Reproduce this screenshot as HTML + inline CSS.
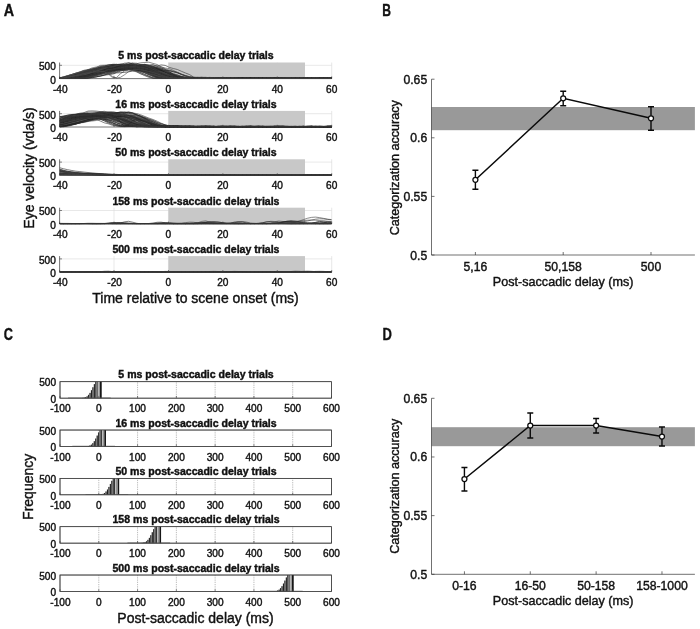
<!DOCTYPE html>
<html><head><meta charset="utf-8"><title>Figure</title>
<style>
html,body{margin:0;padding:0;background:#fff;}
svg{display:block;font-family:'Liberation Sans', Arial, Helvetica, sans-serif;fill:#111;text-anchor:middle;filter:grayscale(1);}
text{stroke:#111;stroke-width:0.4px;}
</style></head><body>
<svg width="700" height="629" viewBox="0 0 700 629">
<rect width="700" height="629" fill="#fff"/>
<text transform="translate(3.7,16) scale(0.91,1)" font-size="15.7" font-weight="bold" style="text-anchor:start;stroke-width:0.35px">A</text>
<text transform="translate(382.2,16) scale(0.77,1)" font-size="15.7" font-weight="bold" style="text-anchor:start;stroke-width:0.35px">B</text>
<text transform="translate(3.7,340.2) scale(0.81,1)" font-size="15.7" font-weight="bold" style="text-anchor:start;stroke-width:0.35px">C</text>
<text transform="translate(382.5,340.1) scale(0.83,1)" font-size="15.7" font-weight="bold" style="text-anchor:start;stroke-width:0.35px">D</text>
<line x1="114.02" y1="62.50" x2="114.02" y2="78.60" stroke="#d9d9d9" stroke-width="0.6"/>
<line x1="168.44" y1="62.50" x2="168.44" y2="78.60" stroke="#d9d9d9" stroke-width="0.6"/>
<line x1="222.86" y1="62.50" x2="222.86" y2="78.60" stroke="#d9d9d9" stroke-width="0.6"/>
<line x1="277.28" y1="62.50" x2="277.28" y2="78.60" stroke="#d9d9d9" stroke-width="0.6"/>
<line x1="331.70" y1="62.50" x2="331.70" y2="78.60" stroke="#d9d9d9" stroke-width="0.6"/>
<line x1="59.60" y1="65.30" x2="331.70" y2="65.30" stroke="#d9d9d9" stroke-width="0.6"/>
<rect x="168.44" y="62.50" width="136.55" height="16.10" fill="#c8c8c8"/>
<clipPath id="ca0"><rect x="59.6" y="60.50" width="272.10" height="18.50"/></clipPath>
<g clip-path="url(#ca0)" fill="none" stroke-width="0.62" stroke-linejoin="round">
<polyline points="59.6,78.6 63.7,77.9 67.7,77.1 71.8,75.9 75.8,74.8 79.9,74.5 84.0,74.1 88.0,72.8 92.1,71.9 96.2,71.7 100.2,71.3 104.3,70.9 108.3,70.9 112.4,70.6 116.5,70.1 120.5,70.2 124.6,70.1 128.6,69.6 132.7,69.3 136.8,69.7 140.8,70.1 144.9,70.1 148.9,70.8 153.0,72.4 157.1,73.2 161.1,74.0 165.2,75.2 169.3,76.4 173.3,77.7 177.4,78.0 181.4,77.7 185.5,77.1 189.6,77.5 193.6,78.2 197.7,78.1 201.7,78.2 205.8,78.4 209.9,78.4 213.9,78.3 218.0,78.1 222.0,78.1 226.1,78.2 230.2,78.2 234.2,78.3 238.3,78.6 242.4,78.6 246.4,78.4 250.5,78.3 254.5,78.3 258.6,78.1 262.7,78.0 266.7,78.0 270.8,78.0 274.8,78.2 278.9,78.4 283.0,78.5 287.0,78.5 291.1,78.5 295.1,78.6 299.2,78.4 303.3,78.3 307.3,78.3 311.4,78.6 315.5,78.6 319.5,78.3 323.6,78.1 327.6,78.1 331.7,78.3" stroke="rgb(72,72,72)"/>
<polyline points="59.6,78.6 63.7,78.4 67.7,78.2 71.8,77.3 75.8,76.1 79.9,75.3 84.0,74.4 88.0,73.2 92.1,72.3 96.2,71.3 100.2,70.5 104.3,69.6 108.3,68.1 112.4,67.6 116.5,66.9 120.5,66.6 124.6,66.1 128.6,65.9 132.7,65.7 136.8,65.5 140.8,65.6 144.9,66.2 148.9,67.0 153.0,68.0 157.1,69.6 161.1,71.3 165.2,73.5 169.3,75.5 173.3,77.1 177.4,78.2 181.4,78.1 185.5,77.8 189.6,77.7 193.6,77.8 197.7,78.0 201.7,78.1 205.8,78.2 209.9,78.1 213.9,78.1 218.0,78.2 222.0,78.2 226.1,78.4 230.2,78.6 234.2,78.2 238.3,78.0 242.4,78.3 246.4,78.3 250.5,78.3 254.5,78.3 258.6,78.4 262.7,78.4 266.7,78.5 270.8,78.3 274.8,78.2 278.9,78.6 283.0,78.6 287.0,78.4 291.1,78.3 295.1,78.5 299.2,78.4 303.3,77.7 307.3,78.0 311.4,78.4 315.5,78.3 319.5,78.3 323.6,78.5 327.6,78.6 331.7,78.4" stroke="rgb(31,31,31)"/>
<polyline points="59.6,78.1 63.7,78.2 67.7,78.2 71.8,78.1 75.8,78.3 79.9,78.3 84.0,77.6 88.0,76.5 92.1,75.4 96.2,74.6 100.2,73.5 104.3,72.2 108.3,71.3 112.4,70.5 116.5,69.6 120.5,68.9 124.6,68.5 128.6,67.9 132.7,67.3 136.8,67.7 140.8,68.2 144.9,67.6 148.9,66.8 153.0,66.5 157.1,66.1 161.1,64.9 165.2,65.4 169.3,67.4 173.3,68.5 177.4,69.5 181.4,71.3 185.5,73.0 189.6,74.6 193.6,77.1 197.7,77.8 201.7,77.8 205.8,77.6 209.9,77.4 213.9,77.8 218.0,78.1 222.0,78.3 226.1,78.4 230.2,78.1 234.2,78.3 238.3,78.5 242.4,78.2 246.4,78.0 250.5,77.8 254.5,78.0 258.6,78.4 262.7,78.2 266.7,78.2 270.8,78.3 274.8,78.1 278.9,77.8 283.0,77.9 287.0,78.2 291.1,78.1 295.1,78.4 299.2,78.5 303.3,78.3 307.3,78.0 311.4,77.7 315.5,78.1 319.5,78.2 323.6,78.6 327.6,78.4 331.7,77.8" stroke="rgb(53,53,53)"/>
<polyline points="59.6,78.3 63.7,78.3 67.7,77.9 71.8,77.2 75.8,76.8 79.9,76.1 84.0,75.1 88.0,74.2 92.1,73.8 96.2,73.0 100.2,72.3 104.3,71.3 108.3,70.9 112.4,70.5 116.5,69.4 120.5,69.2 124.6,69.2 128.6,68.8 132.7,69.0 136.8,69.7 140.8,70.3 144.9,70.4 148.9,71.1 153.0,71.7 157.1,72.1 161.1,73.4 165.2,74.6 169.3,75.2 173.3,76.7 177.4,77.9 181.4,78.3 185.5,78.4 189.6,78.4 193.6,78.4 197.7,78.5 201.7,78.6 205.8,78.6 209.9,78.0 213.9,78.2 218.0,78.4 222.0,78.3 226.1,78.5 230.2,78.4 234.2,78.1 238.3,78.4 242.4,78.5 246.4,78.3 250.5,78.6 254.5,78.4 258.6,77.9 262.7,78.3 266.7,78.3 270.8,78.2 274.8,78.5 278.9,78.2 283.0,78.2 287.0,78.4 291.1,78.2 295.1,78.0 299.2,78.1 303.3,78.5 307.3,78.6 311.4,78.5 315.5,78.4 319.5,78.5 323.6,78.6 327.6,78.6 331.7,78.6" stroke="rgb(64,64,64)"/>
<polyline points="59.6,77.8 63.7,77.2 67.7,75.7 71.8,74.5 75.8,73.5 79.9,71.9 84.0,70.7 88.0,70.5 92.1,70.3 96.2,69.3 100.2,68.6 104.3,67.8 108.3,66.4 112.4,64.8 116.5,64.4 120.5,64.9 124.6,66.2 128.6,66.5 132.7,67.5 136.8,68.6 140.8,69.0 144.9,71.3 148.9,73.6 153.0,75.4 157.1,77.3 161.1,78.0 165.2,78.1 169.3,77.9 173.3,77.9 177.4,78.2 181.4,78.3 185.5,78.5 189.6,78.4 193.6,78.3 197.7,78.5 201.7,78.6 205.8,78.6 209.9,78.4 213.9,78.3 218.0,78.4 222.0,78.5 226.1,78.5 230.2,78.5 234.2,78.6 238.3,78.5 242.4,78.3 246.4,78.6 250.5,78.3 254.5,78.2 258.6,78.4 262.7,78.5 266.7,78.6 270.8,78.6 274.8,78.3 278.9,78.4 283.0,78.4 287.0,78.4 291.1,78.6 295.1,78.5 299.2,78.4 303.3,78.4 307.3,78.5 311.4,78.6 315.5,78.6 319.5,78.6 323.6,78.6 327.6,78.6 331.7,78.6" stroke="rgb(30,30,30)"/>
<polyline points="59.6,78.3 63.7,77.8 67.7,77.2 71.8,76.4 75.8,75.1 79.9,73.6 84.0,72.3 88.0,70.7 92.1,70.2 96.2,69.8 100.2,69.7 104.3,69.2 108.3,69.1 112.4,68.2 116.5,68.0 120.5,67.2 124.6,66.6 128.6,67.1 132.7,67.8 136.8,69.0 140.8,70.4 144.9,72.5 148.9,74.1 153.0,75.3 157.1,76.2 161.1,76.9 165.2,77.7 169.3,77.6 173.3,77.1 177.4,77.4 181.4,77.7 185.5,77.6 189.6,77.8 193.6,78.3 197.7,78.3 201.7,78.5 205.8,78.4 209.9,78.3 213.9,78.3 218.0,78.2 222.0,78.4 226.1,78.3 230.2,78.3 234.2,78.3 238.3,78.4 242.4,78.5 246.4,78.4 250.5,78.4 254.5,78.4 258.6,78.6 262.7,78.6 266.7,78.5 270.8,78.2 274.8,78.4 278.9,78.6 283.0,78.6 287.0,78.5 291.1,78.4 295.1,78.5 299.2,78.3 303.3,78.0 307.3,78.1 311.4,78.3 315.5,78.4 319.5,78.3 323.6,78.5 327.6,78.4 331.7,78.2" stroke="rgb(69,69,69)"/>
<polyline points="59.6,78.2 63.7,78.3 67.7,78.6 71.8,78.3 75.8,77.9 79.9,77.4 84.0,77.0 88.0,76.5 92.1,75.7 96.2,74.6 100.2,73.5 104.3,72.3 108.3,72.0 112.4,71.2 116.5,70.7 120.5,69.1 124.6,68.4 128.6,67.5 132.7,66.3 136.8,65.4 140.8,65.7 144.9,66.1 148.9,66.3 153.0,67.3 157.1,68.5 161.1,69.8 165.2,71.0 169.3,72.9 173.3,74.4 177.4,76.0 181.4,77.2 185.5,78.0 189.6,78.2 193.6,78.4 197.7,78.1 201.7,78.1 205.8,78.5 209.9,78.2 213.9,78.1 218.0,78.2 222.0,78.1 226.1,78.0 230.2,78.1 234.2,77.9 238.3,78.1 242.4,78.5 246.4,78.4 250.5,78.5 254.5,78.4 258.6,78.1 262.7,78.2 266.7,78.6 270.8,78.3 274.8,78.2 278.9,78.0 283.0,77.9 287.0,78.2 291.1,78.4 295.1,78.4 299.2,78.3 303.3,78.6 307.3,78.5 311.4,78.4 315.5,78.4 319.5,78.4 323.6,78.2 327.6,78.0 331.7,78.1" stroke="rgb(47,47,47)"/>
<polyline points="59.6,78.6 63.7,78.6 67.7,77.2 71.8,76.0 75.8,74.9 79.9,73.6 84.0,72.4 88.0,71.2 92.1,69.6 96.2,68.8 100.2,67.8 104.3,66.7 108.3,66.0 112.4,65.8 116.5,65.4 120.5,64.9 124.6,65.0 128.6,65.7 132.7,66.1 136.8,66.5 140.8,67.6 144.9,69.3 148.9,70.0 153.0,72.0 157.1,74.5 161.1,76.6 165.2,77.7 169.3,77.8 173.3,77.9 177.4,77.9 181.4,78.0 185.5,77.8 189.6,77.9 193.6,77.9 197.7,78.2 201.7,78.1 205.8,78.1 209.9,78.2 213.9,78.0 218.0,78.1 222.0,78.4 226.1,78.3 230.2,78.2 234.2,78.5 238.3,78.5 242.4,78.2 246.4,78.1 250.5,78.5 254.5,78.4 258.6,77.7 262.7,77.6 266.7,78.0 270.8,78.2 274.8,78.1 278.9,78.0 283.0,78.0 287.0,78.3 291.1,78.2 295.1,78.0 299.2,78.3 303.3,78.4 307.3,78.2 311.4,78.1 315.5,78.1 319.5,78.0 323.6,78.0 327.6,78.1 331.7,78.4" stroke="rgb(49,49,49)"/>
<polyline points="59.6,78.6 63.7,78.6 67.7,77.9 71.8,76.7 75.8,75.8 79.9,74.7 84.0,73.9 88.0,73.2 92.1,71.7 96.2,70.0 100.2,69.1 104.3,68.5 108.3,68.2 112.4,68.0 116.5,68.5 120.5,68.2 124.6,68.1 128.6,67.1 132.7,67.1 136.8,67.3 140.8,68.1 144.9,69.0 148.9,70.6 153.0,71.9 157.1,73.7 161.1,74.7 165.2,76.4 169.3,78.0 173.3,78.3 177.4,78.1 181.4,78.4 185.5,78.6 189.6,78.6 193.6,78.3 197.7,78.4 201.7,78.5 205.8,78.2 209.9,78.2 213.9,78.2 218.0,78.2 222.0,78.6 226.1,78.6 230.2,78.4 234.2,78.6 238.3,78.6 242.4,78.6 246.4,78.6 250.5,78.6 254.5,78.6 258.6,78.6 262.7,78.6 266.7,78.6 270.8,78.5 274.8,78.6 278.9,78.4 283.0,78.4 287.0,78.5 291.1,78.6 295.1,78.6 299.2,78.5 303.3,78.5 307.3,78.6 311.4,78.6 315.5,78.6 319.5,78.6 323.6,78.5 327.6,78.3 331.7,78.6" stroke="rgb(66,66,66)"/>
<polyline points="59.6,78.4 63.7,78.3 67.7,78.3 71.8,78.0 75.8,77.2 79.9,76.4 84.0,75.2 88.0,73.9 92.1,72.4 96.2,70.7 100.2,69.8 104.3,69.3 108.3,68.7 112.4,67.9 116.5,67.7 120.5,68.0 124.6,67.4 128.6,67.6 132.7,68.4 136.8,69.1 140.8,69.3 144.9,70.8 148.9,72.0 153.0,73.8 157.1,75.2 161.1,76.6 165.2,77.2 169.3,77.6 173.3,77.8 177.4,77.9 181.4,77.9 185.5,78.1 189.6,78.4 193.6,78.2 197.7,78.0 201.7,78.2 205.8,78.3 209.9,78.3 213.9,78.3 218.0,78.5 222.0,78.6 226.1,78.5 230.2,78.5 234.2,78.6 238.3,78.5 242.4,78.5 246.4,78.4 250.5,78.3 254.5,78.3 258.6,78.4 262.7,78.5 266.7,78.3 270.8,78.1 274.8,78.3 278.9,78.3 283.0,78.2 287.0,78.2 291.1,78.0 295.1,78.1 299.2,78.3 303.3,78.1 307.3,78.2 311.4,78.5 315.5,78.3 319.5,78.1 323.6,78.2 327.6,78.2 331.7,78.3" stroke="rgb(32,32,32)"/>
<polyline points="59.6,78.2 63.7,76.9 67.7,75.9 71.8,74.6 75.8,73.1 79.9,72.1 84.0,70.2 88.0,69.6 92.1,67.9 96.2,67.0 100.2,66.7 104.3,66.5 108.3,64.8 112.4,64.7 116.5,65.5 120.5,65.7 124.6,66.8 128.6,68.1 132.7,69.8 136.8,70.8 140.8,72.6 144.9,74.4 148.9,76.2 153.0,77.9 157.1,78.0 161.1,78.0 165.2,78.1 169.3,78.1 173.3,78.1 177.4,78.2 181.4,78.1 185.5,78.1 189.6,78.3 193.6,78.5 197.7,78.4 201.7,78.4 205.8,78.6 209.9,78.6 213.9,78.5 218.0,78.5 222.0,78.4 226.1,78.2 230.2,78.6 234.2,78.6 238.3,78.2 242.4,78.3 246.4,78.6 250.5,78.5 254.5,78.1 258.6,78.1 262.7,78.3 266.7,78.4 270.8,78.3 274.8,78.2 278.9,77.9 283.0,78.1 287.0,78.2 291.1,78.3 295.1,78.4 299.2,78.5 303.3,78.6 307.3,78.5 311.4,78.5 315.5,78.4 319.5,78.4 323.6,78.5 327.6,78.4 331.7,78.5" stroke="rgb(67,67,67)"/>
<polyline points="59.6,78.6 63.7,78.6 67.7,78.6 71.8,78.5 75.8,78.2 79.9,78.0 84.0,78.0 88.0,77.7 92.1,76.6 96.2,75.4 100.2,74.8 104.3,74.0 108.3,73.0 112.4,71.9 116.5,70.3 120.5,69.7 124.6,68.1 128.6,67.9 132.7,67.0 136.8,67.2 140.8,66.7 144.9,67.0 148.9,67.2 153.0,68.1 157.1,68.2 161.1,69.2 165.2,70.6 169.3,72.0 173.3,73.6 177.4,75.0 181.4,76.8 185.5,78.0 189.6,77.7 193.6,77.7 197.7,77.8 201.7,77.7 205.8,78.0 209.9,78.1 213.9,78.0 218.0,78.3 222.0,78.4 226.1,78.1 230.2,78.1 234.2,78.2 238.3,78.1 242.4,78.2 246.4,78.2 250.5,78.1 254.5,78.4 258.6,78.3 262.7,78.1 266.7,78.0 270.8,78.2 274.8,78.3 278.9,78.0 283.0,78.0 287.0,78.1 291.1,77.9 295.1,78.1 299.2,78.2 303.3,78.2 307.3,78.1 311.4,78.1 315.5,78.4 319.5,78.3 323.6,78.3 327.6,78.2 331.7,78.1" stroke="rgb(56,56,56)"/>
<polyline points="59.6,78.5 63.7,78.4 67.7,78.4 71.8,78.6 75.8,78.3 79.9,77.6 84.0,77.4 88.0,76.3 92.1,75.0 96.2,73.9 100.2,72.6 104.3,71.8 108.3,71.3 112.4,70.3 116.5,68.5 120.5,67.7 124.6,67.6 128.6,67.0 132.7,65.9 136.8,65.8 140.8,65.1 144.9,64.3 148.9,65.3 153.0,66.5 157.1,68.7 161.1,70.6 165.2,71.9 169.3,73.5 173.3,75.0 177.4,75.7 181.4,76.6 185.5,77.4 189.6,78.0 193.6,77.9 197.7,78.0 201.7,78.2 205.8,78.0 209.9,78.0 213.9,78.3 218.0,78.6 222.0,78.3 226.1,78.2 230.2,78.6 234.2,78.6 238.3,78.6 242.4,78.2 246.4,78.2 250.5,78.2 254.5,78.2 258.6,78.3 262.7,78.2 266.7,78.3 270.8,78.4 274.8,78.4 278.9,78.6 283.0,78.4 287.0,78.4 291.1,78.5 295.1,78.5 299.2,78.5 303.3,78.5 307.3,78.3 311.4,78.2 315.5,78.4 319.5,78.2 323.6,78.6 327.6,78.6 331.7,78.6" stroke="rgb(56,56,56)"/>
<polyline points="59.6,78.2 63.7,78.0 67.7,77.9 71.8,77.0 75.8,76.1 79.9,75.2 84.0,74.1 88.0,72.9 92.1,72.0 96.2,71.1 100.2,70.0 104.3,69.5 108.3,68.7 112.4,67.8 116.5,66.9 120.5,66.2 124.6,66.0 128.6,65.8 132.7,66.2 136.8,66.2 140.8,68.0 144.9,68.6 148.9,68.9 153.0,70.7 157.1,72.6 161.1,73.7 165.2,74.7 169.3,76.3 173.3,77.4 177.4,77.3 181.4,77.3 185.5,77.7 189.6,77.5 193.6,77.5 197.7,77.9 201.7,77.7 205.8,77.7 209.9,78.1 213.9,78.1 218.0,78.2 222.0,78.2 226.1,78.1 230.2,78.2 234.2,78.3 238.3,78.2 242.4,78.1 246.4,78.0 250.5,78.0 254.5,78.0 258.6,78.1 262.7,78.1 266.7,78.3 270.8,78.0 274.8,78.3 278.9,78.4 283.0,77.6 287.0,78.0 291.1,78.2 295.1,78.2 299.2,78.4 303.3,77.9 307.3,77.7 311.4,78.1 315.5,78.5 319.5,78.6 323.6,78.3 327.6,78.1 331.7,78.2" stroke="rgb(61,61,61)"/>
<polyline points="59.6,78.5 63.7,78.6 67.7,77.3 71.8,75.8 75.8,74.3 79.9,73.0 84.0,71.7 88.0,69.7 92.1,69.0 96.2,67.6 100.2,65.4 104.3,65.2 108.3,65.4 112.4,64.3 116.5,64.3 120.5,65.8 124.6,66.0 128.6,65.7 132.7,66.8 136.8,67.5 140.8,67.8 144.9,69.0 148.9,71.2 153.0,73.3 157.1,75.1 161.1,77.0 165.2,78.5 169.3,78.1 173.3,78.1 177.4,78.3 181.4,78.5 185.5,78.6 189.6,78.4 193.6,78.5 197.7,78.6 201.7,78.6 205.8,78.4 209.9,78.3 213.9,78.6 218.0,78.6 222.0,78.5 226.1,78.5 230.2,78.6 234.2,78.6 238.3,78.5 242.4,78.5 246.4,78.6 250.5,78.6 254.5,78.5 258.6,78.6 262.7,78.6 266.7,78.4 270.8,78.6 274.8,78.5 278.9,78.4 283.0,78.2 287.0,78.2 291.1,78.3 295.1,78.6 299.2,78.6 303.3,78.6 307.3,78.6 311.4,78.6 315.5,78.5 319.5,78.6 323.6,78.6 327.6,78.6 331.7,78.6" stroke="rgb(53,53,53)"/>
<polyline points="59.6,78.6 63.7,78.3 67.7,78.2 71.8,77.4 75.8,76.4 79.9,75.4 84.0,74.1 88.0,72.7 92.1,71.6 96.2,70.3 100.2,69.4 104.3,68.2 108.3,67.1 112.4,65.5 116.5,65.3 120.5,64.9 124.6,65.1 128.6,64.8 132.7,65.2 136.8,65.6 140.8,66.1 144.9,67.6 148.9,68.7 153.0,70.1 157.1,71.6 161.1,73.4 165.2,75.0 169.3,76.9 173.3,78.1 177.4,78.1 181.4,78.0 185.5,78.0 189.6,78.0 193.6,77.9 197.7,77.7 201.7,77.9 205.8,78.0 209.9,78.2 213.9,78.5 218.0,78.4 222.0,78.2 226.1,78.1 230.2,78.4 234.2,78.2 238.3,78.1 242.4,78.5 246.4,78.1 250.5,78.3 254.5,78.6 258.6,78.6 262.7,78.6 266.7,78.6 270.8,78.6 274.8,78.2 278.9,78.3 283.0,78.1 287.0,77.9 291.1,78.1 295.1,78.3 299.2,78.4 303.3,78.4 307.3,78.2 311.4,78.1 315.5,78.3 319.5,78.4 323.6,78.2 327.6,78.3 331.7,78.3" stroke="rgb(50,50,50)"/>
<polyline points="59.6,78.4 63.7,78.3 67.7,77.9 71.8,77.6 75.8,76.8 79.9,75.2 84.0,74.3 88.0,73.3 92.1,72.2 96.2,71.0 100.2,69.6 104.3,68.1 108.3,67.5 112.4,66.5 116.5,66.2 120.5,65.7 124.6,64.8 128.6,64.8 132.7,65.0 136.8,65.5 140.8,67.5 144.9,69.3 148.9,70.6 153.0,72.9 157.1,74.5 161.1,75.8 165.2,77.0 169.3,78.1 173.3,78.3 177.4,78.0 181.4,77.7 185.5,77.5 189.6,77.9 193.6,77.9 197.7,77.8 201.7,78.1 205.8,78.2 209.9,78.4 213.9,78.1 218.0,78.0 222.0,78.3 226.1,78.1 230.2,77.8 234.2,78.2 238.3,78.5 242.4,78.2 246.4,78.0 250.5,77.6 254.5,77.9 258.6,78.2 262.7,78.0 266.7,77.9 270.8,78.1 274.8,78.1 278.9,78.2 283.0,78.6 287.0,78.6 291.1,78.4 295.1,78.1 299.2,78.4 303.3,78.6 307.3,78.5 311.4,78.6 315.5,78.6 319.5,78.0 323.6,78.5 327.6,78.5 331.7,78.1" stroke="rgb(51,51,51)"/>
<polyline points="59.6,78.1 63.7,78.0 67.7,77.7 71.8,76.9 75.8,76.1 79.9,74.9 84.0,73.9 88.0,73.4 92.1,72.1 96.2,70.9 100.2,69.5 104.3,69.1 108.3,67.9 112.4,67.7 116.5,67.2 120.5,66.8 124.6,65.2 128.6,64.8 132.7,65.1 136.8,65.3 140.8,65.5 144.9,66.4 148.9,67.8 153.0,69.0 157.1,70.5 161.1,71.9 165.2,73.7 169.3,74.8 173.3,76.3 177.4,77.5 181.4,77.4 185.5,77.5 189.6,77.4 193.6,77.7 197.7,77.7 201.7,78.0 205.8,78.1 209.9,77.6 213.9,77.8 218.0,78.2 222.0,78.4 226.1,78.4 230.2,78.4 234.2,78.3 238.3,78.1 242.4,78.5 246.4,78.6 250.5,78.6 254.5,78.4 258.6,78.1 262.7,78.1 266.7,78.4 270.8,78.4 274.8,78.2 278.9,78.5 283.0,78.4 287.0,78.0 291.1,78.5 295.1,78.3 299.2,78.2 303.3,78.4 307.3,78.0 311.4,78.2 315.5,78.6 319.5,78.6 323.6,78.5 327.6,78.3 331.7,78.3" stroke="rgb(67,67,67)"/>
<polyline points="59.6,78.0 63.7,78.1 67.7,78.1 71.8,78.1 75.8,78.4 79.9,78.4 84.0,77.8 88.0,77.2 92.1,76.5 96.2,74.9 100.2,73.7 104.3,72.9 108.3,72.1 112.4,71.3 116.5,70.5 120.5,69.9 124.6,69.1 128.6,69.1 132.7,69.1 136.8,68.4 140.8,67.4 144.9,67.2 148.9,66.9 153.0,66.6 157.1,67.6 161.1,69.1 165.2,70.3 169.3,72.6 173.3,74.0 177.4,74.9 181.4,76.3 185.5,77.4 189.6,77.6 193.6,77.4 197.7,77.2 201.7,77.5 205.8,77.7 209.9,77.8 213.9,77.8 218.0,78.0 222.0,78.3 226.1,78.0 230.2,78.2 234.2,78.3 238.3,78.1 242.4,78.2 246.4,78.3 250.5,78.0 254.5,77.9 258.6,78.2 262.7,78.2 266.7,78.1 270.8,77.9 274.8,77.8 278.9,77.9 283.0,77.8 287.0,78.1 291.1,78.6 295.1,78.6 299.2,78.3 303.3,78.4 307.3,78.5 311.4,78.0 315.5,78.2 319.5,78.4 323.6,78.3 327.6,78.1 331.7,78.3" stroke="rgb(58,58,58)"/>
<polyline points="59.6,78.5 63.7,78.4 67.7,77.7 71.8,76.9 75.8,75.9 79.9,74.6 84.0,73.2 88.0,72.1 92.1,71.5 96.2,70.6 100.2,70.3 104.3,70.0 108.3,69.2 112.4,67.8 116.5,67.0 120.5,66.8 124.6,66.3 128.6,66.2 132.7,67.2 136.8,67.4 140.8,67.4 144.9,68.0 148.9,68.3 153.0,69.1 157.1,70.9 161.1,72.4 165.2,74.2 169.3,76.2 173.3,77.9 177.4,78.1 181.4,77.8 185.5,77.7 189.6,77.5 193.6,77.8 197.7,78.2 201.7,78.3 205.8,78.4 209.9,78.4 213.9,78.6 218.0,78.4 222.0,78.2 226.1,78.2 230.2,78.3 234.2,78.4 238.3,78.3 242.4,78.6 246.4,78.6 250.5,78.5 254.5,78.3 258.6,78.6 262.7,78.6 266.7,78.6 270.8,78.6 274.8,78.3 278.9,78.3 283.0,78.2 287.0,78.2 291.1,78.6 295.1,78.3 299.2,78.0 303.3,78.1 307.3,77.9 311.4,78.0 315.5,78.1 319.5,78.5 323.6,78.6 327.6,78.5 331.7,78.3" stroke="rgb(79,79,79)"/>
<polyline points="59.6,78.4 63.7,78.6 67.7,78.2 71.8,77.6 75.8,77.0 79.9,75.6 84.0,74.4 88.0,73.5 92.1,72.6 96.2,71.8 100.2,70.9 104.3,70.1 108.3,68.6 112.4,67.9 116.5,67.2 120.5,66.5 124.6,65.9 128.6,67.5 132.7,67.3 136.8,67.4 140.8,68.5 144.9,70.1 148.9,71.0 153.0,71.8 157.1,72.7 161.1,74.5 165.2,76.2 169.3,77.2 173.3,77.9 177.4,78.1 181.4,78.1 185.5,78.1 189.6,78.0 193.6,77.9 197.7,77.8 201.7,77.9 205.8,78.1 209.9,78.2 213.9,78.2 218.0,78.3 222.0,78.2 226.1,78.0 230.2,78.1 234.2,78.2 238.3,78.3 242.4,78.1 246.4,78.3 250.5,78.5 254.5,78.6 258.6,78.2 262.7,77.9 266.7,78.1 270.8,78.3 274.8,78.4 278.9,78.6 283.0,78.6 287.0,78.6 291.1,78.4 295.1,78.5 299.2,78.4 303.3,78.1 307.3,78.2 311.4,78.6 315.5,78.6 319.5,78.4 323.6,78.5 327.6,78.6 331.7,78.4" stroke="rgb(41,41,41)"/>
<polyline points="59.6,78.6 63.7,78.5 67.7,78.0 71.8,77.3 75.8,76.2 79.9,74.8 84.0,73.9 88.0,72.7 92.1,71.9 96.2,70.8 100.2,69.5 104.3,68.6 108.3,68.1 112.4,66.4 116.5,66.0 120.5,66.1 124.6,66.4 128.6,65.8 132.7,66.1 136.8,66.3 140.8,66.0 144.9,66.3 148.9,67.8 153.0,69.9 157.1,72.1 161.1,73.9 165.2,76.0 169.3,77.5 173.3,77.9 177.4,77.8 181.4,78.0 185.5,78.2 189.6,78.2 193.6,78.4 197.7,78.2 201.7,78.2 205.8,78.6 209.9,78.6 213.9,78.6 218.0,78.5 222.0,78.4 226.1,78.6 230.2,78.5 234.2,78.3 238.3,78.4 242.4,78.6 246.4,78.4 250.5,78.3 254.5,78.6 258.6,78.6 262.7,78.6 266.7,78.6 270.8,78.4 274.8,78.5 278.9,78.6 283.0,78.2 287.0,78.1 291.1,78.5 295.1,78.6 299.2,78.6 303.3,78.6 307.3,78.3 311.4,78.4 315.5,78.4 319.5,78.4 323.6,78.5 327.6,78.6 331.7,78.6" stroke="rgb(53,53,53)"/>
<polyline points="59.6,78.5 63.7,78.6 67.7,78.2 71.8,78.1 75.8,78.2 79.9,77.6 84.0,76.8 88.0,76.1 92.1,75.3 96.2,74.5 100.2,73.1 104.3,71.7 108.3,71.0 112.4,70.5 116.5,70.1 120.5,70.0 124.6,69.6 128.6,69.2 132.7,69.6 136.8,69.2 140.8,69.7 144.9,70.6 148.9,72.2 153.0,73.6 157.1,75.3 161.1,77.0 165.2,77.8 169.3,77.9 173.3,77.8 177.4,77.8 181.4,77.9 185.5,78.0 189.6,78.3 193.6,78.6 197.7,78.5 201.7,78.3 205.8,78.1 209.9,77.7 213.9,77.9 218.0,78.4 222.0,78.4 226.1,78.2 230.2,78.2 234.2,78.4 238.3,78.5 242.4,78.3 246.4,78.5 250.5,78.6 254.5,78.3 258.6,78.4 262.7,78.6 266.7,78.3 270.8,78.1 274.8,78.0 278.9,78.3 283.0,78.2 287.0,78.2 291.1,78.1 295.1,77.8 299.2,78.1 303.3,78.2 307.3,78.2 311.4,78.4 315.5,78.3 319.5,78.1 323.6,78.1 327.6,78.0 331.7,77.9" stroke="rgb(40,40,40)"/>
<polyline points="59.6,78.2 63.7,78.3 67.7,78.6 71.8,78.2 75.8,77.1 79.9,75.9 84.0,75.0 88.0,74.1 92.1,72.2 96.2,70.9 100.2,70.1 104.3,68.8 108.3,68.2 112.4,67.5 116.5,66.2 120.5,65.4 124.6,65.7 128.6,64.9 132.7,65.2 136.8,66.5 140.8,67.1 144.9,67.7 148.9,68.5 153.0,69.8 157.1,71.5 161.1,73.4 165.2,75.1 169.3,76.9 173.3,77.9 177.4,77.6 181.4,77.6 185.5,77.7 189.6,77.5 193.6,77.7 197.7,78.4 201.7,78.3 205.8,77.8 209.9,77.8 213.9,77.9 218.0,78.3 222.0,78.2 226.1,77.9 230.2,78.0 234.2,78.1 238.3,78.3 242.4,78.3 246.4,78.0 250.5,77.9 254.5,78.2 258.6,78.4 262.7,78.3 266.7,78.1 270.8,78.2 274.8,78.0 278.9,77.9 283.0,78.1 287.0,78.2 291.1,78.1 295.1,78.1 299.2,78.0 303.3,78.1 307.3,78.3 311.4,78.2 315.5,77.9 319.5,78.2 323.6,78.3 327.6,78.2 331.7,78.6" stroke="rgb(68,68,68)"/>
<polyline points="59.6,78.2 63.7,78.1 67.7,78.2 71.8,78.6 75.8,78.4 79.9,77.6 84.0,76.8 88.0,76.1 92.1,75.1 96.2,74.0 100.2,73.1 104.3,72.1 108.3,71.0 112.4,69.3 116.5,68.2 120.5,67.3 124.6,65.9 128.6,65.1 132.7,65.3 136.8,64.3 140.8,64.4 144.9,64.7 148.9,65.2 153.0,66.3 157.1,68.0 161.1,70.1 165.2,72.5 169.3,74.6 173.3,76.8 177.4,78.1 181.4,78.1 185.5,77.8 189.6,77.6 193.6,77.9 197.7,78.1 201.7,78.0 205.8,78.1 209.9,78.1 213.9,78.3 218.0,78.3 222.0,78.4 226.1,78.6 230.2,78.5 234.2,78.2 238.3,77.8 242.4,77.9 246.4,78.1 250.5,78.3 254.5,78.1 258.6,77.8 262.7,78.0 266.7,78.2 270.8,78.4 274.8,78.4 278.9,78.1 283.0,78.2 287.0,78.4 291.1,78.0 295.1,77.9 299.2,77.9 303.3,78.0 307.3,78.2 311.4,78.0 315.5,78.0 319.5,78.1 323.6,78.3 327.6,78.6 331.7,78.3" stroke="rgb(64,64,64)"/>
<polyline points="59.6,78.1 63.7,76.9 67.7,75.7 71.8,74.4 75.8,73.1 79.9,71.9 84.0,70.6 88.0,70.0 92.1,68.9 96.2,68.5 100.2,67.5 104.3,67.1 108.3,66.7 112.4,67.0 116.5,66.7 120.5,66.7 124.6,67.0 128.6,68.0 132.7,69.4 136.8,71.6 140.8,73.8 144.9,75.8 148.9,77.4 153.0,78.3 157.1,78.2 161.1,78.1 165.2,78.3 169.3,78.2 173.3,78.0 177.4,78.3 181.4,78.6 185.5,78.4 189.6,78.6 193.6,78.6 197.7,78.1 201.7,78.4 205.8,78.5 209.9,78.3 213.9,78.4 218.0,78.6 222.0,78.6 226.1,78.6 230.2,78.6 234.2,78.6 238.3,78.6 242.4,78.6 246.4,78.6 250.5,78.6 254.5,78.6 258.6,78.6 262.7,78.5 266.7,78.4 270.8,78.2 274.8,78.3 278.9,78.4 283.0,78.3 287.0,78.6 291.1,78.6 295.1,78.6 299.2,78.6 303.3,78.6 307.3,78.3 311.4,78.5 315.5,78.6 319.5,78.5 323.6,78.4 327.6,78.3 331.7,78.4" stroke="rgb(78,78,78)"/>
<polyline points="59.6,78.2 63.7,78.2 67.7,77.7 71.8,76.6 75.8,75.7 79.9,75.0 84.0,73.7 88.0,72.3 92.1,71.3 96.2,70.5 100.2,69.6 104.3,68.3 108.3,67.5 112.4,66.9 116.5,65.7 120.5,64.9 124.6,65.6 128.6,64.3 132.7,64.2 136.8,66.3 140.8,67.6 144.9,69.5 148.9,71.5 153.0,74.0 157.1,76.2 161.1,77.2 165.2,77.5 169.3,77.7 173.3,77.9 177.4,77.8 181.4,77.6 185.5,77.7 189.6,77.9 193.6,78.0 197.7,78.0 201.7,78.0 205.8,78.0 209.9,78.0 213.9,78.2 218.0,78.3 222.0,78.5 226.1,78.5 230.2,78.0 234.2,78.0 238.3,77.8 242.4,77.9 246.4,78.3 250.5,78.3 254.5,78.3 258.6,78.2 262.7,78.4 266.7,78.4 270.8,77.9 274.8,77.8 278.9,78.0 283.0,78.1 287.0,78.3 291.1,78.0 295.1,78.0 299.2,78.2 303.3,78.2 307.3,78.1 311.4,78.0 315.5,77.8 319.5,78.1 323.6,78.6 327.6,78.4 331.7,78.1" stroke="rgb(25,25,25)"/>
<polyline points="59.6,78.5 63.7,78.5 67.7,78.4 71.8,78.4 75.8,78.4 79.9,78.0 84.0,77.5 88.0,76.5 92.1,75.7 96.2,74.8 100.2,73.9 104.3,73.0 108.3,71.6 112.4,70.4 116.5,70.6 120.5,69.8 124.6,68.6 128.6,68.3 132.7,67.7 136.8,67.7 140.8,67.6 144.9,67.8 148.9,68.6 153.0,69.7 157.1,70.9 161.1,72.9 165.2,74.9 169.3,76.4 173.3,78.0 177.4,78.1 181.4,78.1 185.5,78.0 189.6,77.9 193.6,77.9 197.7,78.1 201.7,78.2 205.8,78.2 209.9,78.5 213.9,78.4 218.0,78.4 222.0,78.6 226.1,78.1 230.2,78.0 234.2,78.5 238.3,78.6 242.4,78.6 246.4,78.6 250.5,78.6 254.5,78.6 258.6,78.6 262.7,78.6 266.7,78.4 270.8,78.3 274.8,78.1 278.9,78.4 283.0,78.6 287.0,78.6 291.1,78.6 295.1,78.5 299.2,78.4 303.3,78.6 307.3,78.6 311.4,78.6 315.5,78.6 319.5,78.6 323.6,78.6 327.6,78.6 331.7,78.4" stroke="rgb(77,77,77)"/>
<polyline points="59.6,78.6 63.7,78.6 67.7,78.4 71.8,78.4 75.8,78.6 79.9,78.6 84.0,77.9 88.0,77.1 92.1,76.1 96.2,74.7 100.2,73.5 104.3,73.3 108.3,72.3 112.4,70.9 116.5,70.2 120.5,70.2 124.6,69.7 128.6,69.2 132.7,68.6 136.8,67.0 140.8,66.6 144.9,66.5 148.9,67.3 153.0,67.6 157.1,69.5 161.1,70.8 165.2,72.6 169.3,74.5 173.3,76.4 177.4,77.9 181.4,78.1 185.5,78.1 189.6,78.1 193.6,78.1 197.7,78.5 201.7,78.6 205.8,78.6 209.9,78.6 213.9,78.6 218.0,78.6 222.0,78.4 226.1,78.6 230.2,78.3 234.2,78.2 238.3,78.4 242.4,78.6 246.4,78.6 250.5,78.4 254.5,78.6 258.6,78.4 262.7,78.4 266.7,78.6 270.8,78.3 274.8,78.2 278.9,78.5 283.0,78.3 287.0,78.1 291.1,78.0 295.1,78.2 299.2,78.4 303.3,78.3 307.3,78.2 311.4,78.4 315.5,78.5 319.5,78.5 323.6,78.6 327.6,78.6 331.7,78.5" stroke="rgb(69,69,69)"/>
<polyline points="59.6,78.5 63.7,78.4 67.7,78.6 71.8,78.6 75.8,78.6 79.9,78.3 84.0,78.0 88.0,77.2 92.1,76.3 96.2,75.4 100.2,74.2 104.3,72.8 108.3,71.5 112.4,70.7 116.5,69.6 120.5,68.6 124.6,67.7 128.6,67.3 132.7,67.0 136.8,66.3 140.8,65.6 144.9,65.4 148.9,65.2 153.0,64.7 157.1,66.3 161.1,67.9 165.2,69.4 169.3,71.7 173.3,74.5 177.4,77.0 181.4,78.1 185.5,78.1 189.6,78.2 193.6,78.1 197.7,78.0 201.7,78.2 205.8,78.4 209.9,78.3 213.9,78.2 218.0,78.1 222.0,78.2 226.1,78.4 230.2,78.3 234.2,78.5 238.3,78.6 242.4,78.5 246.4,78.6 250.5,78.6 254.5,78.6 258.6,78.5 262.7,78.2 266.7,78.3 270.8,78.2 274.8,78.3 278.9,78.5 283.0,78.6 287.0,78.5 291.1,78.2 295.1,78.1 299.2,78.3 303.3,78.6 307.3,78.6 311.4,78.4 315.5,78.1 319.5,78.2 323.6,78.3 327.6,78.4 331.7,78.5" stroke="rgb(30,30,30)"/>
<polyline points="59.6,78.2 63.7,78.2 67.7,78.3 71.8,77.8 75.8,77.0 79.9,76.3 84.0,75.4 88.0,74.4 92.1,73.0 96.2,71.8 100.2,70.4 104.3,69.3 108.3,68.5 112.4,68.4 116.5,67.3 120.5,67.2 124.6,66.8 128.6,66.6 132.7,68.1 136.8,69.7 140.8,71.3 144.9,72.6 148.9,74.4 153.0,76.2 157.1,77.3 161.1,77.4 165.2,77.5 169.3,77.6 173.3,77.4 177.4,77.7 181.4,78.1 185.5,77.8 189.6,77.9 193.6,78.2 197.7,78.0 201.7,77.9 205.8,77.9 209.9,78.4 213.9,78.6 218.0,78.0 222.0,78.1 226.1,78.0 230.2,77.8 234.2,78.3 238.3,78.2 242.4,77.8 246.4,78.0 250.5,78.2 254.5,78.2 258.6,78.4 262.7,78.2 266.7,78.1 270.8,78.0 274.8,78.1 278.9,77.8 283.0,78.0 287.0,78.6 291.1,78.3 295.1,78.0 299.2,78.3 303.3,78.1 307.3,78.0 311.4,78.5 315.5,78.3 319.5,78.0 323.6,77.7 327.6,78.0 331.7,78.6" stroke="rgb(36,36,36)"/>
<polyline points="59.6,78.3 63.7,78.1 67.7,77.4 71.8,76.5 75.8,75.3 79.9,74.3 84.0,73.5 88.0,72.1 92.1,70.4 96.2,69.8 100.2,68.1 104.3,67.3 108.3,66.7 112.4,66.2 116.5,66.4 120.5,66.4 124.6,66.3 128.6,67.6 132.7,68.5 136.8,69.8 140.8,71.2 144.9,73.0 148.9,75.1 153.0,76.6 157.1,77.9 161.1,78.0 165.2,78.2 169.3,78.4 173.3,78.1 177.4,78.2 181.4,78.6 185.5,78.6 189.6,78.6 193.6,78.6 197.7,78.6 201.7,78.4 205.8,78.1 209.9,78.3 213.9,78.3 218.0,78.1 222.0,78.4 226.1,78.4 230.2,78.1 234.2,78.0 238.3,78.1 242.4,78.3 246.4,78.3 250.5,78.3 254.5,78.4 258.6,78.4 262.7,78.1 266.7,78.3 270.8,78.6 274.8,78.6 278.9,78.5 283.0,78.1 287.0,78.1 291.1,78.3 295.1,78.5 299.2,78.3 303.3,78.3 307.3,78.4 311.4,78.4 315.5,78.4 319.5,78.4 323.6,78.4 327.6,78.6 331.7,78.6" stroke="rgb(62,62,62)"/>
<polyline points="59.6,78.1 63.7,77.7 67.7,76.7 71.8,75.7 75.8,74.8 79.9,73.8 84.0,72.4 88.0,71.3 92.1,70.2 96.2,68.9 100.2,67.2 104.3,66.6 108.3,65.5 112.4,65.0 116.5,64.5 120.5,64.0 124.6,64.5 128.6,65.0 132.7,65.7 136.8,66.2 140.8,68.3 144.9,70.5 148.9,73.1 153.0,74.5 157.1,76.3 161.1,77.9 165.2,77.8 169.3,77.6 173.3,77.8 177.4,78.4 181.4,78.5 185.5,78.3 189.6,78.0 193.6,78.1 197.7,78.6 201.7,78.6 205.8,78.6 209.9,78.6 213.9,78.6 218.0,78.5 222.0,78.6 226.1,78.5 230.2,78.4 234.2,78.5 238.3,78.6 242.4,78.5 246.4,78.4 250.5,78.4 254.5,78.5 258.6,78.6 262.7,78.5 266.7,78.6 270.8,78.4 274.8,78.2 278.9,78.4 283.0,78.6 287.0,78.6 291.1,78.3 295.1,78.4 299.2,78.2 303.3,78.4 307.3,78.6 311.4,78.1 315.5,78.2 319.5,78.5 323.6,78.4 327.6,78.2 331.7,78.2" stroke="rgb(71,71,71)"/>
<polyline points="59.6,78.4 63.7,78.5 67.7,78.5 71.8,78.4 75.8,77.7 79.9,76.7 84.0,75.9 88.0,74.4 92.1,73.2 96.2,72.1 100.2,71.1 104.3,70.3 108.3,69.7 112.4,69.7 116.5,68.7 120.5,67.4 124.6,67.5 128.6,67.3 132.7,66.6 136.8,67.1 140.8,68.2 144.9,68.4 148.9,69.5 153.0,71.4 157.1,73.8 161.1,75.9 165.2,76.9 169.3,77.6 173.3,77.9 177.4,77.7 181.4,77.6 185.5,77.8 189.6,78.1 193.6,78.2 197.7,78.4 201.7,78.5 205.8,78.5 209.9,78.4 213.9,78.5 218.0,78.3 222.0,78.2 226.1,78.0 230.2,78.0 234.2,78.3 238.3,78.4 242.4,78.0 246.4,77.8 250.5,78.2 254.5,78.4 258.6,78.4 262.7,78.4 266.7,78.4 270.8,78.5 274.8,78.4 278.9,78.1 283.0,78.1 287.0,78.1 291.1,78.3 295.1,78.6 299.2,78.6 303.3,78.4 307.3,78.3 311.4,78.0 315.5,78.0 319.5,78.5 323.6,78.6 327.6,78.4 331.7,78.3" stroke="rgb(56,56,56)"/>
<polyline points="59.6,78.2 63.7,78.4 67.7,78.4 71.8,78.5 75.8,78.2 79.9,78.0 84.0,77.7 88.0,76.8 92.1,76.0 96.2,75.0 100.2,73.5 104.3,71.8 108.3,71.0 112.4,70.2 116.5,69.3 120.5,68.7 124.6,68.6 128.6,68.4 132.7,67.2 136.8,67.1 140.8,67.4 144.9,68.0 148.9,69.6 153.0,70.9 157.1,71.8 161.1,72.9 165.2,75.1 169.3,77.0 173.3,77.8 177.4,77.9 181.4,77.8 185.5,77.7 189.6,77.7 193.6,77.9 197.7,78.3 201.7,78.2 205.8,78.2 209.9,78.5 213.9,78.6 218.0,78.1 222.0,77.8 226.1,78.4 230.2,78.6 234.2,78.6 238.3,78.4 242.4,78.2 246.4,78.1 250.5,78.3 254.5,78.3 258.6,78.0 262.7,78.2 266.7,78.4 270.8,78.5 274.8,78.6 278.9,78.6 283.0,78.4 287.0,78.2 291.1,78.1 295.1,78.0 299.2,78.1 303.3,78.1 307.3,78.2 311.4,78.4 315.5,78.2 319.5,78.0 323.6,78.6 327.6,78.6 331.7,78.5" stroke="rgb(50,50,50)"/>
<polyline points="59.6,78.3 63.7,78.5 67.7,78.4 71.8,77.8 75.8,77.1 79.9,76.4 84.0,75.2 88.0,73.6 92.1,71.8 96.2,70.3 100.2,69.3 104.3,67.8 108.3,67.0 112.4,66.0 116.5,65.3 120.5,64.3 124.6,63.2 128.6,63.0 132.7,63.3 136.8,64.7 140.8,66.5 144.9,69.1 148.9,71.9 153.0,74.8 157.1,77.0 161.1,78.1 165.2,77.9 169.3,77.8 173.3,77.9 177.4,77.7 181.4,77.9 185.5,78.2 189.6,77.9 193.6,77.9 197.7,77.8 201.7,78.2 205.8,78.4 209.9,78.1 213.9,78.0 218.0,78.0 222.0,78.2 226.1,78.1 230.2,78.1 234.2,78.3 238.3,78.3 242.4,78.3 246.4,78.4 250.5,78.3 254.5,77.8 258.6,77.8 262.7,78.2 266.7,78.3 270.8,78.2 274.8,78.4 278.9,78.3 283.0,78.1 287.0,78.2 291.1,78.1 295.1,78.2 299.2,78.2 303.3,78.1 307.3,78.1 311.4,78.1 315.5,78.1 319.5,78.1 323.6,78.1 327.6,78.1 331.7,78.1" stroke="rgb(37,37,37)"/>
<polyline points="59.6,78.4 63.7,78.2 67.7,78.4 71.8,78.3 75.8,78.3 79.9,78.2 84.0,78.3 88.0,78.3 92.1,77.8 96.2,76.8 100.2,75.8 104.3,74.8 108.3,73.7 112.4,72.7 116.5,71.8 120.5,70.6 124.6,70.2 128.6,69.5 132.7,69.4 136.8,69.0 140.8,68.5 144.9,68.4 148.9,68.6 153.0,68.6 157.1,68.7 161.1,70.3 165.2,71.9 169.3,73.0 173.3,74.4 177.4,76.0 181.4,76.7 185.5,77.4 189.6,77.7 193.6,77.6 197.7,77.6 201.7,77.7 205.8,78.0 209.9,78.1 213.9,78.1 218.0,78.5 222.0,78.6 226.1,78.6 230.2,78.6 234.2,78.6 238.3,78.6 242.4,78.6 246.4,78.4 250.5,78.2 254.5,78.5 258.6,78.6 262.7,78.5 266.7,78.5 270.8,78.6 274.8,78.6 278.9,78.6 283.0,78.4 287.0,78.6 291.1,78.6 295.1,78.6 299.2,78.6 303.3,78.5 307.3,78.6 311.4,78.6 315.5,78.4 319.5,78.2 323.6,78.1 327.6,78.3 331.7,78.5" stroke="rgb(50,50,50)"/>
<polyline points="59.6,78.2 63.7,78.2 67.7,77.8 71.8,77.1 75.8,76.2 79.9,75.1 84.0,73.9 88.0,72.8 92.1,72.0 96.2,71.3 100.2,70.5 104.3,68.8 108.3,67.5 112.4,67.3 116.5,67.3 120.5,67.1 124.6,67.0 128.6,67.6 132.7,68.0 136.8,68.7 140.8,69.4 144.9,71.0 148.9,72.4 153.0,74.4 157.1,76.0 161.1,77.5 165.2,78.0 169.3,78.0 173.3,78.2 177.4,78.4 181.4,78.1 185.5,78.1 189.6,78.4 193.6,78.6 197.7,78.5 201.7,78.4 205.8,78.4 209.9,78.4 213.9,78.5 218.0,78.3 222.0,78.5 226.1,78.6 230.2,78.6 234.2,78.5 238.3,78.5 242.4,78.5 246.4,78.6 250.5,78.4 254.5,78.3 258.6,78.6 262.7,78.6 266.7,78.6 270.8,78.6 274.8,78.5 278.9,78.6 283.0,78.6 287.0,78.5 291.1,78.4 295.1,78.4 299.2,78.6 303.3,78.6 307.3,78.6 311.4,78.5 315.5,78.6 319.5,78.6 323.6,78.4 327.6,78.4 331.7,78.6" stroke="rgb(64,64,64)"/>
<polyline points="59.6,78.1 63.7,78.3 67.7,78.5 71.8,78.4 75.8,77.9 79.9,77.0 84.0,75.7 88.0,74.5 92.1,74.1 96.2,73.6 100.2,72.5 104.3,71.2 108.3,70.9 112.4,69.9 116.5,69.3 120.5,69.5 124.6,69.2 128.6,68.9 132.7,68.5 136.8,67.6 140.8,67.6 144.9,68.2 148.9,69.2 153.0,71.3 157.1,73.3 161.1,74.9 165.2,76.9 169.3,78.1 173.3,78.0 177.4,77.7 181.4,78.0 185.5,78.2 189.6,78.2 193.6,78.0 197.7,78.1 201.7,78.4 205.8,78.6 209.9,78.6 213.9,78.6 218.0,78.6 222.0,78.6 226.1,78.3 230.2,78.3 234.2,78.5 238.3,78.5 242.4,78.4 246.4,78.2 250.5,78.1 254.5,78.3 258.6,78.6 262.7,78.6 266.7,78.6 270.8,78.6 274.8,78.5 278.9,78.6 283.0,78.6 287.0,78.3 291.1,78.2 295.1,78.4 299.2,78.5 303.3,78.4 307.3,78.3 311.4,78.4 315.5,78.6 319.5,78.6 323.6,78.5 327.6,78.6 331.7,78.5" stroke="rgb(52,52,52)"/>
<polyline points="59.6,78.5 63.7,78.4 67.7,77.8 71.8,76.8 75.8,75.2 79.9,73.8 84.0,72.4 88.0,71.2 92.1,70.4 96.2,68.7 100.2,66.6 104.3,65.6 108.3,64.9 112.4,64.6 116.5,64.9 120.5,65.9 124.6,66.3 128.6,66.2 132.7,66.7 136.8,68.3 140.8,68.1 144.9,68.6 148.9,70.3 153.0,72.3 157.1,73.8 161.1,75.7 165.2,77.3 169.3,78.0 173.3,78.1 177.4,77.8 181.4,77.8 185.5,78.0 189.6,78.1 193.6,78.5 197.7,78.6 201.7,78.6 205.8,78.6 209.9,78.5 213.9,78.3 218.0,78.3 222.0,78.6 226.1,78.6 230.2,78.5 234.2,78.3 238.3,78.5 242.4,78.6 246.4,78.6 250.5,78.6 254.5,78.4 258.6,78.5 262.7,78.6 266.7,78.6 270.8,78.5 274.8,78.4 278.9,78.3 283.0,78.3 287.0,78.4 291.1,78.4 295.1,78.4 299.2,78.3 303.3,78.4 307.3,78.6 311.4,78.6 315.5,78.6 319.5,78.6 323.6,78.6 327.6,78.1 331.7,78.2" stroke="rgb(40,40,40)"/>
<polyline points="59.6,78.2 63.7,77.9 67.7,78.1 71.8,78.4 75.8,78.5 79.9,78.4 84.0,77.6 88.0,76.1 92.1,75.0 96.2,73.7 100.2,72.2 104.3,71.2 108.3,69.8 112.4,68.5 116.5,68.2 120.5,66.4 124.6,64.3 128.6,64.7 132.7,65.1 136.8,65.5 140.8,66.9 144.9,69.5 148.9,70.5 153.0,72.3 157.1,73.9 161.1,75.4 165.2,76.9 169.3,78.0 173.3,78.0 177.4,77.9 181.4,78.1 185.5,78.5 189.6,78.6 193.6,78.4 197.7,78.2 201.7,78.2 205.8,78.2 209.9,78.1 213.9,78.3 218.0,78.1 222.0,77.6 226.1,77.9 230.2,78.3 234.2,78.3 238.3,78.5 242.4,78.6 246.4,78.5 250.5,78.5 254.5,78.4 258.6,78.1 262.7,78.2 266.7,78.4 270.8,78.4 274.8,78.2 278.9,78.0 283.0,78.4 287.0,78.6 291.1,78.5 295.1,78.4 299.2,78.4 303.3,78.3 307.3,78.5 311.4,78.6 315.5,78.3 319.5,78.3 323.6,78.3 327.6,78.3 331.7,78.3" stroke="rgb(60,60,60)"/>
<polyline points="59.6,77.8 63.7,77.9 67.7,77.7 71.8,76.7 75.8,75.4 79.9,74.8 84.0,73.8 88.0,72.5 92.1,70.8 96.2,69.4 100.2,68.2 104.3,67.5 108.3,66.6 112.4,66.2 116.5,66.3 120.5,66.1 124.6,65.7 128.6,64.2 132.7,63.1 136.8,63.3 140.8,64.9 144.9,66.0 148.9,67.9 153.0,70.7 157.1,73.0 161.1,74.3 165.2,75.7 169.3,77.1 173.3,77.6 177.4,77.8 181.4,78.1 185.5,77.9 189.6,77.6 193.6,77.7 197.7,78.1 201.7,78.3 205.8,78.2 209.9,78.0 213.9,78.2 218.0,78.4 222.0,78.4 226.1,78.2 230.2,78.1 234.2,78.0 238.3,77.7 242.4,77.9 246.4,77.9 250.5,77.8 254.5,77.7 258.6,78.0 262.7,78.1 266.7,77.8 270.8,77.8 274.8,78.1 278.9,78.1 283.0,77.7 287.0,77.8 291.1,78.3 295.1,78.1 299.2,78.0 303.3,78.4 307.3,78.6 311.4,78.3 315.5,78.2 319.5,78.0 323.6,78.0 327.6,78.4 331.7,78.4" stroke="rgb(27,27,27)"/>
<polyline points="59.6,78.6 63.7,77.6 67.7,76.4 71.8,75.6 75.8,74.4 79.9,73.4 84.0,72.7 88.0,72.0 92.1,71.1 96.2,71.1 100.2,70.6 104.3,69.9 108.3,69.3 112.4,68.7 116.5,68.3 120.5,67.9 124.6,67.5 128.6,67.8 132.7,68.3 136.8,69.5 140.8,69.6 144.9,70.8 148.9,71.8 153.0,72.7 157.1,73.6 161.1,74.6 165.2,75.8 169.3,77.2 173.3,77.9 177.4,77.8 181.4,77.9 185.5,77.8 189.6,77.9 193.6,78.2 197.7,78.1 201.7,78.1 205.8,78.5 209.9,78.4 213.9,78.4 218.0,78.4 222.0,78.5 226.1,78.6 230.2,78.6 234.2,78.5 238.3,78.1 242.4,78.1 246.4,78.3 250.5,78.4 254.5,78.5 258.6,78.4 262.7,78.4 266.7,78.6 270.8,78.5 274.8,78.2 278.9,78.3 283.0,78.4 287.0,78.5 291.1,78.5 295.1,78.4 299.2,78.6 303.3,78.6 307.3,78.6 311.4,78.5 315.5,78.5 319.5,78.6 323.6,78.6 327.6,78.6 331.7,78.6" stroke="rgb(57,57,57)"/>
<polyline points="59.6,78.5 63.7,78.6 67.7,78.6 71.8,78.4 75.8,77.9 79.9,77.1 84.0,76.1 88.0,74.9 92.1,73.9 96.2,73.2 100.2,72.8 104.3,71.6 108.3,70.2 112.4,69.3 116.5,68.2 120.5,67.2 124.6,66.3 128.6,66.1 132.7,66.5 136.8,66.9 140.8,66.1 144.9,66.6 148.9,68.6 153.0,70.6 157.1,72.6 161.1,75.0 165.2,77.0 169.3,78.3 173.3,78.6 177.4,78.6 181.4,78.2 185.5,78.2 189.6,78.5 193.6,78.3 197.7,78.0 201.7,78.3 205.8,78.6 209.9,78.6 213.9,78.1 218.0,78.4 222.0,78.4 226.1,78.4 230.2,78.6 234.2,78.6 238.3,78.5 242.4,78.5 246.4,78.3 250.5,78.3 254.5,78.5 258.6,78.4 262.7,78.5 266.7,78.6 270.8,78.6 274.8,78.3 278.9,78.2 283.0,78.5 287.0,78.6 291.1,78.6 295.1,78.6 299.2,78.6 303.3,78.6 307.3,78.6 311.4,78.3 315.5,78.3 319.5,78.5 323.6,78.5 327.6,78.6 331.7,78.5" stroke="rgb(67,67,67)"/>
<polyline points="59.6,78.6 63.7,78.5 67.7,77.4 71.8,76.3 75.8,75.0 79.9,73.8 84.0,72.6 88.0,71.6 92.1,70.3 96.2,68.9 100.2,67.6 104.3,67.1 108.3,66.6 112.4,65.4 116.5,65.0 120.5,64.7 124.6,64.3 128.6,62.8 132.7,64.1 136.8,65.0 140.8,67.2 144.9,69.5 148.9,72.3 153.0,74.6 157.1,76.5 161.1,77.8 165.2,78.0 169.3,77.6 173.3,77.7 177.4,77.6 181.4,77.6 185.5,78.0 189.6,78.3 193.6,78.4 197.7,78.2 201.7,78.4 205.8,78.6 209.9,78.6 213.9,78.6 218.0,78.5 222.0,78.4 226.1,78.2 230.2,78.3 234.2,78.6 238.3,78.4 242.4,78.5 246.4,78.6 250.5,78.6 254.5,78.5 258.6,78.5 262.7,78.5 266.7,78.6 270.8,78.6 274.8,78.0 278.9,77.9 283.0,78.1 287.0,78.3 291.1,78.5 295.1,78.3 299.2,78.2 303.3,78.3 307.3,78.4 311.4,78.4 315.5,78.3 319.5,78.6 323.6,78.6 327.6,78.3 331.7,78.2" stroke="rgb(45,45,45)"/>
<polyline points="59.6,78.6 63.7,78.3 67.7,78.0 71.8,77.6 75.8,76.5 79.9,75.5 84.0,74.7 88.0,73.8 92.1,72.2 96.2,70.9 100.2,70.0 104.3,69.4 108.3,68.0 112.4,66.8 116.5,65.8 120.5,65.6 124.6,64.9 128.6,65.7 132.7,67.3 136.8,67.7 140.8,67.3 144.9,67.9 148.9,67.9 153.0,68.6 157.1,70.5 161.1,71.9 165.2,73.9 169.3,75.4 173.3,76.6 177.4,77.9 181.4,78.3 185.5,77.8 189.6,77.9 193.6,78.1 197.7,78.2 201.7,78.3 205.8,78.1 209.9,78.1 213.9,78.2 218.0,78.2 222.0,78.6 226.1,78.6 230.2,78.2 234.2,78.2 238.3,78.5 242.4,78.6 246.4,78.3 250.5,78.2 254.5,78.2 258.6,78.4 262.7,78.4 266.7,78.1 270.8,78.1 274.8,78.1 278.9,78.0 283.0,78.1 287.0,78.3 291.1,78.5 295.1,78.5 299.2,78.2 303.3,78.0 307.3,78.3 311.4,78.6 315.5,78.5 319.5,78.1 323.6,78.1 327.6,78.2 331.7,78.1" stroke="rgb(62,62,62)"/>
<polyline points="59.6,78.4 63.7,77.8 67.7,76.8 71.8,75.5 75.8,74.3 79.9,73.1 84.0,71.5 88.0,70.1 92.1,69.0 96.2,68.9 100.2,68.5 104.3,67.8 108.3,67.3 112.4,67.4 116.5,67.0 120.5,66.6 124.6,66.5 128.6,66.9 132.7,66.8 136.8,67.3 140.8,69.2 144.9,71.1 148.9,72.2 153.0,74.4 157.1,75.9 161.1,77.2 165.2,78.3 169.3,77.9 173.3,77.6 177.4,77.7 181.4,77.7 185.5,78.1 189.6,78.2 193.6,78.1 197.7,78.3 201.7,78.2 205.8,78.2 209.9,78.4 213.9,78.5 218.0,78.4 222.0,78.3 226.1,78.6 230.2,78.6 234.2,78.4 238.3,78.3 242.4,78.1 246.4,78.1 250.5,78.2 254.5,78.2 258.6,78.1 262.7,78.3 266.7,78.3 270.8,78.6 274.8,78.6 278.9,78.6 283.0,78.6 287.0,78.5 291.1,78.4 295.1,78.3 299.2,78.2 303.3,78.4 307.3,78.5 311.4,78.5 315.5,78.6 319.5,78.6 323.6,78.6 327.6,78.6 331.7,78.6" stroke="rgb(75,75,75)"/>
<polyline points="59.6,78.4 63.7,78.5 67.7,78.3 71.8,77.3 75.8,76.1 79.9,75.1 84.0,73.8 88.0,72.2 92.1,70.8 96.2,69.6 100.2,68.4 104.3,67.8 108.3,67.4 112.4,67.0 116.5,66.7 120.5,65.9 124.6,65.4 128.6,65.8 132.7,66.9 136.8,68.2 140.8,69.6 144.9,71.6 148.9,73.6 153.0,75.3 157.1,76.9 161.1,78.3 165.2,78.3 169.3,78.1 173.3,78.0 177.4,78.2 181.4,78.4 185.5,78.4 189.6,78.3 193.6,78.3 197.7,78.2 201.7,78.3 205.8,78.3 209.9,78.3 213.9,78.3 218.0,78.4 222.0,78.6 226.1,78.5 230.2,78.3 234.2,78.4 238.3,78.3 242.4,78.3 246.4,78.4 250.5,78.0 254.5,78.2 258.6,78.5 262.7,78.4 266.7,78.4 270.8,78.6 274.8,78.4 278.9,78.6 283.0,78.6 287.0,78.4 291.1,78.4 295.1,78.4 299.2,78.2 303.3,78.2 307.3,78.6 311.4,78.3 315.5,78.0 319.5,78.5 323.6,78.5 327.6,78.5 331.7,78.5" stroke="rgb(29,29,29)"/>
<polyline points="59.6,78.5 63.7,78.5 67.7,78.6 71.8,78.6 75.8,78.4 79.9,78.1 84.0,77.8 88.0,77.3 92.1,76.6 96.2,75.6 100.2,74.4 104.3,73.3 108.3,72.4 112.4,72.0 116.5,71.1 120.5,69.9 124.6,68.5 128.6,67.6 132.7,66.6 136.8,66.1 140.8,65.6 144.9,65.5 148.9,65.4 153.0,65.2 157.1,65.9 161.1,66.8 165.2,68.0 169.3,68.7 173.3,70.3 177.4,72.5 181.4,74.3 185.5,76.1 189.6,77.6 193.6,78.2 197.7,78.4 201.7,78.6 205.8,78.6 209.9,78.2 213.9,78.1 218.0,78.0 222.0,78.0 226.1,78.4 230.2,78.6 234.2,78.5 238.3,78.2 242.4,78.4 246.4,78.6 250.5,78.6 254.5,78.5 258.6,78.4 262.7,78.4 266.7,78.5 270.8,78.4 274.8,78.4 278.9,78.2 283.0,78.4 287.0,78.6 291.1,78.6 295.1,78.6 299.2,78.5 303.3,78.4 307.3,78.3 311.4,78.4 315.5,78.6 319.5,78.6 323.6,78.5 327.6,78.6 331.7,78.6" stroke="rgb(76,76,76)"/>
<polyline points="59.6,78.1 63.7,77.4 67.7,76.6 71.8,75.7 75.8,74.1 79.9,72.7 84.0,71.5 88.0,70.8 92.1,69.4 96.2,68.2 100.2,67.9 104.3,67.4 108.3,66.8 112.4,66.5 116.5,66.3 120.5,66.1 124.6,66.1 128.6,66.2 132.7,67.8 136.8,69.2 140.8,70.6 144.9,72.6 148.9,74.5 153.0,75.9 157.1,77.4 161.1,77.8 165.2,77.8 169.3,78.5 173.3,78.5 177.4,78.3 181.4,78.5 185.5,78.6 189.6,78.6 193.6,78.6 197.7,78.3 201.7,78.1 205.8,78.1 209.9,78.1 213.9,78.3 218.0,78.6 222.0,78.2 226.1,78.0 230.2,78.4 234.2,78.3 238.3,78.4 242.4,78.3 246.4,78.3 250.5,78.6 254.5,78.5 258.6,78.4 262.7,78.6 266.7,78.4 270.8,78.2 274.8,78.3 278.9,78.3 283.0,78.4 287.0,78.3 291.1,78.3 295.1,78.6 299.2,78.6 303.3,78.4 307.3,78.4 311.4,78.2 315.5,78.0 319.5,78.3 323.6,78.6 327.6,78.6 331.7,78.1" stroke="rgb(40,40,40)"/>
<polyline points="59.6,78.1 63.7,77.7 67.7,76.8 71.8,75.8 75.8,75.0 79.9,74.2 84.0,73.6 88.0,72.0 92.1,70.8 96.2,69.4 100.2,68.6 104.3,67.6 108.3,67.0 112.4,66.1 116.5,66.1 120.5,65.7 124.6,66.2 128.6,66.2 132.7,66.5 136.8,67.5 140.8,69.1 144.9,70.5 148.9,72.0 153.0,73.9 157.1,75.3 161.1,76.3 165.2,77.7 169.3,78.4 173.3,78.2 177.4,78.2 181.4,78.1 185.5,78.0 189.6,78.3 193.6,78.3 197.7,78.3 201.7,78.6 205.8,78.5 209.9,78.1 213.9,78.4 218.0,78.3 222.0,78.1 226.1,78.4 230.2,78.5 234.2,78.3 238.3,78.4 242.4,78.6 246.4,78.6 250.5,78.5 254.5,78.6 258.6,78.6 262.7,78.1 266.7,78.3 270.8,78.5 274.8,78.6 278.9,78.6 283.0,78.6 287.0,78.3 291.1,78.2 295.1,78.3 299.2,78.2 303.3,78.2 307.3,78.4 311.4,78.6 315.5,78.6 319.5,78.4 323.6,78.4 327.6,78.5 331.7,78.5" stroke="rgb(48,48,48)"/>
<polyline points="59.6,78.6 63.7,78.6 67.7,78.6 71.8,78.4 75.8,78.6 79.9,78.6 84.0,78.6 88.0,78.0 92.1,77.4 96.2,76.9 100.2,76.3 104.3,75.2 108.3,73.8 112.4,73.4 116.5,72.4 120.5,71.2 124.6,69.9 128.6,69.5 132.7,68.9 136.8,68.8 140.8,68.7 144.9,68.3 148.9,67.6 153.0,67.7 157.1,67.5 161.1,68.1 165.2,69.5 169.3,70.8 173.3,71.8 177.4,72.9 181.4,74.5 185.5,75.5 189.6,76.7 193.6,77.5 197.7,78.2 201.7,78.1 205.8,77.6 209.9,77.9 213.9,78.0 218.0,77.9 222.0,78.4 226.1,78.6 230.2,78.4 234.2,78.3 238.3,78.3 242.4,78.3 246.4,78.2 250.5,78.3 254.5,78.6 258.6,78.6 262.7,78.6 266.7,78.6 270.8,78.6 274.8,78.5 278.9,78.6 283.0,78.6 287.0,78.6 291.1,78.4 295.1,78.3 299.2,78.4 303.3,78.6 307.3,78.6 311.4,78.6 315.5,78.6 319.5,78.5 323.6,78.4 327.6,78.6 331.7,78.3" stroke="rgb(41,41,41)"/>
<polyline points="59.6,78.3 63.7,77.8 67.7,76.8 71.8,76.1 75.8,75.3 79.9,74.5 84.0,73.5 88.0,72.2 92.1,71.1 96.2,69.9 100.2,69.0 104.3,67.8 108.3,67.6 112.4,67.3 116.5,66.8 120.5,66.5 124.6,66.9 128.6,67.4 132.7,68.1 136.8,69.7 140.8,70.9 144.9,72.4 148.9,73.7 153.0,75.1 157.1,76.6 161.1,77.6 165.2,78.2 169.3,78.2 173.3,78.4 177.4,78.4 181.4,78.1 185.5,78.3 189.6,78.4 193.6,78.2 197.7,78.2 201.7,78.4 205.8,78.1 209.9,78.0 213.9,78.2 218.0,78.1 222.0,78.2 226.1,78.1 230.2,78.2 234.2,78.3 238.3,78.3 242.4,78.5 246.4,78.3 250.5,78.3 254.5,78.6 258.6,78.6 262.7,78.2 266.7,78.3 270.8,78.4 274.8,78.3 278.9,78.6 283.0,78.6 287.0,78.6 291.1,78.5 295.1,78.2 299.2,78.4 303.3,78.3 307.3,78.6 311.4,78.6 315.5,78.2 319.5,78.1 323.6,78.3 327.6,78.5 331.7,78.5" stroke="rgb(63,63,63)"/>
<polyline points="59.6,78.4 63.7,78.3 67.7,78.3 71.8,78.2 75.8,77.9 79.9,77.3 84.0,76.9 88.0,76.2 92.1,75.2 96.2,74.1 100.2,73.1 104.3,72.2 108.3,71.5 112.4,71.0 116.5,70.3 120.5,69.0 124.6,68.4 128.6,67.6 132.7,67.2 136.8,66.0 140.8,66.8 144.9,66.0 148.9,67.7 153.0,68.4 157.1,69.7 161.1,70.5 165.2,71.5 169.3,72.7 173.3,74.7 177.4,76.1 181.4,77.5 185.5,78.0 189.6,77.9 193.6,77.8 197.7,77.8 201.7,78.1 205.8,78.1 209.9,78.4 213.9,78.5 218.0,78.5 222.0,78.6 226.1,78.5 230.2,78.3 234.2,78.3 238.3,78.2 242.4,78.1 246.4,78.2 250.5,78.3 254.5,78.4 258.6,78.1 262.7,78.3 266.7,78.3 270.8,78.2 274.8,78.3 278.9,78.4 283.0,78.4 287.0,78.2 291.1,78.5 295.1,78.6 299.2,78.3 303.3,78.0 307.3,78.1 311.4,78.3 315.5,78.4 319.5,78.5 323.6,78.6 327.6,78.4 331.7,78.2" stroke="rgb(46,46,46)"/>
<polyline points="59.6,78.3 63.7,78.2 67.7,77.6 71.8,76.9 75.8,76.2 79.9,75.3 84.0,74.2 88.0,73.4 92.1,72.7 96.2,71.6 100.2,70.9 104.3,70.3 108.3,70.4 112.4,69.8 116.5,69.6 120.5,69.4 124.6,68.8 128.6,68.8 132.7,69.8 136.8,70.4 140.8,71.4 144.9,71.6 148.9,72.3 153.0,73.7 157.1,74.5 161.1,75.4 165.2,76.6 169.3,77.4 173.3,77.9 177.4,77.9 181.4,78.0 185.5,78.0 189.6,77.6 193.6,77.5 197.7,77.7 201.7,78.0 205.8,78.2 209.9,78.2 213.9,77.8 218.0,78.0 222.0,78.3 226.1,78.4 230.2,78.1 234.2,78.3 238.3,78.3 242.4,78.3 246.4,78.6 250.5,78.4 254.5,78.2 258.6,78.1 262.7,78.0 266.7,78.3 270.8,78.5 274.8,78.2 278.9,78.2 283.0,78.1 287.0,78.2 291.1,78.4 295.1,78.6 299.2,78.6 303.3,78.5 307.3,78.4 311.4,78.5 315.5,78.2 319.5,78.3 323.6,78.2 327.6,78.3 331.7,78.3" stroke="rgb(36,36,36)"/>
<polyline points="59.6,78.3 63.7,78.2 67.7,78.5 71.8,78.6 75.8,78.6 79.9,78.6 84.0,78.6 88.0,78.2 92.1,77.3 96.2,76.8 100.2,76.0 104.3,75.2 108.3,74.7 112.4,74.1 116.5,72.9 120.5,72.7 124.6,72.3 128.6,71.8 132.7,71.1 136.8,70.6 140.8,70.6 144.9,70.0 148.9,70.3 153.0,70.8 157.1,70.3 161.1,70.0 165.2,70.6 169.3,70.7 173.3,71.6 177.4,72.6 181.4,74.3 185.5,75.9 189.6,76.9 193.6,77.4 197.7,77.9 201.7,78.1 205.8,77.7 209.9,77.8 213.9,77.7 218.0,78.0 222.0,78.5 226.1,78.6 230.2,78.6 234.2,78.6 238.3,78.5 242.4,78.2 246.4,78.6 250.5,78.6 254.5,78.6 258.6,78.3 262.7,78.6 266.7,78.6 270.8,78.6 274.8,78.5 278.9,78.6 283.0,78.6 287.0,78.5 291.1,78.4 295.1,78.3 299.2,78.3 303.3,78.6 307.3,78.6 311.4,78.6 315.5,78.4 319.5,78.0 323.6,78.1 327.6,78.0 331.7,78.0" stroke="rgb(26,26,26)"/>
<polyline points="59.6,78.3 63.7,78.3 67.7,77.9 71.8,77.0 75.8,75.9 79.9,74.5 84.0,73.2 88.0,72.0 92.1,70.7 96.2,69.9 100.2,69.5 104.3,68.8 108.3,67.9 112.4,67.7 116.5,66.3 120.5,65.8 124.6,65.8 128.6,65.7 132.7,64.7 136.8,66.4 140.8,67.0 144.9,68.1 148.9,68.7 153.0,69.9 157.1,71.0 161.1,72.6 165.2,73.7 169.3,75.7 173.3,77.2 177.4,78.0 181.4,78.0 185.5,77.9 189.6,78.0 193.6,78.1 197.7,78.3 201.7,78.5 205.8,78.6 209.9,78.6 213.9,78.5 218.0,78.4 222.0,78.6 226.1,78.6 230.2,78.4 234.2,78.4 238.3,78.3 242.4,78.4 246.4,78.4 250.5,78.6 254.5,78.5 258.6,78.0 262.7,78.2 266.7,78.5 270.8,78.5 274.8,78.5 278.9,78.3 283.0,78.4 287.0,78.6 291.1,78.6 295.1,78.6 299.2,78.5 303.3,78.4 307.3,78.5 311.4,78.5 315.5,78.4 319.5,78.3 323.6,78.5 327.6,78.3 331.7,78.3" stroke="rgb(66,66,66)"/>
<polyline points="59.6,78.6 63.7,78.5 67.7,78.3 71.8,78.0 75.8,78.1 79.9,78.0 84.0,77.6 88.0,76.8 92.1,75.6 96.2,74.3 100.2,73.1 104.3,71.8 108.3,71.0 112.4,70.6 116.5,70.0 120.5,69.1 124.6,68.8 128.6,68.2 132.7,67.5 136.8,67.3 140.8,67.1 144.9,67.1 148.9,68.3 153.0,69.1 157.1,69.8 161.1,70.8 165.2,72.2 169.3,73.9 173.3,75.4 177.4,76.8 181.4,77.3 185.5,77.6 189.6,77.8 193.6,78.0 197.7,78.1 201.7,77.7 205.8,78.0 209.9,78.4 213.9,78.4 218.0,78.4 222.0,78.4 226.1,78.5 230.2,78.5 234.2,78.4 238.3,78.1 242.4,78.0 246.4,78.5 250.5,78.4 254.5,78.0 258.6,78.0 262.7,78.3 266.7,78.5 270.8,78.3 274.8,77.9 278.9,78.2 283.0,78.4 287.0,78.2 291.1,78.3 295.1,78.3 299.2,78.3 303.3,78.2 307.3,78.3 311.4,78.5 315.5,78.3 319.5,78.4 323.6,78.4 327.6,78.6 331.7,78.5" stroke="rgb(35,35,35)"/>
<polyline points="59.6,78.2 63.7,78.2 67.7,78.1 71.8,77.6 75.8,76.9 79.9,76.2 84.0,75.2 88.0,74.2 92.1,73.5 96.2,72.7 100.2,71.4 104.3,70.4 108.3,69.2 112.4,68.4 116.5,67.9 120.5,67.5 124.6,67.7 128.6,67.9 132.7,68.2 136.8,68.5 140.8,69.3 144.9,70.2 148.9,71.2 153.0,72.2 157.1,74.0 161.1,75.2 165.2,76.5 169.3,78.0 173.3,78.2 177.4,77.8 181.4,77.6 185.5,77.7 189.6,77.8 193.6,77.9 197.7,78.4 201.7,78.6 205.8,78.6 209.9,78.5 213.9,78.6 218.0,78.6 222.0,78.6 226.1,78.2 230.2,78.0 234.2,78.2 238.3,78.3 242.4,78.3 246.4,77.9 250.5,78.1 254.5,78.6 258.6,78.6 262.7,78.6 266.7,78.5 270.8,78.2 274.8,78.2 278.9,78.3 283.0,78.3 287.0,78.3 291.1,78.4 295.1,78.3 299.2,78.2 303.3,78.2 307.3,78.1 311.4,78.1 315.5,78.1 319.5,78.3 323.6,78.3 327.6,78.4 331.7,78.6" stroke="rgb(59,59,59)"/>
<polyline points="59.6,78.3 63.7,78.0 67.7,78.0 71.8,77.5 75.8,76.3 79.9,75.4 84.0,74.7 88.0,73.4 92.1,72.3 96.2,71.2 100.2,70.9 104.3,70.6 108.3,69.6 112.4,69.1 116.5,68.6 120.5,67.7 124.6,66.9 128.6,67.5 132.7,67.5 136.8,67.0 140.8,67.6 144.9,68.4 148.9,69.8 153.0,71.0 157.1,73.2 161.1,75.1 165.2,77.2 169.3,78.0 173.3,77.9 177.4,78.0 181.4,78.1 185.5,78.1 189.6,78.1 193.6,78.1 197.7,78.2 201.7,78.4 205.8,78.5 209.9,78.2 213.9,78.2 218.0,78.4 222.0,78.2 226.1,78.1 230.2,78.2 234.2,78.4 238.3,78.6 242.4,78.5 246.4,78.1 250.5,78.4 254.5,78.6 258.6,78.6 262.7,78.3 266.7,78.5 270.8,78.4 274.8,78.2 278.9,78.4 283.0,78.5 287.0,78.5 291.1,78.4 295.1,78.5 299.2,78.6 303.3,78.6 307.3,78.5 311.4,78.2 315.5,78.3 319.5,78.6 323.6,78.5 327.6,78.2 331.7,78.3" stroke="rgb(78,78,78)"/>
<polyline points="59.6,78.4 63.7,78.2 67.7,78.6 71.8,78.6 75.8,78.6 79.9,77.7 84.0,76.0 88.0,74.6 92.1,73.7 96.2,72.9 100.2,72.0 104.3,70.8 108.3,69.4 112.4,68.4 116.5,68.2 120.5,68.3 124.6,68.2 128.6,68.3 132.7,68.1 136.8,67.3 140.8,67.0 144.9,67.9 148.9,69.5 153.0,70.7 157.1,72.5 161.1,74.1 165.2,75.5 169.3,76.6 173.3,77.5 177.4,77.7 181.4,77.6 185.5,77.6 189.6,77.7 193.6,78.0 197.7,78.0 201.7,77.9 205.8,77.9 209.9,78.0 213.9,78.1 218.0,78.3 222.0,78.4 226.1,78.3 230.2,78.5 234.2,78.5 238.3,78.5 242.4,78.3 246.4,77.9 250.5,78.3 254.5,78.4 258.6,78.4 262.7,78.1 266.7,77.9 270.8,78.1 274.8,78.3 278.9,78.3 283.0,78.2 287.0,78.2 291.1,78.4 295.1,78.6 299.2,78.6 303.3,78.6 307.3,78.6 311.4,78.6 315.5,78.2 319.5,78.0 323.6,78.2 327.6,78.3 331.7,78.2" stroke="rgb(58,58,58)"/>
<polyline points="59.6,78.6 63.7,78.6 67.7,78.6 71.8,78.4 75.8,78.2 79.9,78.0 84.0,77.4 88.0,76.8 92.1,76.1 96.2,75.2 100.2,74.0 104.3,73.1 108.3,72.6 112.4,72.0 116.5,70.8 120.5,70.4 124.6,70.1 128.6,69.5 132.7,69.4 136.8,69.0 140.8,68.9 144.9,68.7 148.9,67.8 153.0,67.5 157.1,67.9 161.1,68.8 165.2,71.3 169.3,73.6 173.3,75.5 177.4,76.7 181.4,78.2 185.5,78.5 189.6,78.2 193.6,78.2 197.7,78.3 201.7,78.2 205.8,78.4 209.9,78.4 213.9,78.2 218.0,78.3 222.0,78.3 226.1,78.4 230.2,78.3 234.2,78.2 238.3,78.2 242.4,78.2 246.4,78.1 250.5,78.3 254.5,78.6 258.6,78.6 262.7,78.6 266.7,78.6 270.8,78.6 274.8,78.6 278.9,78.3 283.0,78.2 287.0,78.5 291.1,78.6 295.1,78.4 299.2,78.1 303.3,78.3 307.3,78.5 311.4,78.4 315.5,78.4 319.5,78.4 323.6,78.4 327.6,78.2 331.7,78.4" stroke="rgb(65,65,65)"/>
<polyline points="59.6,77.8 63.7,76.7 67.7,75.7 71.8,74.5 75.8,73.3 79.9,72.6 84.0,71.2 88.0,69.9 92.1,69.2 96.2,68.7 100.2,68.3 104.3,67.9 108.3,68.0 112.4,67.5 116.5,67.1 120.5,66.9 124.6,67.5 128.6,68.2 132.7,69.4 136.8,71.0 140.8,72.7 144.9,74.5 148.9,76.2 153.0,77.9 157.1,78.4 161.1,78.1 165.2,77.9 169.3,78.2 173.3,78.4 177.4,78.2 181.4,78.3 185.5,78.6 189.6,78.5 193.6,78.3 197.7,78.0 201.7,78.0 205.8,78.6 209.9,78.6 213.9,78.2 218.0,78.3 222.0,78.4 226.1,78.2 230.2,78.4 234.2,78.6 238.3,78.6 242.4,78.4 246.4,78.5 250.5,78.6 254.5,78.6 258.6,78.6 262.7,78.6 266.7,78.6 270.8,78.6 274.8,78.4 278.9,78.2 283.0,78.0 287.0,78.3 291.1,78.6 295.1,78.6 299.2,78.6 303.3,78.6 307.3,78.5 311.4,78.4 315.5,78.4 319.5,78.5 323.6,78.6 327.6,78.6 331.7,78.4" stroke="rgb(62,62,62)"/>
<polyline points="59.6,78.2 63.7,78.3 67.7,78.1 71.8,77.1 75.8,76.5 79.9,75.7 84.0,74.7 88.0,73.3 92.1,72.1 96.2,70.8 100.2,69.6 104.3,68.7 108.3,68.1 112.4,66.6 116.5,65.7 120.5,65.1 124.6,65.2 128.6,65.1 132.7,66.2 136.8,66.8 140.8,69.3 144.9,70.6 148.9,71.9 153.0,73.7 157.1,75.6 161.1,76.9 165.2,78.1 169.3,77.8 173.3,77.7 177.4,77.8 181.4,78.0 185.5,78.2 189.6,78.1 193.6,78.4 197.7,78.6 201.7,78.6 205.8,78.6 209.9,78.5 213.9,78.5 218.0,78.6 222.0,78.6 226.1,78.6 230.2,78.5 234.2,78.4 238.3,78.6 242.4,78.6 246.4,78.6 250.5,78.6 254.5,78.6 258.6,78.3 262.7,78.6 266.7,78.6 270.8,78.6 274.8,78.4 278.9,78.4 283.0,78.6 287.0,78.6 291.1,78.6 295.1,78.6 299.2,78.0 303.3,77.8 307.3,78.2 311.4,78.3 315.5,78.6 319.5,78.6 323.6,78.5 327.6,78.3 331.7,78.3" stroke="rgb(69,69,69)"/>
<polyline points="59.6,78.1 63.7,78.0 67.7,78.2 71.8,78.4 75.8,78.5 79.9,78.2 84.0,78.1 88.0,77.6 92.1,76.8 96.2,75.7 100.2,74.5 104.3,73.2 108.3,71.8 112.4,70.2 116.5,69.1 120.5,68.0 124.6,67.3 128.6,65.7 132.7,64.7 136.8,63.6 140.8,62.8 144.9,62.5 148.9,62.2 153.0,63.4 157.1,64.5 161.1,66.8 165.2,68.7 169.3,70.2 173.3,71.2 177.4,72.3 181.4,74.0 185.5,75.7 189.6,77.2 193.6,77.7 197.7,77.6 201.7,77.3 205.8,77.3 209.9,77.8 213.9,78.2 218.0,78.4 222.0,78.4 226.1,78.2 230.2,78.0 234.2,78.1 238.3,78.4 242.4,78.6 246.4,78.6 250.5,78.4 254.5,78.2 258.6,78.5 262.7,78.2 266.7,78.2 270.8,78.5 274.8,78.3 278.9,78.6 283.0,78.6 287.0,78.1 291.1,77.8 295.1,78.6 299.2,78.6 303.3,78.5 307.3,78.3 311.4,78.3 315.5,78.6 319.5,78.5 323.6,78.2 327.6,78.3 331.7,78.6" stroke="rgb(68,68,68)"/>
<polyline points="59.6,78.6 63.7,78.6 67.7,78.2 71.8,78.2 75.8,77.6 79.9,76.8 84.0,75.3 88.0,73.9 92.1,72.5 96.2,71.6 100.2,69.7 104.3,68.6 108.3,67.4 112.4,66.6 116.5,65.6 120.5,65.4 124.6,65.1 128.6,65.3 132.7,64.7 136.8,65.3 140.8,65.2 144.9,65.7 148.9,67.3 153.0,69.0 157.1,71.8 161.1,74.3 165.2,75.7 169.3,77.4 173.3,78.6 177.4,78.6 181.4,78.4 185.5,78.4 189.6,78.2 193.6,78.2 197.7,78.4 201.7,78.4 205.8,78.4 209.9,78.5 213.9,78.6 218.0,78.5 222.0,78.4 226.1,78.3 230.2,78.5 234.2,78.5 238.3,78.5 242.4,78.6 246.4,78.6 250.5,78.6 254.5,78.5 258.6,78.6 262.7,78.6 266.7,78.0 270.8,78.1 274.8,78.6 278.9,78.6 283.0,78.4 287.0,78.5 291.1,78.4 295.1,78.3 299.2,78.1 303.3,78.2 307.3,78.2 311.4,78.3 315.5,78.2 319.5,78.2 323.6,78.6 327.6,78.6 331.7,78.4" stroke="rgb(76,76,76)"/>
<polyline points="59.6,78.5 63.7,78.4 67.7,78.1 71.8,77.3 75.8,76.7 79.9,76.5 84.0,75.8 88.0,75.1 92.1,74.5 96.2,73.9 100.2,72.9 104.3,71.7 108.3,70.9 112.4,70.4 116.5,69.8 120.5,69.2 124.6,68.4 128.6,68.3 132.7,68.8 136.8,68.1 140.8,68.0 144.9,68.9 148.9,69.8 153.0,70.2 157.1,71.5 161.1,73.4 165.2,75.3 169.3,76.5 173.3,77.6 177.4,78.3 181.4,78.5 185.5,78.3 189.6,78.0 193.6,78.0 197.7,78.2 201.7,78.4 205.8,78.5 209.9,78.5 213.9,78.6 218.0,78.6 222.0,78.6 226.1,78.2 230.2,78.1 234.2,78.6 238.3,78.6 242.4,78.6 246.4,78.6 250.5,78.5 254.5,78.5 258.6,78.6 262.7,78.6 266.7,78.6 270.8,78.3 274.8,78.3 278.9,78.3 283.0,78.4 287.0,78.3 291.1,78.4 295.1,78.5 299.2,78.4 303.3,78.6 307.3,78.6 311.4,78.4 315.5,78.3 319.5,78.2 323.6,78.4 327.6,78.5 331.7,78.5" stroke="rgb(41,41,41)"/>
<polyline points="59.6,78.5 63.7,78.6 67.7,78.6 71.8,78.6 75.8,78.5 79.9,78.3 84.0,77.1 88.0,75.5 92.1,73.9 96.2,72.0 100.2,71.2 104.3,70.6 108.3,69.4 112.4,67.9 116.5,67.2 120.5,66.3 124.6,65.7 128.6,64.8 132.7,65.4 136.8,65.5 140.8,65.0 144.9,64.4 148.9,65.6 153.0,66.9 157.1,68.5 161.1,69.5 165.2,71.4 169.3,73.5 173.3,74.6 177.4,76.5 181.4,78.5 185.5,78.4 189.6,78.1 193.6,78.3 197.7,78.3 201.7,78.1 205.8,78.5 209.9,78.6 213.9,78.6 218.0,78.6 222.0,78.5 226.1,78.6 230.2,78.6 234.2,78.6 238.3,78.6 242.4,78.6 246.4,78.4 250.5,78.4 254.5,78.6 258.6,78.6 262.7,78.5 266.7,78.4 270.8,78.5 274.8,78.6 278.9,78.6 283.0,78.6 287.0,78.4 291.1,78.3 295.1,78.3 299.2,78.3 303.3,78.4 307.3,78.6 311.4,78.6 315.5,78.6 319.5,78.5 323.6,78.3 327.6,78.4 331.7,78.5" stroke="rgb(49,49,49)"/>
<polyline points="59.6,78.1 63.7,78.2 67.7,77.5 71.8,76.5 75.8,75.2 79.9,73.5 84.0,72.1 88.0,70.9 92.1,69.6 96.2,68.2 100.2,67.8 104.3,67.2 108.3,66.9 112.4,66.5 116.5,65.7 120.5,65.7 124.6,66.8 128.6,67.1 132.7,67.6 136.8,69.1 140.8,70.0 144.9,71.7 148.9,74.1 153.0,76.3 157.1,77.5 161.1,77.9 165.2,77.7 169.3,77.8 173.3,78.2 177.4,78.3 181.4,78.3 185.5,78.6 189.6,78.6 193.6,78.5 197.7,78.4 201.7,78.2 205.8,78.2 209.9,78.3 213.9,78.4 218.0,78.5 222.0,78.5 226.1,78.4 230.2,78.3 234.2,78.2 238.3,78.1 242.4,78.3 246.4,78.4 250.5,78.4 254.5,78.4 258.6,78.6 262.7,78.6 266.7,78.2 270.8,78.1 274.8,78.1 278.9,78.2 283.0,78.6 287.0,78.6 291.1,78.5 295.1,78.5 299.2,78.3 303.3,78.0 307.3,78.2 311.4,78.2 315.5,77.9 319.5,78.4 323.6,78.4 327.6,78.1 331.7,78.3" stroke="rgb(61,61,61)"/>
<polyline points="59.6,78.4 63.7,78.3 67.7,78.3 71.8,78.2 75.8,78.1 79.9,77.5 84.0,77.0 88.0,76.0 92.1,75.1 96.2,74.5 100.2,73.4 104.3,72.2 108.3,71.4 112.4,70.3 116.5,69.2 120.5,69.0 124.6,68.6 128.6,68.7 132.7,68.9 136.8,69.3 140.8,69.9 144.9,71.2 148.9,71.9 153.0,72.8 157.1,74.5 161.1,75.9 165.2,76.9 169.3,77.2 173.3,77.1 177.4,77.0 181.4,77.2 185.5,77.6 189.6,77.7 193.6,77.7 197.7,77.9 201.7,78.4 205.8,78.6 209.9,78.3 213.9,78.3 218.0,78.2 222.0,77.7 226.1,77.9 230.2,78.2 234.2,78.1 238.3,77.9 242.4,78.3 246.4,78.6 250.5,78.1 254.5,78.1 258.6,78.5 262.7,78.4 266.7,78.4 270.8,78.3 274.8,78.0 278.9,78.2 283.0,78.5 287.0,78.4 291.1,78.2 295.1,78.4 299.2,78.4 303.3,78.4 307.3,78.5 311.4,78.3 315.5,78.0 319.5,78.2 323.6,78.6 327.6,78.3 331.7,78.0" stroke="rgb(46,46,46)"/>
<polyline points="59.6,78.6 63.7,78.2 67.7,78.6 71.8,78.6 75.8,78.6 79.9,78.3 84.0,77.4 88.0,76.5 92.1,75.3 96.2,74.0 100.2,73.1 104.3,71.6 108.3,70.7 112.4,69.1 116.5,69.0 120.5,68.3 124.6,68.1 128.6,67.0 132.7,67.4 136.8,66.4 140.8,66.3 144.9,66.8 148.9,67.9 153.0,68.5 157.1,70.3 161.1,72.5 165.2,74.5 169.3,75.7 173.3,77.1 177.4,78.3 181.4,78.5 185.5,78.1 189.6,78.1 193.6,78.4 197.7,78.5 201.7,78.2 205.8,78.2 209.9,78.6 213.9,78.6 218.0,78.4 222.0,78.5 226.1,78.6 230.2,78.6 234.2,78.6 238.3,78.4 242.4,78.5 246.4,78.6 250.5,78.0 254.5,78.0 258.6,78.3 262.7,78.3 266.7,78.1 270.8,78.5 274.8,78.6 278.9,78.6 283.0,78.6 287.0,78.6 291.1,78.5 295.1,78.6 299.2,78.6 303.3,78.5 307.3,78.2 311.4,78.4 315.5,78.6 319.5,78.6 323.6,78.6 327.6,78.6 331.7,78.6" stroke="rgb(48,48,48)"/>
<polyline points="59.6,78.1 63.7,77.6 67.7,76.6 71.8,75.7 75.8,74.8 79.9,73.6 84.0,72.4 88.0,71.2 92.1,69.7 96.2,68.5 100.2,68.4 104.3,67.9 108.3,67.3 112.4,67.4 116.5,67.1 120.5,67.1 124.6,68.4 128.6,69.3 132.7,70.5 136.8,72.1 140.8,73.9 144.9,75.3 148.9,76.8 153.0,78.1 157.1,78.4 161.1,78.5 165.2,78.4 169.3,78.1 173.3,78.2 177.4,78.5 181.4,78.6 185.5,78.6 189.6,78.6 193.6,78.6 197.7,78.6 201.7,78.5 205.8,78.1 209.9,78.3 213.9,78.5 218.0,78.4 222.0,78.4 226.1,78.2 230.2,78.2 234.2,78.4 238.3,78.5 242.4,78.4 246.4,78.2 250.5,78.3 254.5,78.1 258.6,78.3 262.7,78.6 266.7,78.6 270.8,78.6 274.8,78.6 278.9,78.6 283.0,78.4 287.0,78.2 291.1,78.4 295.1,78.4 299.2,78.4 303.3,78.6 307.3,78.5 311.4,78.2 315.5,78.2 319.5,78.5 323.6,78.4 327.6,78.2 331.7,78.5" stroke="rgb(60,60,60)"/>
<polyline points="59.6,78.6 63.7,78.4 67.7,78.1 71.8,77.9 75.8,76.9 79.9,76.4 84.0,75.9 88.0,74.8 92.1,73.8 96.2,72.7 100.2,71.7 104.3,70.1 108.3,69.6 112.4,69.0 116.5,68.2 120.5,67.7 124.6,67.9 128.6,67.8 132.7,67.6 136.8,67.9 140.8,68.1 144.9,68.9 148.9,69.7 153.0,70.9 157.1,72.4 161.1,74.3 165.2,76.1 169.3,77.2 173.3,77.4 177.4,77.3 181.4,77.4 185.5,77.4 189.6,77.8 193.6,78.0 197.7,77.8 201.7,77.8 205.8,78.1 209.9,78.4 213.9,78.5 218.0,78.3 222.0,78.3 226.1,78.4 230.2,78.3 234.2,78.3 238.3,78.5 242.4,78.4 246.4,78.4 250.5,78.5 254.5,78.2 258.6,78.1 262.7,78.5 266.7,78.6 270.8,78.4 274.8,78.4 278.9,78.4 283.0,78.1 287.0,78.0 291.1,77.9 295.1,78.3 299.2,78.6 303.3,78.5 307.3,78.5 311.4,78.3 315.5,78.1 319.5,78.4 323.6,78.5 327.6,78.6 331.7,78.6" stroke="rgb(55,55,55)"/>
<polyline points="59.6,78.1 63.7,78.0 67.7,78.1 71.8,78.4 75.8,77.9 79.9,76.8 84.0,76.0 88.0,75.0 92.1,73.4 96.2,72.1 100.2,71.1 104.3,69.7 108.3,68.1 112.4,68.3 116.5,67.0 120.5,65.7 124.6,66.2 128.6,65.9 132.7,64.9 136.8,65.5 140.8,65.2 144.9,64.9 148.9,66.4 153.0,67.8 157.1,68.6 161.1,70.4 165.2,72.4 169.3,74.0 173.3,75.6 177.4,77.0 181.4,77.7 185.5,78.0 189.6,77.9 193.6,77.8 197.7,78.3 201.7,78.4 205.8,78.0 209.9,78.0 213.9,78.3 218.0,78.3 222.0,78.3 226.1,78.3 230.2,78.2 234.2,78.3 238.3,78.2 242.4,77.9 246.4,78.0 250.5,78.0 254.5,78.0 258.6,78.2 262.7,78.3 266.7,78.1 270.8,78.0 274.8,78.1 278.9,78.4 283.0,78.4 287.0,78.4 291.1,78.2 295.1,77.9 299.2,78.1 303.3,78.2 307.3,78.4 311.4,78.4 315.5,78.6 319.5,78.4 323.6,78.3 327.6,78.4 331.7,78.3" stroke="rgb(32,32,32)"/>
<polyline points="59.6,78.6 63.7,78.4 67.7,78.3 71.8,78.3 75.8,78.0 79.9,77.9 84.0,77.9 88.0,77.3 92.1,75.8 96.2,74.5 100.2,72.9 104.3,71.5 108.3,69.7 112.4,69.0 116.5,68.5 120.5,68.2 124.6,66.7 128.6,66.7 132.7,66.4 136.8,65.1 140.8,64.5 144.9,65.0 148.9,66.3 153.0,67.7 157.1,69.8 161.1,71.5 165.2,73.3 169.3,75.2 173.3,77.2 177.4,78.2 181.4,78.3 185.5,78.1 189.6,77.9 193.6,78.3 197.7,78.4 201.7,78.2 205.8,78.1 209.9,78.4 213.9,78.6 218.0,78.6 222.0,78.5 226.1,78.2 230.2,78.3 234.2,78.1 238.3,78.2 242.4,78.5 246.4,78.5 250.5,78.6 254.5,78.6 258.6,78.4 262.7,78.5 266.7,78.6 270.8,78.5 274.8,78.5 278.9,78.4 283.0,78.2 287.0,78.3 291.1,78.2 295.1,78.6 299.2,78.6 303.3,78.3 307.3,78.3 311.4,78.4 315.5,78.2 319.5,78.3 323.6,78.4 327.6,78.6 331.7,78.6" stroke="rgb(62,62,62)"/>
<polyline points="59.6,78.1 63.7,78.3 67.7,78.6 71.8,78.5 75.8,78.3 79.9,77.3 84.0,76.2 88.0,75.3 92.1,74.4 96.2,73.7 100.2,72.9 104.3,71.5 108.3,71.0 112.4,70.0 116.5,68.9 120.5,68.2 124.6,68.0 128.6,67.9 132.7,68.0 136.8,68.4 140.8,69.0 144.9,69.4 148.9,70.0 153.0,71.3 157.1,72.7 161.1,74.4 165.2,76.0 169.3,77.0 173.3,77.1 177.4,77.0 181.4,77.5 185.5,77.6 189.6,77.6 193.6,78.1 197.7,77.7 201.7,77.3 205.8,77.8 209.9,78.2 213.9,78.2 218.0,78.1 222.0,77.9 226.1,77.9 230.2,78.2 234.2,78.4 238.3,78.1 242.4,78.0 246.4,78.4 250.5,78.4 254.5,78.0 258.6,78.4 262.7,78.3 266.7,78.0 270.8,78.0 274.8,77.8 278.9,78.0 283.0,78.1 287.0,78.2 291.1,78.3 295.1,78.3 299.2,78.1 303.3,78.4 307.3,78.5 311.4,78.6 315.5,78.6 319.5,78.5 323.6,78.2 327.6,78.1 331.7,78.2" stroke="rgb(50,50,50)"/>
<polyline points="59.6,78.4 63.7,77.7 67.7,76.9 71.8,76.2 75.8,75.4 79.9,74.7 84.0,73.7 88.0,73.1 92.1,72.5 96.2,72.1 100.2,71.5 104.3,71.7 108.3,74.0 112.4,77.5 116.5,77.5 120.5,73.7 124.6,70.8 128.6,70.3 132.7,70.6 136.8,71.2 140.8,71.9 144.9,72.8 148.9,73.9 153.0,74.8 157.1,75.7 161.1,76.5 165.2,77.3 169.3,78.2 173.3,78.2 177.4,78.2 181.4,78.2 185.5,78.4 189.6,78.5 193.6,78.4 197.7,78.3 201.7,78.4 205.8,78.3 209.9,78.3 213.9,78.2 218.0,78.4 222.0,78.5 226.1,78.4 230.2,78.3 234.2,78.2 238.3,78.4 242.4,78.5 246.4,78.5 250.5,78.4 254.5,78.4 258.6,78.4 262.7,78.3 266.7,78.3 270.8,78.2 274.8,78.4 278.9,78.4 283.0,78.5 287.0,78.4 291.1,78.3 295.1,78.2 299.2,78.3 303.3,78.4 307.3,78.3 311.4,78.2 315.5,78.3 319.5,78.5 323.6,78.6 327.6,78.3 331.7,78.1" stroke="rgb(73,73,73)"/>
<polyline points="59.6,78.3 63.7,78.1 67.7,77.2 71.8,76.5 75.8,75.6 79.9,74.7 84.0,73.6 88.0,72.7 92.1,71.9 96.2,71.4 100.2,71.0 104.3,71.8 108.3,73.7 112.4,76.4 116.5,78.0 120.5,77.3 124.6,74.7 128.6,71.7 132.7,70.0 136.8,69.6 140.8,70.0 144.9,70.6 148.9,71.4 153.0,72.6 157.1,74.0 161.1,75.4 165.2,76.5 169.3,77.4 173.3,78.2 177.4,78.3 181.4,78.3 185.5,78.2 189.6,78.2 193.6,78.4 197.7,78.5 201.7,78.4 205.8,78.3 209.9,78.2 213.9,78.1 218.0,78.2 222.0,78.3 226.1,78.3 230.2,78.4 234.2,78.5 238.3,78.6 242.4,78.5 246.4,78.5 250.5,78.4 254.5,78.3 258.6,78.3 262.7,78.5 266.7,78.6 270.8,78.6 274.8,78.5 278.9,78.4 283.0,78.3 287.0,78.1 291.1,78.2 295.1,78.2 299.2,78.3 303.3,78.3 307.3,78.4 311.4,78.3 315.5,78.2 319.5,78.1 323.6,78.0 327.6,78.2 331.7,78.3" stroke="rgb(73,73,73)"/>
</g>
<path d="M59.60,62.50 V78.60 H331.70" fill="none" stroke="#3a3a3a" stroke-width="0.7"/>
<line x1="59.60" y1="78.60" x2="59.60" y2="76.40" stroke="#3a3a3a" stroke-width="0.6"/>
<text x="60.20" y="92.50" font-size="10.15">-40</text>
<line x1="114.02" y1="78.60" x2="114.02" y2="76.40" stroke="#3a3a3a" stroke-width="0.6"/>
<text x="114.62" y="92.50" font-size="10.15">-20</text>
<line x1="168.44" y1="78.60" x2="168.44" y2="76.40" stroke="#3a3a3a" stroke-width="0.6"/>
<text x="168.44" y="92.50" font-size="10.15">0</text>
<line x1="222.86" y1="78.60" x2="222.86" y2="76.40" stroke="#3a3a3a" stroke-width="0.6"/>
<text x="222.86" y="92.50" font-size="10.15">20</text>
<line x1="277.28" y1="78.60" x2="277.28" y2="76.40" stroke="#3a3a3a" stroke-width="0.6"/>
<text x="277.28" y="92.50" font-size="10.15">40</text>
<line x1="331.70" y1="78.60" x2="331.70" y2="76.40" stroke="#3a3a3a" stroke-width="0.6"/>
<text x="331.70" y="92.50" font-size="10.15">60</text>
<line x1="59.60" y1="65.30" x2="62.00" y2="65.30" stroke="#3a3a3a" stroke-width="0.6"/>
<text x="55.80" y="70.10" font-size="10.15" text-anchor="end">500</text>
<text x="55.80" y="83.60" font-size="10.15" text-anchor="end">0</text>
<text x="195.95" y="59.30" font-size="10.55" font-weight="bold">5 ms post-saccadic delay trials</text>
<line x1="114.02" y1="110.90" x2="114.02" y2="127.00" stroke="#d9d9d9" stroke-width="0.6"/>
<line x1="168.44" y1="110.90" x2="168.44" y2="127.00" stroke="#d9d9d9" stroke-width="0.6"/>
<line x1="222.86" y1="110.90" x2="222.86" y2="127.00" stroke="#d9d9d9" stroke-width="0.6"/>
<line x1="277.28" y1="110.90" x2="277.28" y2="127.00" stroke="#d9d9d9" stroke-width="0.6"/>
<line x1="331.70" y1="110.90" x2="331.70" y2="127.00" stroke="#d9d9d9" stroke-width="0.6"/>
<line x1="59.60" y1="113.70" x2="331.70" y2="113.70" stroke="#d9d9d9" stroke-width="0.6"/>
<rect x="168.44" y="110.90" width="136.55" height="16.10" fill="#c8c8c8"/>
<clipPath id="ca1"><rect x="59.6" y="108.90" width="272.10" height="18.50"/></clipPath>
<g clip-path="url(#ca1)" fill="none" stroke-width="0.62" stroke-linejoin="round">
<polyline points="59.6,122.5 63.7,121.4 67.7,119.9 71.8,118.6 75.8,117.0 79.9,115.7 84.0,115.2 88.0,115.3 92.1,115.3 96.2,114.8 100.2,114.3 104.3,114.0 108.3,114.5 112.4,115.4 116.5,116.6 120.5,118.3 124.6,120.4 128.6,122.3 132.7,124.0 136.8,125.5 140.8,126.6 144.9,126.6 148.9,126.5 153.0,126.5 157.1,126.6 161.1,126.7 165.2,126.7 169.3,126.4 173.3,126.5 177.4,126.9 181.4,126.7 185.5,126.7 189.6,126.9 193.6,126.9 197.7,126.7 201.7,126.4 205.8,126.2 209.9,126.1 213.9,126.4 218.0,126.6 222.0,126.3 226.1,126.3 230.2,126.4 234.2,126.5 238.3,126.4 242.4,126.5 246.4,126.6 250.5,126.6 254.5,126.5 258.6,126.3 262.7,126.5 266.7,126.7 270.8,126.8 274.8,126.3 278.9,126.4 283.0,126.6 287.0,126.8 291.1,127.0 295.1,126.7 299.2,126.4 303.3,126.3 307.3,126.5 311.4,126.4 315.5,126.7 319.5,127.0 323.6,126.6 327.6,126.2 331.7,126.1" stroke="rgb(34,34,34)"/>
<polyline points="59.6,126.8 63.7,126.2 67.7,125.3 71.8,124.3 75.8,122.9 79.9,121.8 84.0,121.0 88.0,120.2 92.1,118.6 96.2,118.0 100.2,117.2 104.3,116.2 108.3,115.9 112.4,116.0 116.5,115.7 120.5,114.8 124.6,114.9 128.6,115.1 132.7,115.9 136.8,117.0 140.8,118.1 144.9,119.7 148.9,122.2 153.0,124.1 157.1,125.2 161.1,126.3 165.2,126.1 169.3,126.1 173.3,126.3 177.4,126.3 181.4,126.7 185.5,126.9 189.6,126.8 193.6,126.7 197.7,126.7 201.7,126.8 205.8,126.8 209.9,127.0 213.9,127.0 218.0,127.0 222.0,127.0 226.1,126.6 230.2,126.6 234.2,126.7 238.3,126.7 242.4,126.6 246.4,126.8 250.5,127.0 254.5,127.0 258.6,127.0 262.7,126.9 266.7,126.7 270.8,126.8 274.8,126.8 278.9,126.8 283.0,126.9 287.0,126.9 291.1,126.9 295.1,126.7 299.2,126.6 303.3,126.8 307.3,127.0 311.4,127.0 315.5,126.9 319.5,126.8 323.6,126.8 327.6,127.0 331.7,127.0" stroke="rgb(55,55,55)"/>
<polyline points="59.6,120.1 63.7,119.4 67.7,118.2 71.8,117.5 75.8,116.6 79.9,116.2 84.0,115.4 88.0,115.8 92.1,116.2 96.2,116.8 100.2,116.8 104.3,117.8 108.3,118.3 112.4,119.2 116.5,120.2 120.5,121.8 124.6,123.8 128.6,125.4 132.7,126.2 136.8,126.3 140.8,126.4 144.9,126.4 148.9,126.3 153.0,126.5 157.1,126.7 161.1,126.5 165.2,126.7 169.3,126.6 173.3,126.7 177.4,127.0 181.4,126.7 185.5,126.6 189.6,126.9 193.6,127.0 197.7,126.8 201.7,126.8 205.8,126.9 209.9,127.0 213.9,127.0 218.0,127.0 222.0,127.0 226.1,127.0 230.2,126.7 234.2,126.6 238.3,126.6 242.4,126.7 246.4,126.8 250.5,126.7 254.5,126.7 258.6,126.8 262.7,126.9 266.7,126.6 270.8,126.6 274.8,126.7 278.9,126.7 283.0,127.0 287.0,127.0 291.1,127.0 295.1,126.7 299.2,126.6 303.3,126.9 307.3,126.8 311.4,126.5 315.5,126.9 319.5,126.8 323.6,126.5 327.6,126.3 331.7,126.2" stroke="rgb(79,79,79)"/>
<polyline points="59.6,125.2 63.7,124.1 67.7,123.1 71.8,121.9 75.8,120.7 79.9,119.4 84.0,118.6 88.0,117.6 92.1,116.5 96.2,114.6 100.2,113.1 104.3,112.3 108.3,112.0 112.4,112.5 116.5,113.1 120.5,114.2 124.6,114.8 128.6,115.6 132.7,117.2 136.8,119.0 140.8,120.4 144.9,122.1 148.9,123.7 153.0,125.1 157.1,126.1 161.1,126.3 165.2,126.2 169.3,126.1 173.3,126.0 177.4,126.1 181.4,126.4 185.5,126.5 189.6,126.4 193.6,126.5 197.7,126.8 201.7,126.7 205.8,126.5 209.9,126.4 213.9,126.7 218.0,126.8 222.0,126.6 226.1,126.7 230.2,126.7 234.2,126.8 238.3,126.8 242.4,126.7 246.4,126.6 250.5,126.7 254.5,126.8 258.6,126.8 262.7,126.4 266.7,126.6 270.8,126.8 274.8,126.7 278.9,126.6 283.0,126.5 287.0,126.6 291.1,126.6 295.1,126.4 299.2,126.6 303.3,126.6 307.3,126.4 311.4,126.3 315.5,126.5 319.5,126.6 323.6,126.5 327.6,126.8 331.7,126.4" stroke="rgb(61,61,61)"/>
<polyline points="59.6,126.1 63.7,125.4 67.7,125.0 71.8,124.2 75.8,123.0 79.9,122.0 84.0,121.1 88.0,119.9 92.1,119.2 96.2,118.2 100.2,117.0 104.3,116.1 108.3,115.9 112.4,115.3 116.5,114.8 120.5,115.2 124.6,115.3 128.6,115.2 132.7,116.1 136.8,117.9 140.8,119.5 144.9,120.9 148.9,122.9 153.0,124.4 157.1,125.3 161.1,126.1 165.2,126.6 169.3,126.4 173.3,126.5 177.4,126.5 181.4,126.4 185.5,126.5 189.6,126.8 193.6,127.0 197.7,126.9 201.7,126.9 205.8,127.0 209.9,126.9 213.9,126.9 218.0,127.0 222.0,126.9 226.1,127.0 230.2,127.0 234.2,127.0 238.3,127.0 242.4,127.0 246.4,127.0 250.5,127.0 254.5,127.0 258.6,126.9 262.7,126.9 266.7,126.9 270.8,126.7 274.8,126.6 278.9,126.8 283.0,126.9 287.0,126.8 291.1,126.8 295.1,126.9 299.2,126.9 303.3,126.8 307.3,126.8 311.4,127.0 315.5,127.0 319.5,126.9 323.6,127.0 327.6,126.9 331.7,127.0" stroke="rgb(39,39,39)"/>
<polyline points="59.6,126.0 63.7,125.7 67.7,125.0 71.8,124.6 75.8,123.9 79.9,122.4 84.0,121.5 88.0,121.3 92.1,121.0 96.2,120.5 100.2,119.6 104.3,118.9 108.3,118.2 112.4,117.7 116.5,117.3 120.5,116.8 124.6,116.7 128.6,117.4 132.7,118.5 136.8,119.9 140.8,121.4 144.9,122.6 148.9,123.8 153.0,125.2 157.1,126.2 161.1,126.5 165.2,126.1 169.3,126.0 173.3,125.9 177.4,126.1 181.4,126.5 185.5,126.4 189.6,126.3 193.6,126.4 197.7,126.7 201.7,126.9 205.8,126.7 209.9,126.7 213.9,127.0 218.0,127.0 222.0,126.8 226.1,126.6 230.2,126.6 234.2,126.8 238.3,126.8 242.4,126.9 246.4,126.8 250.5,126.4 254.5,126.6 258.6,126.7 262.7,126.3 266.7,126.7 270.8,127.0 274.8,127.0 278.9,127.0 283.0,127.0 287.0,127.0 291.1,127.0 295.1,126.7 299.2,126.6 303.3,126.7 307.3,126.9 311.4,126.8 315.5,126.6 319.5,126.8 323.6,126.8 327.6,126.9 331.7,127.0" stroke="rgb(75,75,75)"/>
<polyline points="59.6,126.8 63.7,126.8 67.7,125.7 71.8,124.4 75.8,123.7 79.9,122.9 84.0,122.5 88.0,121.5 92.1,120.3 96.2,119.7 100.2,118.5 104.3,116.0 108.3,114.6 112.4,114.5 116.5,113.9 120.5,114.7 124.6,115.6 128.6,115.4 132.7,115.3 136.8,115.9 140.8,117.8 144.9,118.1 148.9,119.4 153.0,121.0 157.1,122.5 161.1,123.7 165.2,125.0 169.3,126.5 173.3,126.5 177.4,126.4 181.4,126.6 185.5,126.6 189.6,126.5 193.6,126.7 197.7,126.8 201.7,127.0 205.8,127.0 209.9,127.0 213.9,127.0 218.0,126.9 222.0,126.9 226.1,127.0 230.2,127.0 234.2,127.0 238.3,126.9 242.4,126.8 246.4,127.0 250.5,127.0 254.5,127.0 258.6,127.0 262.7,126.9 266.7,126.8 270.8,127.0 274.8,127.0 278.9,126.5 283.0,126.6 287.0,127.0 291.1,127.0 295.1,127.0 299.2,127.0 303.3,126.9 307.3,127.0 311.4,127.0 315.5,126.8 319.5,127.0 323.6,127.0 327.6,126.8 331.7,127.0" stroke="rgb(58,58,58)"/>
<polyline points="59.6,121.3 63.7,120.1 67.7,119.4 71.8,118.8 75.8,117.2 79.9,116.2 84.0,115.8 88.0,115.1 92.1,114.1 96.2,114.1 100.2,114.8 104.3,115.4 108.3,115.9 112.4,116.9 116.5,117.5 120.5,118.6 124.6,119.9 128.6,121.7 132.7,122.5 136.8,123.9 140.8,125.1 144.9,126.0 148.9,126.3 153.0,126.0 157.1,125.9 161.1,126.2 165.2,126.1 169.3,126.2 173.3,126.6 177.4,126.8 181.4,126.7 185.5,126.5 189.6,126.5 193.6,126.7 197.7,126.7 201.7,126.9 205.8,127.0 209.9,126.8 213.9,127.0 218.0,127.0 222.0,127.0 226.1,126.7 230.2,126.9 234.2,127.0 238.3,126.7 242.4,126.6 246.4,126.9 250.5,127.0 254.5,127.0 258.6,127.0 262.7,127.0 266.7,127.0 270.8,126.8 274.8,126.8 278.9,127.0 283.0,126.7 287.0,127.0 291.1,127.0 295.1,127.0 299.2,126.9 303.3,126.6 307.3,126.8 311.4,126.9 315.5,126.7 319.5,126.7 323.6,126.8 327.6,126.7 331.7,126.7" stroke="rgb(79,79,79)"/>
<polyline points="59.6,126.8 63.7,126.4 67.7,125.3 71.8,124.2 75.8,123.0 79.9,121.8 84.0,120.8 88.0,119.7 92.1,118.7 96.2,118.1 100.2,117.6 104.3,117.1 108.3,116.6 112.4,116.7 116.5,116.3 120.5,116.7 124.6,115.8 128.6,115.3 132.7,115.5 136.8,116.2 140.8,117.1 144.9,119.3 148.9,121.2 153.0,123.2 157.1,125.0 161.1,126.3 165.2,126.6 169.3,126.3 173.3,126.0 177.4,125.9 181.4,126.3 185.5,126.7 189.6,126.8 193.6,126.8 197.7,127.0 201.7,127.0 205.8,126.9 209.9,126.9 213.9,127.0 218.0,127.0 222.0,127.0 226.1,127.0 230.2,126.6 234.2,126.7 238.3,126.8 242.4,127.0 246.4,127.0 250.5,127.0 254.5,127.0 258.6,127.0 262.7,126.9 266.7,126.6 270.8,126.8 274.8,126.9 278.9,126.8 283.0,126.9 287.0,127.0 291.1,127.0 295.1,126.9 299.2,126.9 303.3,126.8 307.3,126.9 311.4,126.9 315.5,127.0 319.5,127.0 323.6,127.0 327.6,127.0 331.7,127.0" stroke="rgb(55,55,55)"/>
<polyline points="59.6,122.5 63.7,121.7 67.7,120.8 71.8,119.7 75.8,118.5 79.9,116.6 84.0,114.9 88.0,113.8 92.1,113.1 96.2,112.9 100.2,112.8 104.3,113.6 108.3,113.8 112.4,114.6 116.5,116.1 120.5,118.0 124.6,119.7 128.6,120.9 132.7,122.4 136.8,124.3 140.8,125.8 144.9,126.2 148.9,125.9 153.0,126.0 157.1,126.0 161.1,126.2 165.2,126.6 169.3,126.7 173.3,126.6 177.4,126.4 181.4,126.5 185.5,127.0 189.6,126.6 193.6,126.3 197.7,126.7 201.7,126.9 205.8,126.8 209.9,126.5 213.9,126.6 218.0,126.6 222.0,126.5 226.1,126.8 230.2,126.8 234.2,127.0 238.3,127.0 242.4,126.8 246.4,126.8 250.5,126.9 254.5,127.0 258.6,127.0 262.7,127.0 266.7,127.0 270.8,126.7 274.8,126.7 278.9,126.7 283.0,126.6 287.0,126.6 291.1,126.8 295.1,126.9 299.2,126.9 303.3,127.0 307.3,127.0 311.4,126.8 315.5,126.5 319.5,126.7 323.6,126.8 327.6,126.9 331.7,127.0" stroke="rgb(67,67,67)"/>
<polyline points="59.6,120.2 63.7,119.4 67.7,118.1 71.8,117.2 75.8,117.5 79.9,117.4 84.0,117.3 88.0,117.6 92.1,116.9 96.2,116.0 100.2,116.3 104.3,116.8 108.3,117.7 112.4,119.4 116.5,121.1 120.5,123.6 124.6,125.7 128.6,126.4 132.7,126.2 136.8,126.1 140.8,126.4 144.9,126.8 148.9,126.7 153.0,126.9 157.1,127.0 161.1,127.0 165.2,126.9 169.3,126.9 173.3,126.8 177.4,126.6 181.4,126.8 185.5,126.6 189.6,126.3 193.6,126.7 197.7,126.9 201.7,126.6 205.8,126.9 209.9,127.0 213.9,127.0 218.0,126.8 222.0,126.2 226.1,126.7 230.2,127.0 234.2,127.0 238.3,127.0 242.4,126.8 246.4,126.7 250.5,126.9 254.5,127.0 258.6,127.0 262.7,127.0 266.7,127.0 270.8,127.0 274.8,126.8 278.9,126.8 283.0,126.7 287.0,126.7 291.1,126.7 295.1,126.9 299.2,127.0 303.3,127.0 307.3,126.9 311.4,126.7 315.5,126.8 319.5,126.7 323.6,126.7 327.6,127.0 331.7,127.0" stroke="rgb(72,72,72)"/>
<polyline points="59.6,123.9 63.7,123.2 67.7,122.3 71.8,121.5 75.8,120.4 79.9,118.6 84.0,116.7 88.0,116.3 92.1,115.3 96.2,114.3 100.2,113.8 104.3,113.3 108.3,112.6 112.4,113.0 116.5,113.3 120.5,114.2 124.6,116.2 128.6,117.5 132.7,119.2 136.8,120.4 140.8,121.8 144.9,123.6 148.9,125.6 153.0,126.5 157.1,126.0 161.1,125.9 165.2,126.2 169.3,126.1 173.3,126.2 177.4,126.5 181.4,126.7 185.5,126.7 189.6,126.6 193.6,126.6 197.7,126.9 201.7,126.8 205.8,126.3 209.9,126.4 213.9,126.7 218.0,126.6 222.0,126.3 226.1,126.6 230.2,126.8 234.2,126.7 238.3,126.8 242.4,126.8 246.4,126.6 250.5,126.3 254.5,126.7 258.6,126.9 262.7,126.8 266.7,127.0 270.8,126.7 274.8,126.8 278.9,126.8 283.0,126.7 287.0,126.7 291.1,126.8 295.1,126.6 299.2,126.5 303.3,126.9 307.3,127.0 311.4,126.7 315.5,126.4 319.5,126.6 323.6,126.5 327.6,126.6 331.7,127.0" stroke="rgb(78,78,78)"/>
<polyline points="59.6,116.9 63.7,116.3 67.7,115.5 71.8,115.1 75.8,115.0 79.9,114.9 84.0,114.9 88.0,115.7 92.1,116.8 96.2,118.0 100.2,118.8 104.3,119.7 108.3,122.0 112.4,123.8 116.5,125.6 120.5,126.7 124.6,126.6 128.6,126.1 132.7,126.2 136.8,126.5 140.8,126.6 144.9,126.5 148.9,126.3 153.0,126.4 157.1,126.7 161.1,126.6 165.2,126.7 169.3,126.7 173.3,126.5 177.4,126.4 181.4,126.8 185.5,126.6 189.6,125.9 193.6,126.4 197.7,126.9 201.7,126.6 205.8,126.4 209.9,126.7 213.9,126.7 218.0,126.2 222.0,126.3 226.1,126.5 230.2,126.9 234.2,126.9 238.3,126.7 242.4,126.7 246.4,126.6 250.5,126.9 254.5,126.5 258.6,125.9 262.7,126.5 266.7,126.8 270.8,126.7 274.8,126.7 278.9,126.6 283.0,126.7 287.0,126.6 291.1,126.6 295.1,126.8 299.2,126.8 303.3,126.5 307.3,126.5 311.4,126.5 315.5,126.4 319.5,126.2 323.6,126.5 327.6,126.7 331.7,126.7" stroke="rgb(59,59,59)"/>
<polyline points="59.6,121.8 63.7,120.5 67.7,119.1 71.8,118.2 75.8,117.6 79.9,116.7 84.0,116.3 88.0,115.8 92.1,115.0 96.2,115.4 100.2,115.1 104.3,115.1 108.3,114.4 112.4,115.9 116.5,116.4 120.5,116.8 124.6,117.9 128.6,120.0 132.7,121.0 136.8,122.4 140.8,123.8 144.9,125.1 148.9,126.0 153.0,125.8 157.1,125.7 161.1,125.9 165.2,126.2 169.3,126.0 173.3,126.2 177.4,126.8 181.4,127.0 185.5,127.0 189.6,127.0 193.6,126.7 197.7,126.5 201.7,126.6 205.8,126.6 209.9,126.7 213.9,126.9 218.0,126.8 222.0,126.5 226.1,126.6 230.2,127.0 234.2,127.0 238.3,126.7 242.4,126.5 246.4,126.9 250.5,126.9 254.5,126.6 258.6,126.7 262.7,127.0 266.7,127.0 270.8,127.0 274.8,127.0 278.9,126.7 283.0,126.6 287.0,126.7 291.1,127.0 295.1,126.9 299.2,126.6 303.3,126.4 307.3,126.7 311.4,127.0 315.5,126.7 319.5,126.6 323.6,126.5 327.6,126.4 331.7,126.4" stroke="rgb(36,36,36)"/>
<polyline points="59.6,121.7 63.7,120.7 67.7,119.8 71.8,118.1 75.8,117.0 79.9,116.5 84.0,115.4 88.0,115.2 92.1,115.1 96.2,115.3 100.2,114.0 104.3,114.4 108.3,114.2 112.4,115.4 116.5,115.8 120.5,117.1 124.6,118.6 128.6,120.8 132.7,122.5 136.8,124.0 140.8,125.5 144.9,126.1 148.9,126.0 153.0,126.1 157.1,126.3 161.1,126.1 165.2,126.3 169.3,126.6 173.3,126.6 177.4,126.6 181.4,126.5 185.5,126.7 189.6,126.9 193.6,127.0 197.7,126.9 201.7,126.7 205.8,126.7 209.9,126.9 213.9,126.8 218.0,126.8 222.0,127.0 226.1,127.0 230.2,127.0 234.2,126.8 238.3,126.7 242.4,126.8 246.4,126.7 250.5,126.5 254.5,126.7 258.6,126.9 262.7,127.0 266.7,126.9 270.8,126.7 274.8,126.7 278.9,126.7 283.0,126.7 287.0,126.8 291.1,126.8 295.1,126.7 299.2,127.0 303.3,127.0 307.3,126.7 311.4,126.5 315.5,126.8 319.5,126.9 323.6,126.8 327.6,126.8 331.7,127.0" stroke="rgb(73,73,73)"/>
<polyline points="59.6,123.9 63.7,122.5 67.7,121.6 71.8,120.3 75.8,119.6 79.9,119.0 84.0,117.8 88.0,116.3 92.1,115.4 96.2,114.7 100.2,113.6 104.3,113.4 108.3,113.4 112.4,112.8 116.5,113.3 120.5,114.1 124.6,115.0 128.6,115.6 132.7,117.7 136.8,119.0 140.8,120.8 144.9,123.0 148.9,124.6 153.0,125.6 157.1,125.6 161.1,125.8 165.2,126.1 169.3,126.2 173.3,126.4 177.4,126.7 181.4,126.6 185.5,126.3 189.6,126.5 193.6,126.7 197.7,126.6 201.7,127.0 205.8,126.9 209.9,126.3 213.9,126.2 218.0,126.7 222.0,126.8 226.1,126.6 230.2,126.8 234.2,126.8 238.3,126.7 242.4,126.8 246.4,126.7 250.5,126.7 254.5,126.6 258.6,126.7 262.7,126.6 266.7,126.6 270.8,126.8 274.8,126.3 278.9,126.2 283.0,126.5 287.0,126.6 291.1,126.7 295.1,126.8 299.2,126.8 303.3,126.6 307.3,126.5 311.4,126.7 315.5,126.7 319.5,126.6 323.6,126.7 327.6,126.8 331.7,126.9" stroke="rgb(36,36,36)"/>
<polyline points="59.6,121.3 63.7,120.4 67.7,119.4 71.8,118.4 75.8,117.7 79.9,117.1 84.0,116.1 88.0,116.0 92.1,116.3 96.2,116.2 100.2,116.9 104.3,116.8 108.3,116.5 112.4,116.6 116.5,117.4 120.5,117.4 124.6,119.3 128.6,121.1 132.7,122.9 136.8,124.4 140.8,125.8 144.9,126.4 148.9,126.2 153.0,126.3 157.1,126.3 161.1,126.3 165.2,126.5 169.3,126.7 173.3,127.0 177.4,126.9 181.4,126.7 185.5,126.8 189.6,126.9 193.6,126.8 197.7,126.8 201.7,126.9 205.8,126.6 209.9,126.6 213.9,126.8 218.0,126.8 222.0,126.8 226.1,126.8 230.2,126.7 234.2,126.8 238.3,127.0 242.4,126.6 246.4,126.6 250.5,126.5 254.5,126.6 258.6,127.0 262.7,127.0 266.7,126.8 270.8,126.8 274.8,127.0 278.9,127.0 283.0,126.8 287.0,126.7 291.1,126.9 295.1,126.6 299.2,126.6 303.3,127.0 307.3,127.0 311.4,127.0 315.5,126.9 319.5,126.8 323.6,127.0 327.6,126.9 331.7,126.6" stroke="rgb(62,62,62)"/>
<polyline points="59.6,119.9 63.7,118.6 67.7,117.2 71.8,116.7 75.8,116.0 79.9,115.6 84.0,115.0 88.0,114.5 92.1,113.7 96.2,113.4 100.2,113.5 104.3,114.5 108.3,115.9 112.4,116.5 116.5,118.0 120.5,120.1 124.6,121.8 128.6,123.7 132.7,125.4 136.8,126.0 140.8,126.1 144.9,126.2 148.9,125.7 153.0,125.7 157.1,126.2 161.1,126.5 165.2,126.6 169.3,126.6 173.3,126.4 177.4,126.3 181.4,126.6 185.5,127.0 189.6,126.7 193.6,126.2 197.7,126.4 201.7,126.5 205.8,126.6 209.9,126.7 213.9,126.3 218.0,126.6 222.0,127.0 226.1,126.6 230.2,126.5 234.2,126.5 238.3,126.6 242.4,126.6 246.4,126.7 250.5,126.9 254.5,126.7 258.6,126.6 262.7,126.6 266.7,126.3 270.8,126.2 274.8,126.2 278.9,126.6 283.0,126.7 287.0,126.6 291.1,126.4 295.1,126.5 299.2,126.4 303.3,126.4 307.3,126.4 311.4,126.4 315.5,126.6 319.5,126.7 323.6,126.8 327.6,126.4 331.7,126.1" stroke="rgb(67,67,67)"/>
<polyline points="59.6,126.8 63.7,126.2 67.7,125.3 71.8,124.2 75.8,123.0 79.9,122.6 84.0,121.1 88.0,119.7 92.1,118.6 96.2,117.3 100.2,116.2 104.3,115.6 108.3,114.9 112.4,114.7 116.5,114.4 120.5,114.6 124.6,113.8 128.6,114.1 132.7,115.0 136.8,115.2 140.8,115.8 144.9,117.5 148.9,119.3 153.0,120.4 157.1,122.3 161.1,123.9 165.2,124.9 169.3,125.8 173.3,126.1 177.4,126.1 181.4,125.8 185.5,126.0 189.6,126.7 193.6,126.8 197.7,126.9 201.7,127.0 205.8,127.0 209.9,126.8 213.9,126.6 218.0,126.7 222.0,126.7 226.1,126.7 230.2,126.7 234.2,126.9 238.3,127.0 242.4,127.0 246.4,126.8 250.5,126.6 254.5,126.8 258.6,127.0 262.7,126.9 266.7,126.8 270.8,127.0 274.8,127.0 278.9,126.7 283.0,126.6 287.0,126.8 291.1,127.0 295.1,127.0 299.2,126.6 303.3,126.6 307.3,126.7 311.4,126.7 315.5,126.8 319.5,126.8 323.6,126.8 327.6,126.5 331.7,126.4" stroke="rgb(60,60,60)"/>
<polyline points="59.6,118.5 63.7,116.6 67.7,116.7 71.8,115.1 75.8,114.8 79.9,114.5 84.0,114.9 88.0,113.6 92.1,114.0 96.2,113.7 100.2,114.2 104.3,115.3 108.3,117.1 112.4,118.2 116.5,119.7 120.5,121.0 124.6,122.9 128.6,124.8 132.7,126.5 136.8,127.0 140.8,126.7 144.9,126.7 148.9,126.9 153.0,127.0 157.1,126.7 161.1,126.7 165.2,127.0 169.3,127.0 173.3,127.0 177.4,127.0 181.4,127.0 185.5,127.0 189.6,127.0 193.6,126.9 197.7,127.0 201.7,127.0 205.8,127.0 209.9,126.9 213.9,127.0 218.0,127.0 222.0,127.0 226.1,127.0 230.2,127.0 234.2,127.0 238.3,127.0 242.4,127.0 246.4,126.8 250.5,127.0 254.5,127.0 258.6,126.9 262.7,127.0 266.7,127.0 270.8,126.8 274.8,126.8 278.9,126.9 283.0,127.0 287.0,127.0 291.1,127.0 295.1,127.0 299.2,127.0 303.3,127.0 307.3,127.0 311.4,126.9 315.5,127.0 319.5,127.0 323.6,126.6 327.6,126.6 331.7,127.0" stroke="rgb(45,45,45)"/>
<polyline points="59.6,124.9 63.7,123.9 67.7,122.7 71.8,121.9 75.8,121.4 79.9,120.7 84.0,119.8 88.0,118.6 92.1,117.8 96.2,116.7 100.2,116.5 104.3,115.8 108.3,115.9 112.4,115.7 116.5,116.7 120.5,116.7 124.6,118.4 128.6,120.4 132.7,122.2 136.8,123.8 140.8,125.1 144.9,126.1 148.9,126.4 153.0,126.3 157.1,126.2 161.1,126.3 165.2,126.7 169.3,126.6 173.3,126.4 177.4,126.8 181.4,127.0 185.5,127.0 189.6,126.7 193.6,126.4 197.7,126.7 201.7,126.7 205.8,126.7 209.9,126.4 213.9,126.4 218.0,126.7 222.0,126.8 226.1,126.7 230.2,126.7 234.2,126.8 238.3,127.0 242.4,127.0 246.4,127.0 250.5,126.9 254.5,127.0 258.6,127.0 262.7,127.0 266.7,127.0 270.8,126.8 274.8,126.8 278.9,126.9 283.0,127.0 287.0,127.0 291.1,127.0 295.1,126.9 299.2,126.8 303.3,126.4 307.3,126.8 311.4,127.0 315.5,127.0 319.5,127.0 323.6,127.0 327.6,126.8 331.7,126.8" stroke="rgb(79,79,79)"/>
<polyline points="59.6,121.5 63.7,120.1 67.7,119.3 71.8,118.0 75.8,117.5 79.9,116.4 84.0,115.9 88.0,115.9 92.1,114.6 96.2,114.6 100.2,115.0 104.3,114.7 108.3,114.7 112.4,116.9 116.5,118.3 120.5,119.6 124.6,121.0 128.6,122.4 132.7,123.7 136.8,125.3 140.8,126.1 144.9,126.4 148.9,126.5 153.0,126.3 157.1,126.4 161.1,126.5 165.2,126.5 169.3,126.5 173.3,126.5 177.4,126.6 181.4,126.4 185.5,126.6 189.6,126.9 193.6,127.0 197.7,126.5 201.7,126.3 205.8,126.5 209.9,126.5 213.9,126.8 218.0,126.8 222.0,126.5 226.1,126.5 230.2,126.9 234.2,126.7 238.3,126.5 242.4,126.5 246.4,126.7 250.5,126.8 254.5,126.5 258.6,126.6 262.7,126.5 266.7,126.5 270.8,126.6 274.8,126.5 278.9,126.7 283.0,126.5 287.0,126.7 291.1,126.9 295.1,126.8 299.2,126.8 303.3,126.8 307.3,126.8 311.4,126.6 315.5,126.6 319.5,126.6 323.6,126.5 327.6,126.4 331.7,126.7" stroke="rgb(51,51,51)"/>
<polyline points="59.6,126.2 63.7,125.0 67.7,123.4 71.8,121.9 75.8,120.9 79.9,119.5 84.0,118.4 88.0,117.5 92.1,116.8 96.2,115.3 100.2,114.3 104.3,113.9 108.3,113.3 112.4,113.1 116.5,114.1 120.5,115.7 124.6,116.4 128.6,118.1 132.7,120.6 136.8,122.5 140.8,123.7 144.9,125.5 148.9,126.5 153.0,126.2 157.1,126.1 161.1,126.0 165.2,126.1 169.3,126.5 173.3,126.7 177.4,126.9 181.4,126.8 185.5,126.3 189.6,126.6 193.6,126.8 197.7,126.5 201.7,126.1 205.8,125.9 209.9,126.4 213.9,126.6 218.0,126.4 222.0,126.8 226.1,126.9 230.2,126.7 234.2,126.5 238.3,126.5 242.4,126.6 246.4,126.4 250.5,126.3 254.5,126.7 258.6,126.9 262.7,126.6 266.7,126.6 270.8,126.6 274.8,126.6 278.9,126.6 283.0,126.9 287.0,126.5 291.1,126.5 295.1,126.9 299.2,126.7 303.3,126.7 307.3,127.0 311.4,126.7 315.5,126.5 319.5,126.4 323.6,126.4 327.6,126.4 331.7,126.5" stroke="rgb(55,55,55)"/>
<polyline points="59.6,118.1 63.7,117.4 67.7,116.5 71.8,115.3 75.8,114.6 79.9,114.0 84.0,113.8 88.0,114.3 92.1,114.2 96.2,114.0 100.2,114.1 104.3,115.0 108.3,116.1 112.4,118.1 116.5,119.8 120.5,121.7 124.6,123.4 128.6,124.9 132.7,125.6 136.8,125.9 140.8,125.7 144.9,125.5 148.9,126.1 153.0,126.3 157.1,126.1 161.1,126.4 165.2,126.4 169.3,126.2 173.3,126.1 177.4,126.3 181.4,126.6 185.5,126.7 189.6,126.8 193.6,126.7 197.7,126.2 201.7,126.4 205.8,126.8 209.9,126.7 213.9,126.7 218.0,126.6 222.0,126.6 226.1,126.7 230.2,126.7 234.2,126.7 238.3,126.4 242.4,126.7 246.4,126.6 250.5,126.3 254.5,126.3 258.6,126.3 262.7,126.4 266.7,126.6 270.8,126.8 274.8,126.6 278.9,126.4 283.0,126.2 287.0,126.8 291.1,127.0 295.1,127.0 299.2,126.7 303.3,126.4 307.3,126.9 311.4,126.7 315.5,126.4 319.5,126.7 323.6,126.9 327.6,126.7 331.7,126.4" stroke="rgb(42,42,42)"/>
<polyline points="59.6,122.7 63.7,121.0 67.7,119.6 71.8,119.0 75.8,118.1 79.9,116.9 84.0,115.9 88.0,116.0 92.1,115.4 96.2,114.5 100.2,114.6 104.3,115.7 108.3,116.3 112.4,117.1 116.5,118.0 120.5,119.7 124.6,121.7 128.6,123.3 132.7,124.8 136.8,125.9 140.8,126.3 144.9,126.4 148.9,126.4 153.0,126.4 157.1,126.4 161.1,126.5 165.2,126.5 169.3,126.9 173.3,127.0 177.4,126.7 181.4,127.0 185.5,127.0 189.6,126.9 193.6,126.9 197.7,127.0 201.7,126.9 205.8,126.6 209.9,126.6 213.9,126.6 218.0,126.7 222.0,126.6 226.1,126.5 230.2,126.6 234.2,126.7 238.3,126.8 242.4,126.9 246.4,126.7 250.5,126.6 254.5,126.5 258.6,126.9 262.7,126.9 266.7,126.8 270.8,126.7 274.8,126.6 278.9,126.8 283.0,126.8 287.0,127.0 291.1,126.9 295.1,126.8 299.2,126.8 303.3,126.6 307.3,126.8 311.4,127.0 315.5,126.6 319.5,126.6 323.6,126.9 327.6,126.8 331.7,126.6" stroke="rgb(56,56,56)"/>
<polyline points="59.6,126.7 63.7,126.8 67.7,126.2 71.8,125.4 75.8,124.1 79.9,122.9 84.0,121.7 88.0,120.4 92.1,119.8 96.2,119.2 100.2,117.8 104.3,117.0 108.3,116.6 112.4,115.0 116.5,113.5 120.5,113.0 124.6,112.9 128.6,111.9 132.7,112.8 136.8,115.4 140.8,116.9 144.9,117.4 148.9,119.0 153.0,120.5 157.1,122.5 161.1,124.5 165.2,126.0 169.3,126.6 173.3,126.6 177.4,126.4 181.4,126.5 185.5,126.7 189.6,126.8 193.6,126.9 197.7,127.0 201.7,127.0 205.8,127.0 209.9,126.9 213.9,126.9 218.0,127.0 222.0,127.0 226.1,127.0 230.2,127.0 234.2,127.0 238.3,127.0 242.4,126.9 246.4,126.8 250.5,126.8 254.5,127.0 258.6,127.0 262.7,127.0 266.7,127.0 270.8,127.0 274.8,127.0 278.9,126.8 283.0,127.0 287.0,126.9 291.1,126.8 295.1,127.0 299.2,127.0 303.3,127.0 307.3,126.9 311.4,126.9 315.5,126.9 319.5,126.7 323.6,126.9 327.6,126.9 331.7,126.9" stroke="rgb(74,74,74)"/>
<polyline points="59.6,116.7 63.7,116.3 67.7,115.3 71.8,114.5 75.8,114.1 79.9,113.9 84.0,113.4 88.0,113.5 92.1,114.6 96.2,114.6 100.2,116.8 104.3,119.1 108.3,120.5 112.4,122.5 116.5,124.5 120.5,125.6 124.6,126.1 128.6,126.1 132.7,126.0 136.8,125.9 140.8,125.7 144.9,126.4 148.9,126.8 153.0,126.6 157.1,126.4 161.1,126.4 165.2,126.6 169.3,126.7 173.3,126.6 177.4,126.4 181.4,126.6 185.5,126.4 189.6,126.1 193.6,126.3 197.7,126.6 201.7,126.8 205.8,126.5 209.9,126.5 213.9,126.8 218.0,126.7 222.0,126.9 226.1,126.9 230.2,126.6 234.2,126.5 238.3,127.0 242.4,127.0 246.4,127.0 250.5,127.0 254.5,126.8 258.6,126.6 262.7,126.6 266.7,127.0 270.8,126.9 274.8,126.4 278.9,126.5 283.0,126.9 287.0,126.6 291.1,126.8 295.1,127.0 299.2,126.8 303.3,126.7 307.3,126.6 311.4,126.7 315.5,126.8 319.5,126.8 323.6,126.8 327.6,126.8 331.7,126.8" stroke="rgb(43,43,43)"/>
<polyline points="59.6,120.9 63.7,120.4 67.7,119.2 71.8,118.0 75.8,116.9 79.9,116.2 84.0,115.5 88.0,116.0 92.1,116.4 96.2,117.4 100.2,118.2 104.3,119.6 108.3,120.1 112.4,121.3 116.5,123.0 120.5,124.2 124.6,124.9 128.6,126.0 132.7,126.6 136.8,126.4 140.8,126.0 144.9,126.5 148.9,126.9 153.0,126.9 157.1,126.7 161.1,126.6 165.2,127.0 169.3,127.0 173.3,127.0 177.4,127.0 181.4,126.5 185.5,126.3 189.6,126.5 193.6,126.9 197.7,126.9 201.7,126.8 205.8,127.0 209.9,126.8 213.9,126.7 218.0,126.8 222.0,126.7 226.1,126.9 230.2,126.9 234.2,126.7 238.3,126.8 242.4,127.0 246.4,126.8 250.5,126.7 254.5,127.0 258.6,127.0 262.7,126.8 266.7,126.7 270.8,126.5 274.8,126.8 278.9,127.0 283.0,126.9 287.0,126.9 291.1,127.0 295.1,127.0 299.2,127.0 303.3,127.0 307.3,127.0 311.4,126.9 315.5,127.0 319.5,127.0 323.6,126.9 327.6,126.4 331.7,126.6" stroke="rgb(39,39,39)"/>
<polyline points="59.6,121.2 63.7,119.6 67.7,118.8 71.8,117.6 75.8,116.4 79.9,115.4 84.0,114.8 88.0,114.3 92.1,114.2 96.2,113.3 100.2,112.9 104.3,114.1 108.3,114.9 112.4,116.0 116.5,117.8 120.5,119.6 124.6,121.0 128.6,122.3 132.7,124.0 136.8,125.4 140.8,126.2 144.9,126.4 148.9,126.2 153.0,126.0 157.1,126.1 161.1,126.6 165.2,126.6 169.3,126.4 173.3,126.5 177.4,126.7 181.4,126.9 185.5,126.9 189.6,127.0 193.6,127.0 197.7,127.0 201.7,126.8 205.8,126.7 209.9,126.9 213.9,127.0 218.0,127.0 222.0,127.0 226.1,126.8 230.2,126.7 234.2,126.8 238.3,126.8 242.4,127.0 246.4,127.0 250.5,126.9 254.5,126.7 258.6,127.0 262.7,127.0 266.7,126.6 270.8,126.6 274.8,126.7 278.9,126.8 283.0,127.0 287.0,127.0 291.1,127.0 295.1,126.8 299.2,126.7 303.3,126.4 307.3,126.5 311.4,126.8 315.5,126.7 319.5,126.7 323.6,126.8 327.6,126.8 331.7,126.6" stroke="rgb(67,67,67)"/>
<polyline points="59.6,120.4 63.7,119.4 67.7,118.8 71.8,118.2 75.8,117.2 79.9,117.5 84.0,117.9 88.0,117.6 92.1,117.5 96.2,118.1 100.2,118.1 104.3,118.4 108.3,119.3 112.4,119.5 116.5,120.6 120.5,121.9 124.6,123.7 128.6,125.3 132.7,125.9 136.8,125.6 140.8,125.4 144.9,125.6 148.9,126.0 153.0,126.2 157.1,126.3 161.1,126.5 165.2,126.6 169.3,126.8 173.3,126.7 177.4,126.7 181.4,126.9 185.5,126.7 189.6,126.7 193.6,126.8 197.7,126.8 201.7,126.8 205.8,127.0 209.9,126.8 213.9,126.4 218.0,126.7 222.0,126.9 226.1,126.7 230.2,126.5 234.2,126.5 238.3,126.5 242.4,126.7 246.4,126.8 250.5,126.6 254.5,126.8 258.6,126.8 262.7,126.6 266.7,126.8 270.8,126.8 274.8,126.6 278.9,126.8 283.0,126.9 287.0,126.9 291.1,126.9 295.1,126.9 299.2,127.0 303.3,126.8 307.3,126.9 311.4,127.0 315.5,127.0 319.5,126.6 323.6,126.7 327.6,127.0 331.7,126.9" stroke="rgb(69,69,69)"/>
<polyline points="59.6,119.9 63.7,118.5 67.7,117.2 71.8,116.6 75.8,115.7 79.9,114.7 84.0,114.3 88.0,113.5 92.1,113.4 96.2,112.9 100.2,113.1 104.3,113.2 108.3,113.9 112.4,114.7 116.5,116.4 120.5,117.2 124.6,119.4 128.6,121.4 132.7,123.0 136.8,124.4 140.8,126.0 144.9,126.2 148.9,125.7 153.0,125.6 157.1,126.0 161.1,126.2 165.2,126.2 169.3,126.3 173.3,126.5 177.4,126.6 181.4,126.6 185.5,126.6 189.6,126.6 193.6,126.6 197.7,126.6 201.7,126.8 205.8,126.9 209.9,126.6 213.9,126.4 218.0,126.7 222.0,126.6 226.1,126.1 230.2,125.9 234.2,126.3 238.3,126.6 242.4,126.7 246.4,126.6 250.5,126.3 254.5,126.5 258.6,126.9 262.7,126.9 266.7,126.7 270.8,126.8 274.8,126.7 278.9,126.5 283.0,126.7 287.0,126.7 291.1,126.7 295.1,126.6 299.2,126.5 303.3,126.6 307.3,126.3 311.4,126.4 315.5,126.6 319.5,126.9 323.6,126.9 327.6,126.4 331.7,126.5" stroke="rgb(50,50,50)"/>
<polyline points="59.6,123.3 63.7,122.4 67.7,121.2 71.8,120.2 75.8,119.1 79.9,118.6 84.0,118.1 88.0,118.3 92.1,118.0 96.2,117.6 100.2,118.1 104.3,118.7 108.3,119.8 112.4,120.6 116.5,121.3 120.5,122.2 124.6,123.6 128.6,124.6 132.7,125.7 136.8,126.6 140.8,126.6 144.9,126.2 148.9,126.3 153.0,126.6 157.1,126.6 161.1,126.7 165.2,126.7 169.3,126.6 173.3,126.6 177.4,126.9 181.4,126.8 185.5,126.8 189.6,126.8 193.6,126.8 197.7,127.0 201.7,127.0 205.8,126.8 209.9,126.5 213.9,126.4 218.0,127.0 222.0,127.0 226.1,126.6 230.2,126.6 234.2,126.9 238.3,126.9 242.4,126.8 246.4,126.9 250.5,127.0 254.5,127.0 258.6,126.9 262.7,126.3 266.7,126.3 270.8,126.5 274.8,126.5 278.9,126.7 283.0,127.0 287.0,127.0 291.1,126.8 295.1,126.8 299.2,126.9 303.3,126.8 307.3,126.8 311.4,126.8 315.5,126.9 319.5,126.9 323.6,126.8 327.6,126.7 331.7,126.7" stroke="rgb(34,34,34)"/>
<polyline points="59.6,116.6 63.7,116.0 67.7,115.1 71.8,114.5 75.8,114.5 79.9,113.7 84.0,113.4 88.0,114.0 92.1,115.0 96.2,116.1 100.2,117.6 104.3,119.2 108.3,121.3 112.4,122.5 116.5,124.2 120.5,125.9 124.6,126.0 128.6,126.1 132.7,126.3 136.8,126.4 140.8,126.5 144.9,126.5 148.9,126.5 153.0,126.9 157.1,126.9 161.1,126.4 165.2,126.6 169.3,126.8 173.3,126.9 177.4,127.0 181.4,127.0 185.5,127.0 189.6,127.0 193.6,126.9 197.7,126.7 201.7,126.7 205.8,126.8 209.9,127.0 213.9,127.0 218.0,127.0 222.0,126.6 226.1,126.4 230.2,126.9 234.2,126.9 238.3,126.9 242.4,127.0 246.4,127.0 250.5,126.9 254.5,126.7 258.6,126.7 262.7,126.6 266.7,126.8 270.8,127.0 274.8,127.0 278.9,127.0 283.0,126.8 287.0,126.8 291.1,126.9 295.1,126.8 299.2,127.0 303.3,127.0 307.3,127.0 311.4,127.0 315.5,126.9 319.5,126.7 323.6,126.8 327.6,127.0 331.7,127.0" stroke="rgb(35,35,35)"/>
<polyline points="59.6,126.8 63.7,126.4 67.7,125.5 71.8,124.7 75.8,123.6 79.9,122.5 84.0,121.5 88.0,120.6 92.1,119.1 96.2,118.2 100.2,117.6 104.3,115.7 108.3,115.2 112.4,114.9 116.5,114.4 120.5,114.2 124.6,115.1 128.6,115.6 132.7,117.5 136.8,120.3 140.8,122.7 144.9,124.7 148.9,126.0 153.0,126.1 157.1,126.0 161.1,126.3 165.2,126.4 169.3,126.2 173.3,126.2 177.4,126.4 181.4,126.9 185.5,127.0 189.6,126.6 193.6,126.3 197.7,126.5 201.7,126.9 205.8,127.0 209.9,126.6 213.9,126.6 218.0,126.6 222.0,126.4 226.1,126.4 230.2,126.8 234.2,127.0 238.3,127.0 242.4,127.0 246.4,127.0 250.5,126.5 254.5,126.6 258.6,126.7 262.7,126.5 266.7,126.7 270.8,126.8 274.8,126.9 278.9,126.9 283.0,126.6 287.0,126.7 291.1,126.8 295.1,126.8 299.2,126.6 303.3,126.4 307.3,126.6 311.4,127.0 315.5,126.8 319.5,126.7 323.6,126.7 327.6,126.6 331.7,126.6" stroke="rgb(78,78,78)"/>
<polyline points="59.6,123.1 63.7,122.2 67.7,121.5 71.8,120.5 75.8,119.7 79.9,118.3 84.0,117.3 88.0,116.4 92.1,116.4 96.2,116.5 100.2,115.8 104.3,115.3 108.3,115.6 112.4,115.8 116.5,116.5 120.5,117.9 124.6,119.0 128.6,119.5 132.7,120.8 136.8,122.6 140.8,123.8 144.9,125.2 148.9,126.3 153.0,125.8 157.1,125.8 161.1,126.1 165.2,126.3 169.3,126.5 173.3,126.5 177.4,126.3 181.4,126.7 185.5,126.5 189.6,126.3 193.6,126.8 197.7,127.0 201.7,126.6 205.8,126.3 209.9,126.6 213.9,126.5 218.0,126.5 222.0,126.4 226.1,126.6 230.2,126.7 234.2,126.4 238.3,126.6 242.4,126.7 246.4,126.3 250.5,126.6 254.5,126.6 258.6,126.3 262.7,126.5 266.7,126.5 270.8,126.5 274.8,126.4 278.9,126.3 283.0,126.6 287.0,126.8 291.1,126.8 295.1,126.7 299.2,126.4 303.3,126.5 307.3,126.6 311.4,126.4 315.5,126.3 319.5,126.4 323.6,126.4 327.6,126.6 331.7,126.9" stroke="rgb(59,59,59)"/>
<polyline points="59.6,124.5 63.7,123.6 67.7,122.5 71.8,121.1 75.8,120.0 79.9,118.7 84.0,117.0 88.0,116.4 92.1,116.3 96.2,116.0 100.2,115.9 104.3,116.6 108.3,115.9 112.4,115.4 116.5,115.4 120.5,116.6 124.6,116.3 128.6,117.2 132.7,118.5 136.8,120.3 140.8,121.9 144.9,123.8 148.9,125.4 153.0,126.4 157.1,125.9 161.1,125.5 165.2,125.5 169.3,126.0 173.3,126.5 177.4,126.7 181.4,126.7 185.5,126.6 189.6,126.5 193.6,126.5 197.7,126.9 201.7,127.0 205.8,126.4 209.9,126.5 213.9,126.7 218.0,126.7 222.0,126.7 226.1,126.6 230.2,126.7 234.2,126.6 238.3,126.7 242.4,126.8 246.4,126.7 250.5,126.6 254.5,126.7 258.6,127.0 262.7,127.0 266.7,126.9 270.8,127.0 274.8,126.8 278.9,126.9 283.0,127.0 287.0,126.7 291.1,126.6 295.1,126.6 299.2,126.6 303.3,126.9 307.3,126.7 311.4,126.6 315.5,126.7 319.5,126.7 323.6,126.8 327.6,126.6 331.7,126.6" stroke="rgb(62,62,62)"/>
<polyline points="59.6,120.3 63.7,119.3 67.7,118.7 71.8,117.8 75.8,117.0 79.9,116.4 84.0,116.1 88.0,116.1 92.1,116.8 96.2,116.3 100.2,116.1 104.3,116.5 108.3,117.1 112.4,117.9 116.5,119.2 120.5,121.1 124.6,122.6 128.6,124.0 132.7,125.4 136.8,126.4 140.8,126.6 144.9,126.9 148.9,126.9 153.0,126.4 157.1,126.3 161.1,126.6 165.2,126.7 169.3,126.8 173.3,127.0 177.4,126.8 181.4,127.0 185.5,127.0 189.6,127.0 193.6,126.9 197.7,126.7 201.7,126.5 205.8,126.5 209.9,126.9 213.9,126.6 218.0,126.5 222.0,126.7 226.1,127.0 230.2,127.0 234.2,126.9 238.3,127.0 242.4,127.0 246.4,126.9 250.5,126.7 254.5,127.0 258.6,127.0 262.7,127.0 266.7,127.0 270.8,127.0 274.8,127.0 278.9,127.0 283.0,127.0 287.0,126.8 291.1,126.7 295.1,126.8 299.2,126.9 303.3,126.9 307.3,127.0 311.4,127.0 315.5,127.0 319.5,126.8 323.6,127.0 327.6,126.8 331.7,126.4" stroke="rgb(67,67,67)"/>
<polyline points="59.6,124.6 63.7,123.6 67.7,122.3 71.8,121.2 75.8,119.9 79.9,119.1 84.0,118.1 88.0,117.6 92.1,117.6 96.2,118.2 100.2,117.3 104.3,116.6 108.3,116.5 112.4,115.8 116.5,115.3 120.5,115.4 124.6,116.1 128.6,117.0 132.7,118.8 136.8,119.9 140.8,121.8 144.9,123.3 148.9,124.9 153.0,126.0 157.1,126.0 161.1,126.0 165.2,126.2 169.3,126.5 173.3,126.8 177.4,126.9 181.4,126.7 185.5,127.0 189.6,127.0 193.6,127.0 197.7,127.0 201.7,126.6 205.8,126.6 209.9,126.8 213.9,126.8 218.0,126.7 222.0,126.6 226.1,126.7 230.2,126.8 234.2,126.7 238.3,127.0 242.4,127.0 246.4,126.6 250.5,126.4 254.5,126.8 258.6,127.0 262.7,126.8 266.7,127.0 270.8,127.0 274.8,126.8 278.9,126.4 283.0,126.4 287.0,126.9 291.1,126.9 295.1,126.6 299.2,126.9 303.3,127.0 307.3,126.4 311.4,126.4 315.5,126.7 319.5,126.9 323.6,127.0 327.6,126.6 331.7,126.5" stroke="rgb(79,79,79)"/>
<polyline points="59.6,124.4 63.7,123.5 67.7,122.6 71.8,121.5 75.8,120.2 79.9,118.9 84.0,118.2 88.0,118.4 92.1,117.6 96.2,116.8 100.2,116.1 104.3,115.7 108.3,115.3 112.4,115.4 116.5,115.4 120.5,116.3 124.6,117.6 128.6,118.6 132.7,119.9 136.8,121.9 140.8,123.6 144.9,125.0 148.9,125.8 153.0,125.9 157.1,126.2 161.1,126.3 165.2,126.2 169.3,126.6 173.3,126.6 177.4,126.4 181.4,126.6 185.5,127.0 189.6,126.9 193.6,126.9 197.7,127.0 201.7,126.6 205.8,126.7 209.9,126.6 213.9,126.5 218.0,126.5 222.0,126.4 226.1,126.4 230.2,126.6 234.2,126.7 238.3,126.8 242.4,126.9 246.4,126.9 250.5,126.9 254.5,127.0 258.6,126.7 262.7,126.4 266.7,126.6 270.8,126.6 274.8,126.9 278.9,126.9 283.0,126.8 287.0,126.8 291.1,126.6 295.1,126.7 299.2,126.9 303.3,126.9 307.3,126.7 311.4,126.7 315.5,126.7 319.5,126.6 323.6,126.5 327.6,126.7 331.7,126.8" stroke="rgb(72,72,72)"/>
<polyline points="59.6,118.4 63.7,117.6 67.7,117.3 71.8,116.7 75.8,117.1 79.9,117.0 84.0,116.3 88.0,116.6 92.1,117.5 96.2,117.9 100.2,119.3 104.3,120.6 108.3,122.0 112.4,123.1 116.5,124.7 120.5,125.9 124.6,126.3 128.6,126.0 132.7,126.0 136.8,126.1 140.8,126.4 144.9,126.5 148.9,126.5 153.0,126.8 157.1,127.0 161.1,126.9 165.2,126.8 169.3,127.0 173.3,126.9 177.4,126.8 181.4,126.8 185.5,126.8 189.6,126.7 193.6,126.5 197.7,126.9 201.7,127.0 205.8,127.0 209.9,127.0 213.9,126.8 218.0,126.8 222.0,126.8 226.1,126.6 230.2,126.6 234.2,126.5 238.3,126.7 242.4,126.9 246.4,126.8 250.5,126.6 254.5,126.9 258.6,127.0 262.7,127.0 266.7,127.0 270.8,126.8 274.8,126.8 278.9,126.8 283.0,126.7 287.0,126.9 291.1,127.0 295.1,127.0 299.2,126.9 303.3,126.6 307.3,126.6 311.4,126.9 315.5,127.0 319.5,127.0 323.6,126.9 327.6,126.7 331.7,126.7" stroke="rgb(37,37,37)"/>
<polyline points="59.6,124.1 63.7,123.4 67.7,122.3 71.8,121.4 75.8,120.0 79.9,119.1 84.0,118.3 88.0,117.7 92.1,116.0 96.2,115.2 100.2,114.8 104.3,114.6 108.3,114.1 112.4,114.2 116.5,114.1 120.5,114.2 124.6,114.9 128.6,115.7 132.7,116.9 136.8,118.1 140.8,119.5 144.9,121.0 148.9,122.4 153.0,124.1 157.1,125.8 161.1,126.5 165.2,126.2 169.3,126.2 173.3,126.4 177.4,126.4 181.4,126.4 185.5,126.8 189.6,126.8 193.6,126.5 197.7,126.7 201.7,126.7 205.8,126.3 209.9,126.3 213.9,126.8 218.0,126.9 222.0,127.0 226.1,126.7 230.2,126.2 234.2,126.3 238.3,126.6 242.4,126.5 246.4,126.6 250.5,126.9 254.5,126.7 258.6,126.7 262.7,126.7 266.7,126.9 270.8,127.0 274.8,127.0 278.9,126.9 283.0,126.7 287.0,126.5 291.1,126.9 295.1,126.9 299.2,126.8 303.3,127.0 307.3,126.9 311.4,126.4 315.5,126.7 319.5,126.9 323.6,126.6 327.6,126.5 331.7,126.3" stroke="rgb(63,63,63)"/>
<polyline points="59.6,126.5 63.7,125.9 67.7,125.5 71.8,124.8 75.8,123.8 79.9,122.9 84.0,121.7 88.0,120.4 92.1,120.1 96.2,119.2 100.2,118.6 104.3,117.9 108.3,117.5 112.4,116.9 116.5,116.5 120.5,116.1 124.6,116.2 128.6,115.8 132.7,116.4 136.8,117.7 140.8,119.0 144.9,120.4 148.9,122.0 153.0,123.3 157.1,124.1 161.1,125.5 165.2,126.8 169.3,126.9 173.3,126.4 177.4,126.3 181.4,126.7 185.5,126.6 189.6,126.5 193.6,126.6 197.7,126.3 201.7,126.0 205.8,126.4 209.9,126.8 213.9,126.7 218.0,126.8 222.0,126.9 226.1,126.8 230.2,126.9 234.2,127.0 238.3,126.7 242.4,126.7 246.4,127.0 250.5,126.9 254.5,126.9 258.6,126.9 262.7,126.8 266.7,126.9 270.8,126.7 274.8,126.4 278.9,126.5 283.0,126.8 287.0,126.8 291.1,126.7 295.1,126.8 299.2,126.9 303.3,126.9 307.3,126.9 311.4,126.8 315.5,126.8 319.5,126.6 323.6,126.6 327.6,126.7 331.7,126.4" stroke="rgb(43,43,43)"/>
<polyline points="59.6,126.9 63.7,126.1 67.7,125.3 71.8,124.2 75.8,123.1 79.9,122.1 84.0,121.3 88.0,120.3 92.1,119.3 96.2,118.3 100.2,117.6 104.3,116.8 108.3,116.4 112.4,116.2 116.5,115.9 120.5,115.4 124.6,115.2 128.6,116.0 132.7,116.7 136.8,117.7 140.8,118.8 144.9,120.2 148.9,121.6 153.0,123.5 157.1,124.9 161.1,126.3 165.2,126.9 169.3,126.6 173.3,126.4 177.4,126.5 181.4,126.7 185.5,126.8 189.6,126.8 193.6,127.0 197.7,127.0 201.7,127.0 205.8,127.0 209.9,126.9 213.9,126.6 218.0,126.8 222.0,126.9 226.1,126.8 230.2,126.9 234.2,126.7 238.3,126.7 242.4,126.7 246.4,126.8 250.5,126.7 254.5,126.6 258.6,127.0 262.7,127.0 266.7,126.9 270.8,126.8 274.8,126.9 278.9,126.7 283.0,126.6 287.0,126.7 291.1,126.8 295.1,126.9 299.2,126.9 303.3,126.8 307.3,126.8 311.4,127.0 315.5,126.9 319.5,126.8 323.6,126.9 327.6,126.9 331.7,126.7" stroke="rgb(58,58,58)"/>
<polyline points="59.6,119.9 63.7,119.0 67.7,118.0 71.8,116.8 75.8,116.4 79.9,115.4 84.0,114.7 88.0,114.7 92.1,114.6 96.2,114.0 100.2,114.0 104.3,113.6 108.3,113.1 112.4,113.0 116.5,113.9 120.5,115.5 124.6,117.3 128.6,118.3 132.7,120.3 136.8,122.5 140.8,124.5 144.9,126.0 148.9,125.8 153.0,125.8 157.1,125.9 161.1,126.5 165.2,126.9 169.3,126.7 173.3,126.7 177.4,126.9 181.4,126.9 185.5,126.7 189.6,126.5 193.6,126.6 197.7,126.7 201.7,126.8 205.8,126.9 209.9,127.0 213.9,127.0 218.0,126.9 222.0,126.9 226.1,127.0 230.2,126.8 234.2,126.9 238.3,126.8 242.4,126.7 246.4,126.7 250.5,126.8 254.5,126.8 258.6,126.9 262.7,126.9 266.7,127.0 270.8,127.0 274.8,127.0 278.9,127.0 283.0,126.6 287.0,126.4 291.1,126.7 295.1,127.0 299.2,127.0 303.3,127.0 307.3,126.6 311.4,126.5 315.5,127.0 319.5,126.9 323.6,126.7 327.6,126.5 331.7,126.3" stroke="rgb(67,67,67)"/>
<polyline points="59.6,125.3 63.7,124.1 67.7,122.6 71.8,121.5 75.8,120.5 79.9,119.4 84.0,118.7 88.0,117.2 92.1,116.2 96.2,115.6 100.2,114.9 104.3,114.7 108.3,114.4 112.4,113.7 116.5,112.7 120.5,112.1 124.6,112.0 128.6,112.9 132.7,113.5 136.8,114.8 140.8,116.2 144.9,118.4 148.9,120.0 153.0,122.0 157.1,123.8 161.1,125.2 165.2,126.2 169.3,126.2 173.3,126.3 177.4,126.4 181.4,126.2 185.5,126.2 189.6,126.4 193.6,126.6 197.7,126.7 201.7,126.7 205.8,126.7 209.9,126.6 213.9,126.5 218.0,126.5 222.0,126.9 226.1,126.9 230.2,126.6 234.2,126.5 238.3,126.4 242.4,126.4 246.4,126.3 250.5,126.5 254.5,126.9 258.6,126.9 262.7,126.9 266.7,126.9 270.8,126.9 274.8,126.6 278.9,126.5 283.0,126.5 287.0,126.4 291.1,126.5 295.1,126.3 299.2,126.5 303.3,126.7 307.3,126.5 311.4,126.4 315.5,126.7 319.5,126.3 323.6,126.5 327.6,126.9 331.7,126.6" stroke="rgb(61,61,61)"/>
<polyline points="59.6,124.0 63.7,123.4 67.7,122.1 71.8,120.3 75.8,119.0 79.9,118.5 84.0,116.7 88.0,115.6 92.1,115.6 96.2,115.3 100.2,114.5 104.3,115.3 108.3,115.0 112.4,115.2 116.5,116.5 120.5,118.6 124.6,119.7 128.6,121.0 132.7,122.7 136.8,124.2 140.8,125.3 144.9,126.3 148.9,126.6 153.0,126.8 157.1,126.8 161.1,126.7 165.2,126.8 169.3,126.7 173.3,126.9 177.4,127.0 181.4,126.7 185.5,126.7 189.6,126.9 193.6,127.0 197.7,127.0 201.7,126.8 205.8,126.7 209.9,126.9 213.9,126.9 218.0,127.0 222.0,127.0 226.1,126.9 230.2,127.0 234.2,126.8 238.3,126.6 242.4,127.0 246.4,127.0 250.5,127.0 254.5,127.0 258.6,127.0 262.7,127.0 266.7,126.9 270.8,127.0 274.8,126.9 278.9,126.6 283.0,126.9 287.0,126.9 291.1,126.9 295.1,127.0 299.2,127.0 303.3,126.9 307.3,127.0 311.4,127.0 315.5,126.9 319.5,126.9 323.6,127.0 327.6,127.0 331.7,127.0" stroke="rgb(49,49,49)"/>
<polyline points="59.6,124.1 63.7,123.2 67.7,121.5 71.8,120.2 75.8,118.8 79.9,118.3 84.0,116.6 88.0,115.6 92.1,115.1 96.2,114.2 100.2,113.0 104.3,112.5 108.3,112.0 112.4,111.7 116.5,112.5 120.5,112.9 124.6,113.8 128.6,115.2 132.7,116.6 136.8,117.9 140.8,119.1 144.9,120.5 148.9,122.6 153.0,124.6 157.1,126.2 161.1,126.1 165.2,126.0 169.3,126.2 173.3,126.2 177.4,126.3 181.4,126.8 185.5,126.9 189.6,126.8 193.6,126.7 197.7,126.7 201.7,127.0 205.8,127.0 209.9,126.9 213.9,126.9 218.0,127.0 222.0,126.7 226.1,126.7 230.2,126.6 234.2,126.4 238.3,126.5 242.4,126.6 246.4,126.8 250.5,126.6 254.5,126.6 258.6,126.7 262.7,126.6 266.7,126.7 270.8,127.0 274.8,127.0 278.9,126.6 283.0,126.7 287.0,126.6 291.1,126.5 295.1,126.8 299.2,126.7 303.3,126.7 307.3,126.8 311.4,126.3 315.5,126.3 319.5,126.6 323.6,126.6 327.6,126.4 331.7,126.5" stroke="rgb(51,51,51)"/>
<polyline points="59.6,126.8 63.7,126.6 67.7,125.9 71.8,124.8 75.8,123.5 79.9,122.4 84.0,121.1 88.0,119.7 92.1,118.9 96.2,117.9 100.2,116.8 104.3,116.6 108.3,116.0 112.4,115.1 116.5,114.0 120.5,113.4 124.6,112.3 128.6,112.5 132.7,113.0 136.8,113.6 140.8,114.9 144.9,116.5 148.9,118.1 153.0,119.5 157.1,121.2 161.1,123.2 165.2,124.8 169.3,126.0 173.3,125.9 177.4,126.1 181.4,126.4 185.5,126.3 189.6,126.4 193.6,126.9 197.7,127.0 201.7,126.4 205.8,126.3 209.9,126.3 213.9,126.4 218.0,126.6 222.0,126.8 226.1,127.0 230.2,127.0 234.2,127.0 238.3,127.0 242.4,126.7 246.4,126.8 250.5,126.7 254.5,126.6 258.6,126.5 262.7,126.7 266.7,126.9 270.8,127.0 274.8,126.9 278.9,126.8 283.0,127.0 287.0,127.0 291.1,126.7 295.1,126.6 299.2,126.8 303.3,127.0 307.3,126.9 311.4,126.7 315.5,126.8 319.5,126.7 323.6,126.8 327.6,126.7 331.7,126.5" stroke="rgb(47,47,47)"/>
<polyline points="59.6,127.0 63.7,126.5 67.7,125.5 71.8,124.6 75.8,123.8 79.9,123.0 84.0,121.5 88.0,120.3 92.1,119.2 96.2,117.7 100.2,116.4 104.3,116.3 108.3,115.7 112.4,115.1 116.5,115.3 120.5,115.5 124.6,115.4 128.6,115.6 132.7,116.3 136.8,117.2 140.8,118.3 144.9,119.6 148.9,120.7 153.0,121.8 157.1,123.4 161.1,125.3 165.2,126.4 169.3,126.2 173.3,126.3 177.4,126.3 181.4,126.3 185.5,126.6 189.6,126.9 193.6,126.7 197.7,126.8 201.7,127.0 205.8,127.0 209.9,127.0 213.9,127.0 218.0,126.8 222.0,126.5 226.1,126.7 230.2,127.0 234.2,126.9 238.3,126.9 242.4,126.8 246.4,126.7 250.5,126.8 254.5,127.0 258.6,127.0 262.7,126.6 266.7,126.9 270.8,126.9 274.8,126.9 278.9,126.8 283.0,127.0 287.0,127.0 291.1,126.8 295.1,126.8 299.2,126.7 303.3,126.9 307.3,127.0 311.4,126.8 315.5,126.6 319.5,126.7 323.6,126.9 327.6,126.9 331.7,126.6" stroke="rgb(62,62,62)"/>
<polyline points="59.6,126.5 63.7,126.0 67.7,125.1 71.8,124.1 75.8,122.9 79.9,121.6 84.0,120.5 88.0,119.3 92.1,118.1 96.2,117.2 100.2,116.9 104.3,115.6 108.3,114.5 112.4,113.9 116.5,112.9 120.5,112.0 124.6,112.4 128.6,112.2 132.7,113.0 136.8,114.7 140.8,116.4 144.9,118.7 148.9,121.1 153.0,123.4 157.1,125.2 161.1,126.5 165.2,126.6 169.3,126.2 173.3,126.4 177.4,127.0 181.4,126.9 185.5,126.5 189.6,126.6 193.6,126.7 197.7,126.8 201.7,127.0 205.8,126.9 209.9,127.0 213.9,127.0 218.0,127.0 222.0,127.0 226.1,126.9 230.2,126.9 234.2,126.9 238.3,127.0 242.4,127.0 246.4,126.7 250.5,126.8 254.5,127.0 258.6,126.9 262.7,126.6 266.7,126.7 270.8,126.9 274.8,126.9 278.9,126.7 283.0,126.8 287.0,127.0 291.1,127.0 295.1,126.7 299.2,126.7 303.3,126.9 307.3,127.0 311.4,127.0 315.5,127.0 319.5,126.6 323.6,126.7 327.6,127.0 331.7,127.0" stroke="rgb(29,29,29)"/>
<polyline points="59.6,122.9 63.7,122.2 67.7,121.0 71.8,120.1 75.8,119.4 79.9,118.7 84.0,118.2 88.0,117.3 92.1,116.2 96.2,116.6 100.2,115.9 104.3,115.0 108.3,114.9 112.4,116.3 116.5,116.9 120.5,118.9 124.6,120.5 128.6,122.1 132.7,123.2 136.8,124.9 140.8,126.1 144.9,126.7 148.9,126.7 153.0,126.4 157.1,126.5 161.1,127.0 165.2,126.8 169.3,126.7 173.3,126.7 177.4,126.3 181.4,126.4 185.5,126.6 189.6,126.6 193.6,126.7 197.7,126.7 201.7,126.7 205.8,126.8 209.9,126.6 213.9,126.8 218.0,127.0 222.0,127.0 226.1,126.8 230.2,126.8 234.2,126.7 238.3,126.8 242.4,127.0 246.4,127.0 250.5,127.0 254.5,127.0 258.6,127.0 262.7,126.9 266.7,127.0 270.8,127.0 274.8,126.9 278.9,127.0 283.0,127.0 287.0,126.8 291.1,126.8 295.1,126.7 299.2,126.9 303.3,127.0 307.3,126.5 311.4,126.3 315.5,126.7 319.5,126.8 323.6,126.7 327.6,126.6 331.7,126.8" stroke="rgb(60,60,60)"/>
<polyline points="59.6,126.4 63.7,125.6 67.7,124.3 71.8,123.2 75.8,121.9 79.9,120.3 84.0,119.1 88.0,118.0 92.1,116.6 96.2,115.6 100.2,114.1 104.3,113.5 108.3,113.0 112.4,113.3 116.5,112.5 120.5,112.5 124.6,113.4 128.6,113.3 132.7,114.1 136.8,114.8 140.8,116.6 144.9,118.2 148.9,120.4 153.0,121.9 157.1,123.9 161.1,125.5 165.2,126.3 169.3,126.7 173.3,127.0 177.4,126.7 181.4,126.8 185.5,126.9 189.6,126.5 193.6,126.4 197.7,126.7 201.7,126.8 205.8,126.7 209.9,126.5 213.9,126.6 218.0,127.0 222.0,126.9 226.1,126.7 230.2,127.0 234.2,127.0 238.3,127.0 242.4,127.0 246.4,127.0 250.5,126.9 254.5,127.0 258.6,127.0 262.7,127.0 266.7,127.0 270.8,126.9 274.8,126.7 278.9,127.0 283.0,127.0 287.0,126.8 291.1,126.7 295.1,126.7 299.2,126.7 303.3,126.4 307.3,126.8 311.4,127.0 315.5,126.8 319.5,126.9 323.6,126.8 327.6,126.7 331.7,126.7" stroke="rgb(31,31,31)"/>
<polyline points="59.6,124.2 63.7,122.9 67.7,121.7 71.8,121.0 75.8,119.9 79.9,118.0 84.0,116.8 88.0,115.7 92.1,114.6 96.2,113.0 100.2,111.8 104.3,111.3 108.3,112.6 112.4,113.2 116.5,114.2 120.5,115.0 124.6,116.1 128.6,115.9 132.7,117.2 136.8,118.6 140.8,120.3 144.9,121.7 148.9,123.5 153.0,125.4 157.1,126.4 161.1,126.3 165.2,126.5 169.3,126.7 173.3,126.5 177.4,126.3 181.4,126.6 185.5,126.7 189.6,126.7 193.6,126.7 197.7,126.5 201.7,126.5 205.8,127.0 209.9,127.0 213.9,126.5 218.0,126.7 222.0,127.0 226.1,127.0 230.2,126.8 234.2,126.7 238.3,126.6 242.4,126.4 246.4,126.7 250.5,126.9 254.5,126.9 258.6,127.0 262.7,126.7 266.7,126.7 270.8,126.9 274.8,126.5 278.9,126.4 283.0,126.7 287.0,126.7 291.1,126.5 295.1,126.3 299.2,126.6 303.3,126.9 307.3,126.6 311.4,126.6 315.5,126.7 319.5,126.6 323.6,126.6 327.6,126.7 331.7,126.4" stroke="rgb(34,34,34)"/>
<polyline points="59.6,124.6 63.7,123.3 67.7,122.2 71.8,121.5 75.8,120.1 79.9,119.3 84.0,117.9 88.0,117.0 92.1,115.7 96.2,115.3 100.2,115.0 104.3,114.8 108.3,115.1 112.4,116.8 116.5,118.0 120.5,119.4 124.6,121.7 128.6,123.7 132.7,125.3 136.8,126.0 140.8,125.8 144.9,125.6 148.9,125.8 153.0,126.2 157.1,126.4 161.1,126.3 165.2,126.3 169.3,126.5 173.3,126.7 177.4,126.8 181.4,126.7 185.5,126.3 189.6,126.3 193.6,126.5 197.7,126.5 201.7,126.4 205.8,126.7 209.9,126.7 213.9,126.6 218.0,126.5 222.0,126.4 226.1,126.4 230.2,126.3 234.2,126.6 238.3,126.6 242.4,126.1 246.4,126.2 250.5,126.3 254.5,126.2 258.6,126.4 262.7,126.6 266.7,126.5 270.8,126.3 274.8,126.5 278.9,126.7 283.0,126.7 287.0,126.4 291.1,126.4 295.1,126.7 299.2,126.6 303.3,126.7 307.3,126.8 311.4,126.6 315.5,126.4 319.5,126.6 323.6,126.7 327.6,126.5 331.7,126.7" stroke="rgb(63,63,63)"/>
<polyline points="59.6,121.2 63.7,120.7 67.7,120.4 71.8,119.4 75.8,118.6 79.9,117.8 84.0,117.3 88.0,116.3 92.1,116.4 96.2,115.8 100.2,115.7 104.3,116.2 108.3,117.6 112.4,118.4 116.5,119.5 120.5,121.2 124.6,122.4 128.6,123.7 132.7,125.2 136.8,126.3 140.8,126.7 144.9,127.0 148.9,126.9 153.0,126.9 157.1,126.9 161.1,126.7 165.2,126.9 169.3,127.0 173.3,126.9 177.4,126.8 181.4,126.9 185.5,126.9 189.6,126.8 193.6,127.0 197.7,127.0 201.7,126.8 205.8,126.7 209.9,126.7 213.9,126.7 218.0,126.8 222.0,127.0 226.1,127.0 230.2,126.9 234.2,127.0 238.3,127.0 242.4,126.7 246.4,126.7 250.5,127.0 254.5,127.0 258.6,127.0 262.7,126.6 266.7,126.8 270.8,126.9 274.8,127.0 278.9,127.0 283.0,126.9 287.0,126.7 291.1,126.9 295.1,127.0 299.2,127.0 303.3,126.8 307.3,126.9 311.4,126.9 315.5,126.7 319.5,126.8 323.6,126.7 327.6,126.6 331.7,126.7" stroke="rgb(47,47,47)"/>
<polyline points="59.6,125.6 63.7,124.9 67.7,124.0 71.8,123.2 75.8,122.5 79.9,121.4 84.0,120.6 88.0,120.4 92.1,120.3 96.2,119.4 100.2,118.6 104.3,118.0 108.3,116.9 112.4,117.3 116.5,117.7 120.5,117.7 124.6,117.2 128.6,117.7 132.7,118.1 136.8,118.6 140.8,119.5 144.9,120.1 148.9,121.5 153.0,122.6 157.1,124.1 161.1,125.5 165.2,126.2 169.3,125.9 173.3,126.1 177.4,126.6 181.4,126.6 185.5,126.5 189.6,126.7 193.6,126.7 197.7,126.7 201.7,126.9 205.8,126.9 209.9,126.7 213.9,126.7 218.0,127.0 222.0,127.0 226.1,127.0 230.2,126.9 234.2,126.9 238.3,127.0 242.4,126.7 246.4,126.5 250.5,126.6 254.5,126.7 258.6,126.8 262.7,126.6 266.7,126.6 270.8,126.9 274.8,126.7 278.9,126.7 283.0,126.8 287.0,126.6 291.1,126.8 295.1,126.6 299.2,126.4 303.3,126.6 307.3,126.6 311.4,126.7 315.5,127.0 319.5,127.0 323.6,126.6 327.6,126.6 331.7,126.6" stroke="rgb(73,73,73)"/>
<polyline points="59.6,120.6 63.7,119.5 67.7,118.9 71.8,118.1 75.8,117.7 79.9,116.8 84.0,116.2 88.0,115.6 92.1,115.5 96.2,116.4 100.2,117.3 104.3,118.1 108.3,119.6 112.4,121.1 116.5,122.6 120.5,123.9 124.6,125.2 128.6,125.8 132.7,126.5 136.8,126.7 140.8,126.5 144.9,126.8 148.9,127.0 153.0,126.9 157.1,126.9 161.1,126.8 165.2,126.8 169.3,126.7 173.3,126.7 177.4,126.7 181.4,126.5 185.5,127.0 189.6,127.0 193.6,127.0 197.7,127.0 201.7,126.8 205.8,126.9 209.9,126.8 213.9,126.9 218.0,127.0 222.0,126.8 226.1,126.7 230.2,126.7 234.2,126.7 238.3,126.7 242.4,126.9 246.4,127.0 250.5,126.8 254.5,127.0 258.6,127.0 262.7,127.0 266.7,127.0 270.8,127.0 274.8,127.0 278.9,126.7 283.0,126.7 287.0,126.9 291.1,126.9 295.1,127.0 299.2,127.0 303.3,126.9 307.3,126.8 311.4,127.0 315.5,127.0 319.5,126.7 323.6,126.7 327.6,126.6 331.7,126.6" stroke="rgb(40,40,40)"/>
<polyline points="59.6,120.0 63.7,118.5 67.7,117.1 71.8,115.7 75.8,114.3 79.9,113.2 84.0,112.6 88.0,111.1 92.1,110.9 96.2,111.1 100.2,111.6 104.3,112.2 108.3,114.2 112.4,116.2 116.5,118.8 120.5,121.3 124.6,124.3 128.6,126.4 132.7,126.2 136.8,126.2 140.8,126.2 144.9,126.2 148.9,126.4 153.0,126.9 157.1,126.9 161.1,126.8 165.2,127.0 169.3,127.0 173.3,126.9 177.4,126.7 181.4,126.8 185.5,126.8 189.6,126.7 193.6,126.4 197.7,126.4 201.7,126.8 205.8,126.9 209.9,126.7 213.9,126.9 218.0,127.0 222.0,126.9 226.1,126.6 230.2,126.5 234.2,127.0 238.3,127.0 242.4,126.8 246.4,126.9 250.5,127.0 254.5,127.0 258.6,127.0 262.7,126.8 266.7,127.0 270.8,127.0 274.8,126.9 278.9,126.8 283.0,126.9 287.0,126.9 291.1,126.8 295.1,126.6 299.2,126.7 303.3,126.8 307.3,126.6 311.4,126.6 315.5,126.8 319.5,126.9 323.6,126.8 327.6,127.0 331.7,127.0" stroke="rgb(47,47,47)"/>
<polyline points="59.6,121.5 63.7,120.6 67.7,120.0 71.8,119.4 75.8,118.5 79.9,117.6 84.0,116.5 88.0,115.8 92.1,114.5 96.2,113.8 100.2,113.9 104.3,114.3 108.3,113.8 112.4,115.2 116.5,117.1 120.5,118.7 124.6,120.8 128.6,123.3 132.7,125.0 136.8,125.7 140.8,126.1 144.9,126.3 148.9,126.4 153.0,126.4 157.1,126.3 161.1,126.5 165.2,126.8 169.3,126.8 173.3,126.8 177.4,126.7 181.4,126.8 185.5,126.8 189.6,126.8 193.6,126.8 197.7,126.8 201.7,127.0 205.8,127.0 209.9,127.0 213.9,127.0 218.0,127.0 222.0,126.8 226.1,127.0 230.2,127.0 234.2,127.0 238.3,126.8 242.4,127.0 246.4,127.0 250.5,127.0 254.5,126.8 258.6,126.8 262.7,127.0 266.7,127.0 270.8,127.0 274.8,127.0 278.9,127.0 283.0,127.0 287.0,127.0 291.1,126.9 295.1,127.0 299.2,127.0 303.3,126.8 307.3,126.9 311.4,126.8 315.5,126.8 319.5,127.0 323.6,127.0 327.6,127.0 331.7,126.9" stroke="rgb(73,73,73)"/>
<polyline points="59.6,120.8 63.7,119.4 67.7,118.0 71.8,117.7 75.8,116.7 79.9,116.4 84.0,116.6 88.0,116.7 92.1,116.9 96.2,118.0 100.2,119.0 104.3,120.9 108.3,123.0 112.4,124.5 116.5,125.6 120.5,126.4 124.6,126.8 128.6,126.6 132.7,126.6 136.8,126.6 140.8,126.6 144.9,126.6 148.9,126.5 153.0,126.6 157.1,126.6 161.1,126.8 165.2,126.9 169.3,126.8 173.3,126.8 177.4,126.5 181.4,126.7 185.5,126.9 189.6,126.7 193.6,126.7 197.7,126.8 201.7,126.7 205.8,126.4 209.9,126.7 213.9,127.0 218.0,126.8 222.0,126.6 226.1,126.7 230.2,126.8 234.2,127.0 238.3,127.0 242.4,127.0 246.4,126.7 250.5,126.2 254.5,126.6 258.6,127.0 262.7,126.7 266.7,126.6 270.8,126.7 274.8,126.8 278.9,127.0 283.0,127.0 287.0,127.0 291.1,127.0 295.1,127.0 299.2,127.0 303.3,127.0 307.3,127.0 311.4,126.7 315.5,126.7 319.5,126.7 323.6,126.8 327.6,126.8 331.7,126.8" stroke="rgb(36,36,36)"/>
<polyline points="59.6,121.7 63.7,120.6 67.7,119.7 71.8,119.1 75.8,118.5 79.9,117.1 84.0,116.3 88.0,115.8 92.1,114.4 96.2,114.0 100.2,114.3 104.3,114.8 108.3,114.8 112.4,115.6 116.5,116.4 120.5,118.0 124.6,118.9 128.6,120.4 132.7,122.0 136.8,123.7 140.8,125.1 144.9,126.1 148.9,126.1 153.0,126.0 157.1,126.3 161.1,126.6 165.2,126.4 169.3,126.7 173.3,126.7 177.4,126.2 181.4,126.5 185.5,126.8 189.6,126.7 193.6,126.5 197.7,126.6 201.7,126.6 205.8,126.6 209.9,126.5 213.9,126.6 218.0,126.9 222.0,127.0 226.1,127.0 230.2,127.0 234.2,126.9 238.3,126.6 242.4,126.7 246.4,126.6 250.5,126.7 254.5,126.8 258.6,126.9 262.7,126.9 266.7,126.8 270.8,126.8 274.8,126.6 278.9,126.3 283.0,126.3 287.0,126.6 291.1,126.9 295.1,127.0 299.2,127.0 303.3,126.9 307.3,126.9 311.4,126.9 315.5,126.7 319.5,127.0 323.6,126.9 327.6,126.3 331.7,126.4" stroke="rgb(59,59,59)"/>
<polyline points="59.6,126.6 63.7,126.2 67.7,125.2 71.8,124.7 75.8,124.2 79.9,122.8 84.0,122.1 88.0,121.1 92.1,119.5 96.2,118.4 100.2,118.3 104.3,117.3 108.3,116.8 112.4,116.2 116.5,116.5 120.5,115.8 124.6,116.1 128.6,117.4 132.7,118.9 136.8,120.1 140.8,122.0 144.9,124.0 148.9,125.5 153.0,126.2 157.1,126.1 161.1,126.2 165.2,126.2 169.3,126.4 173.3,126.9 177.4,126.9 181.4,126.9 185.5,126.9 189.6,126.8 193.6,126.6 197.7,126.3 201.7,126.8 205.8,127.0 209.9,126.8 213.9,126.6 218.0,126.8 222.0,127.0 226.1,127.0 230.2,126.9 234.2,127.0 238.3,126.9 242.4,127.0 246.4,127.0 250.5,126.9 254.5,126.8 258.6,126.8 262.7,127.0 266.7,127.0 270.8,127.0 274.8,126.9 278.9,126.6 283.0,126.1 287.0,126.6 291.1,126.7 295.1,126.8 299.2,126.9 303.3,127.0 307.3,127.0 311.4,126.7 315.5,126.6 319.5,126.8 323.6,127.0 327.6,127.0 331.7,127.0" stroke="rgb(34,34,34)"/>
<polyline points="59.6,118.5 63.7,117.8 67.7,117.3 71.8,116.8 75.8,116.8 79.9,116.4 84.0,116.5 88.0,116.8 92.1,117.5 96.2,119.2 100.2,121.0 104.3,122.8 108.3,123.8 112.4,125.3 116.5,126.1 120.5,126.0 124.6,126.3 128.6,126.1 132.7,126.4 136.8,126.7 140.8,126.6 144.9,126.7 148.9,126.9 153.0,126.9 157.1,126.8 161.1,127.0 165.2,126.7 169.3,126.7 173.3,126.6 177.4,126.4 181.4,126.6 185.5,126.7 189.6,126.7 193.6,126.8 197.7,126.7 201.7,126.8 205.8,127.0 209.9,127.0 213.9,127.0 218.0,127.0 222.0,127.0 226.1,127.0 230.2,126.9 234.2,126.8 238.3,126.7 242.4,126.6 246.4,126.7 250.5,126.7 254.5,126.9 258.6,127.0 262.7,126.8 266.7,126.7 270.8,127.0 274.8,126.9 278.9,126.8 283.0,126.6 287.0,126.7 291.1,127.0 295.1,127.0 299.2,126.7 303.3,126.5 307.3,126.4 311.4,126.3 315.5,126.7 319.5,127.0 323.6,127.0 327.6,126.7 331.7,126.5" stroke="rgb(53,53,53)"/>
<polyline points="59.6,125.2 63.7,124.1 67.7,123.2 71.8,121.4 75.8,120.1 79.9,119.4 84.0,118.3 88.0,117.8 92.1,116.6 96.2,116.0 100.2,115.6 104.3,115.3 108.3,114.3 112.4,114.5 116.5,114.0 120.5,115.2 124.6,117.2 128.6,118.9 132.7,120.7 136.8,123.0 140.8,124.7 144.9,125.9 148.9,126.2 153.0,126.0 157.1,126.1 161.1,125.9 165.2,126.0 169.3,126.4 173.3,126.8 177.4,126.8 181.4,126.4 185.5,126.5 189.6,126.6 193.6,126.7 197.7,126.6 201.7,126.8 205.8,126.6 209.9,126.6 213.9,127.0 218.0,127.0 222.0,127.0 226.1,126.9 230.2,126.6 234.2,126.8 238.3,127.0 242.4,126.8 246.4,126.7 250.5,127.0 254.5,126.8 258.6,126.6 262.7,126.9 266.7,127.0 270.8,126.8 274.8,126.9 278.9,127.0 283.0,126.8 287.0,126.8 291.1,126.8 295.1,126.8 299.2,126.9 303.3,126.9 307.3,127.0 311.4,127.0 315.5,126.8 319.5,127.0 323.6,127.0 327.6,127.0 331.7,127.0" stroke="rgb(48,48,48)"/>
<polyline points="59.6,118.3 63.7,116.9 67.7,116.1 71.8,115.3 75.8,114.6 79.9,114.2 84.0,113.3 88.0,112.3 92.1,112.1 96.2,112.1 100.2,112.4 104.3,113.1 108.3,114.6 112.4,115.6 116.5,117.4 120.5,119.1 124.6,121.3 128.6,123.0 132.7,124.7 136.8,126.3 140.8,125.7 144.9,125.6 148.9,125.8 153.0,125.8 157.1,126.2 161.1,126.3 165.2,126.2 169.3,126.5 173.3,126.7 177.4,126.5 181.4,126.7 185.5,126.7 189.6,126.4 193.6,126.4 197.7,126.4 201.7,126.4 205.8,126.4 209.9,126.4 213.9,126.6 218.0,126.8 222.0,126.8 226.1,126.7 230.2,126.4 234.2,126.4 238.3,126.6 242.4,126.4 246.4,126.6 250.5,126.7 254.5,126.7 258.6,126.7 262.7,126.7 266.7,127.0 270.8,127.0 274.8,126.8 278.9,126.6 283.0,126.8 287.0,127.0 291.1,126.9 295.1,126.5 299.2,126.8 303.3,126.7 307.3,126.3 311.4,126.3 315.5,126.6 319.5,126.5 323.6,126.7 327.6,126.9 331.7,126.5" stroke="rgb(45,45,45)"/>
<polyline points="59.6,126.2 63.7,125.4 67.7,124.6 71.8,123.9 75.8,122.8 79.9,121.9 84.0,120.7 88.0,120.5 92.1,119.1 96.2,117.8 100.2,116.7 104.3,116.7 108.3,114.9 112.4,115.0 116.5,115.9 120.5,116.1 124.6,116.3 128.6,117.4 132.7,117.5 136.8,118.7 140.8,119.8 144.9,120.8 148.9,122.3 153.0,123.5 157.1,124.9 161.1,126.3 165.2,126.2 169.3,126.2 173.3,126.2 177.4,126.5 181.4,126.2 185.5,126.4 189.6,126.8 193.6,126.5 197.7,126.6 201.7,126.7 205.8,127.0 209.9,127.0 213.9,126.6 218.0,126.8 222.0,127.0 226.1,126.7 230.2,126.4 234.2,126.7 238.3,126.9 242.4,126.9 246.4,126.8 250.5,126.7 254.5,126.7 258.6,126.7 262.7,126.8 266.7,126.6 270.8,126.6 274.8,126.9 278.9,127.0 283.0,127.0 287.0,126.6 291.1,126.7 295.1,126.9 299.2,127.0 303.3,127.0 307.3,126.9 311.4,126.6 315.5,126.5 319.5,126.7 323.6,126.6 327.6,126.5 331.7,126.7" stroke="rgb(53,53,53)"/>
<polyline points="59.6,125.2 63.7,124.2 67.7,123.2 71.8,122.5 75.8,121.4 79.9,119.9 84.0,119.3 88.0,118.9 92.1,118.2 96.2,117.2 100.2,116.5 104.3,115.5 108.3,115.0 112.4,115.3 116.5,115.5 120.5,115.7 124.6,116.7 128.6,118.4 132.7,120.0 136.8,121.3 140.8,123.1 144.9,124.7 148.9,125.8 153.0,125.7 157.1,125.7 161.1,125.8 165.2,126.2 169.3,126.6 173.3,126.6 177.4,126.5 181.4,126.5 185.5,126.5 189.6,126.7 193.6,126.7 197.7,126.9 201.7,127.0 205.8,126.9 209.9,126.7 213.9,126.9 218.0,126.9 222.0,126.8 226.1,127.0 230.2,126.8 234.2,126.3 238.3,126.4 242.4,126.8 246.4,126.5 250.5,126.6 254.5,126.9 258.6,126.9 262.7,126.7 266.7,126.7 270.8,126.6 274.8,126.8 278.9,127.0 283.0,126.9 287.0,126.9 291.1,127.0 295.1,126.6 299.2,126.7 303.3,126.9 307.3,126.9 311.4,126.8 315.5,126.8 319.5,126.8 323.6,126.5 327.6,126.5 331.7,126.6" stroke="rgb(46,46,46)"/>
<polyline points="59.6,126.0 63.7,125.4 67.7,124.8 71.8,123.8 75.8,123.2 79.9,122.0 84.0,120.8 88.0,119.6 92.1,119.2 96.2,118.4 100.2,118.0 104.3,117.4 108.3,117.0 112.4,116.4 116.5,116.8 120.5,116.5 124.6,116.5 128.6,117.0 132.7,117.8 136.8,118.4 140.8,120.3 144.9,121.8 148.9,123.6 153.0,125.2 157.1,126.3 161.1,126.5 165.2,126.7 169.3,126.8 173.3,126.5 177.4,126.5 181.4,126.6 185.5,126.5 189.6,126.5 193.6,127.0 197.7,127.0 201.7,126.8 205.8,126.7 209.9,126.6 213.9,126.9 218.0,127.0 222.0,127.0 226.1,126.9 230.2,126.5 234.2,126.7 238.3,126.8 242.4,126.9 246.4,127.0 250.5,126.8 254.5,126.6 258.6,126.6 262.7,126.3 266.7,126.7 270.8,126.9 274.8,126.9 278.9,126.8 283.0,126.7 287.0,126.8 291.1,126.8 295.1,126.8 299.2,126.5 303.3,126.6 307.3,127.0 311.4,126.8 315.5,126.9 319.5,126.9 323.6,126.7 327.6,126.7 331.7,126.5" stroke="rgb(31,31,31)"/>
<polyline points="59.6,125.8 63.7,124.8 67.7,124.1 71.8,122.9 75.8,121.6 79.9,120.5 84.0,119.8 88.0,118.0 92.1,117.4 96.2,117.0 100.2,116.2 104.3,115.4 108.3,116.2 112.4,115.0 116.5,114.8 120.5,114.9 124.6,116.0 128.6,116.5 132.7,118.1 136.8,119.7 140.8,122.3 144.9,124.1 148.9,125.5 153.0,126.6 157.1,126.6 161.1,126.3 165.2,126.6 169.3,126.5 173.3,126.5 177.4,126.9 181.4,127.0 185.5,126.7 189.6,126.5 193.6,126.7 197.7,126.8 201.7,126.9 205.8,126.6 209.9,126.5 213.9,126.8 218.0,126.8 222.0,126.6 226.1,126.6 230.2,126.6 234.2,126.6 238.3,126.8 242.4,127.0 246.4,127.0 250.5,126.8 254.5,126.5 258.6,126.6 262.7,126.7 266.7,126.5 270.8,126.9 274.8,126.7 278.9,126.6 283.0,126.8 287.0,126.9 291.1,127.0 295.1,126.8 299.2,126.8 303.3,126.7 307.3,126.8 311.4,126.8 315.5,126.9 319.5,126.9 323.6,126.6 327.6,126.6 331.7,126.6" stroke="rgb(74,74,74)"/>
<polyline points="59.6,124.4 63.7,123.4 67.7,122.1 71.8,120.7 75.8,119.2 79.9,118.2 84.0,117.3 88.0,116.0 92.1,115.2 96.2,114.0 100.2,112.4 104.3,112.6 108.3,113.6 112.4,113.5 116.5,113.6 120.5,115.7 124.6,116.9 128.6,117.6 132.7,118.4 136.8,120.2 140.8,122.5 144.9,124.1 148.9,125.3 153.0,126.2 157.1,126.0 161.1,126.0 165.2,125.9 169.3,126.0 173.3,126.5 177.4,126.6 181.4,126.3 185.5,126.3 189.6,126.7 193.6,127.0 197.7,127.0 201.7,126.7 205.8,126.6 209.9,126.7 213.9,126.7 218.0,126.3 222.0,126.5 226.1,126.7 230.2,126.3 234.2,126.2 238.3,126.6 242.4,126.7 246.4,126.2 250.5,126.3 254.5,126.9 258.6,126.9 262.7,126.7 266.7,126.7 270.8,126.6 274.8,126.3 278.9,126.1 283.0,126.0 287.0,126.2 291.1,126.5 295.1,126.7 299.2,126.8 303.3,126.6 307.3,126.5 311.4,126.5 315.5,126.4 319.5,126.3 323.6,126.4 327.6,126.5 331.7,126.3" stroke="rgb(56,56,56)"/>
<polyline points="59.6,123.0 63.7,122.0 67.7,120.5 71.8,119.1 75.8,118.3 79.9,117.1 84.0,116.9 88.0,116.4 92.1,116.2 96.2,116.0 100.2,116.5 104.3,116.6 108.3,116.7 112.4,117.1 116.5,118.0 120.5,119.1 124.6,120.1 128.6,121.6 132.7,123.2 136.8,124.4 140.8,125.1 144.9,125.7 148.9,125.9 153.0,126.1 157.1,126.1 161.1,126.3 165.2,126.4 169.3,126.3 173.3,126.4 177.4,126.5 181.4,126.6 185.5,126.9 189.6,127.0 193.6,127.0 197.7,126.7 201.7,126.8 205.8,126.8 209.9,126.9 213.9,127.0 218.0,126.9 222.0,126.8 226.1,127.0 230.2,127.0 234.2,126.9 238.3,126.8 242.4,126.9 246.4,127.0 250.5,127.0 254.5,126.9 258.6,126.7 262.7,126.7 266.7,127.0 270.8,127.0 274.8,126.8 278.9,126.7 283.0,127.0 287.0,127.0 291.1,126.9 295.1,126.9 299.2,126.5 303.3,126.5 307.3,127.0 311.4,127.0 315.5,127.0 319.5,127.0 323.6,126.9 327.6,126.9 331.7,126.9" stroke="rgb(33,33,33)"/>
<polyline points="59.6,124.3 63.7,123.4 67.7,122.5 71.8,121.6 75.8,120.7 79.9,119.7 84.0,118.8 88.0,117.8 92.1,117.3 96.2,117.0 100.2,117.0 104.3,117.1 108.3,116.7 112.4,116.3 116.5,117.3 120.5,118.2 124.6,119.1 128.6,120.3 132.7,121.9 136.8,123.4 140.8,124.8 144.9,126.0 148.9,126.5 153.0,126.2 157.1,126.1 161.1,126.4 165.2,126.4 169.3,126.5 173.3,127.0 177.4,127.0 181.4,126.9 185.5,126.6 189.6,126.7 193.6,126.6 197.7,126.7 201.7,126.7 205.8,126.6 209.9,127.0 213.9,127.0 218.0,126.9 222.0,126.8 226.1,127.0 230.2,127.0 234.2,127.0 238.3,126.8 242.4,126.8 246.4,126.5 250.5,126.7 254.5,127.0 258.6,127.0 262.7,127.0 266.7,126.7 270.8,126.4 274.8,126.6 278.9,126.8 283.0,127.0 287.0,127.0 291.1,127.0 295.1,126.9 299.2,127.0 303.3,127.0 307.3,127.0 311.4,126.8 315.5,126.5 319.5,126.6 323.6,126.7 327.6,126.7 331.7,126.8" stroke="rgb(65,65,65)"/>
<polyline points="59.6,123.9 63.7,123.2 67.7,122.4 71.8,121.2 75.8,120.4 79.9,119.6 84.0,119.4 88.0,118.6 92.1,118.0 96.2,118.0 100.2,118.2 104.3,118.4 108.3,118.7 112.4,119.3 116.5,120.0 120.5,121.2 124.6,122.2 128.6,123.6 132.7,125.7 136.8,126.7 140.8,126.6 144.9,126.2 148.9,126.3 153.0,126.6 157.1,126.9 161.1,126.9 165.2,126.6 169.3,126.5 173.3,126.7 177.4,126.9 181.4,126.8 185.5,126.5 189.6,126.9 193.6,127.0 197.7,126.9 201.7,127.0 205.8,127.0 209.9,126.8 213.9,127.0 218.0,126.8 222.0,126.9 226.1,127.0 230.2,126.9 234.2,127.0 238.3,126.9 242.4,126.9 246.4,127.0 250.5,127.0 254.5,127.0 258.6,127.0 262.7,126.6 266.7,126.9 270.8,127.0 274.8,126.9 278.9,127.0 283.0,127.0 287.0,126.9 291.1,126.8 295.1,126.9 299.2,126.8 303.3,126.9 307.3,127.0 311.4,127.0 315.5,126.9 319.5,126.7 323.6,126.5 327.6,126.3 331.7,126.2" stroke="rgb(74,74,74)"/>
<polyline points="59.6,120.6 63.7,119.6 67.7,117.9 71.8,116.6 75.8,115.5 79.9,115.7 84.0,115.0 88.0,114.9 92.1,114.2 96.2,114.3 100.2,114.1 104.3,115.1 108.3,116.5 112.4,118.2 116.5,120.6 120.5,122.4 124.6,124.2 128.6,125.2 132.7,125.6 136.8,125.5 140.8,125.6 144.9,125.6 148.9,126.0 153.0,126.3 157.1,126.3 161.1,126.5 165.2,126.3 169.3,126.4 173.3,126.6 177.4,126.8 181.4,126.8 185.5,126.2 189.6,126.0 193.6,126.4 197.7,126.7 201.7,126.8 205.8,126.7 209.9,126.6 213.9,126.6 218.0,126.2 222.0,125.9 226.1,126.4 230.2,126.5 234.2,126.3 238.3,126.4 242.4,126.6 246.4,126.3 250.5,126.1 254.5,126.3 258.6,126.4 262.7,126.3 266.7,126.4 270.8,126.4 274.8,126.3 278.9,126.6 283.0,126.8 287.0,126.7 291.1,126.4 295.1,126.6 299.2,126.5 303.3,126.5 307.3,126.6 311.4,126.5 315.5,126.7 319.5,126.7 323.6,126.6 327.6,126.6 331.7,126.8" stroke="rgb(63,63,63)"/>
<polyline points="59.6,119.6 63.7,118.4 67.7,117.5 71.8,116.4 75.8,115.5 79.9,114.6 84.0,114.1 88.0,114.7 92.1,115.0 96.2,115.6 100.2,115.8 104.3,116.6 108.3,117.7 112.4,118.8 116.5,120.1 120.5,122.2 124.6,124.0 128.6,125.0 132.7,125.8 136.8,126.0 140.8,126.1 144.9,126.4 148.9,126.5 153.0,126.5 157.1,127.0 161.1,127.0 165.2,127.0 169.3,127.0 173.3,127.0 177.4,126.9 181.4,126.8 185.5,126.9 189.6,126.8 193.6,126.9 197.7,127.0 201.7,127.0 205.8,126.8 209.9,127.0 213.9,127.0 218.0,127.0 222.0,126.7 226.1,126.8 230.2,126.9 234.2,126.8 238.3,126.9 242.4,127.0 246.4,126.8 250.5,126.6 254.5,126.8 258.6,126.9 262.7,126.8 266.7,126.8 270.8,127.0 274.8,126.8 278.9,126.8 283.0,127.0 287.0,127.0 291.1,127.0 295.1,127.0 299.2,127.0 303.3,126.9 307.3,126.8 311.4,126.9 315.5,126.9 319.5,126.9 323.6,127.0 327.6,126.9 331.7,126.9" stroke="rgb(47,47,47)"/>
<polyline points="59.6,120.4 63.7,119.0 67.7,117.4 71.8,116.8 75.8,116.5 79.9,115.8 84.0,114.8 88.0,115.3 92.1,115.1 96.2,114.4 100.2,113.8 104.3,114.3 108.3,115.3 112.4,115.7 116.5,116.6 120.5,118.7 124.6,121.3 128.6,123.0 132.7,125.4 136.8,126.9 140.8,126.6 144.9,126.9 148.9,126.9 153.0,126.6 157.1,126.9 161.1,127.0 165.2,127.0 169.3,126.7 173.3,126.4 177.4,126.8 181.4,126.8 185.5,126.4 189.6,126.9 193.6,127.0 197.7,126.8 201.7,127.0 205.8,126.7 209.9,126.8 213.9,126.7 218.0,126.7 222.0,126.8 226.1,126.9 230.2,127.0 234.2,127.0 238.3,126.8 242.4,127.0 246.4,127.0 250.5,126.9 254.5,126.9 258.6,126.5 262.7,126.5 266.7,126.5 270.8,126.7 274.8,126.6 278.9,126.5 283.0,127.0 287.0,127.0 291.1,126.9 295.1,126.7 299.2,126.7 303.3,126.7 307.3,126.6 311.4,127.0 315.5,127.0 319.5,127.0 323.6,127.0 327.6,127.0 331.7,127.0" stroke="rgb(49,49,49)"/>
<polyline points="59.6,122.1 63.7,121.2 67.7,120.2 71.8,119.3 75.8,118.4 79.9,117.6 84.0,117.0 88.0,116.6 92.1,116.4 96.2,116.1 100.2,116.2 104.3,116.4 108.3,117.5 112.4,119.5 116.5,122.4 120.5,125.1 124.6,126.5 128.6,126.3 132.7,125.3 136.8,124.8 140.8,125.0 144.9,125.7 148.9,126.4 153.0,126.7 157.1,126.7 161.1,126.8 165.2,126.7 169.3,126.8 173.3,126.7 177.4,126.8 181.4,126.6 185.5,126.6 189.6,126.3 193.6,126.4 197.7,126.6 201.7,126.6 205.8,126.8 209.9,126.6 213.9,126.6 218.0,126.5 222.0,126.8 226.1,126.8 230.2,126.7 234.2,126.7 238.3,126.8 242.4,127.0 246.4,127.0 250.5,127.0 254.5,126.9 258.6,126.8 262.7,126.7 266.7,126.6 270.8,126.6 274.8,126.8 278.9,126.8 283.0,126.7 287.0,126.6 291.1,126.6 295.1,126.8 299.2,126.7 303.3,126.6 307.3,126.6 311.4,126.7 315.5,126.9 319.5,126.8 323.6,126.8 327.6,126.7 331.7,126.6" stroke="rgb(50,50,50)"/>
<polyline points="59.6,125.1 63.7,124.1 67.7,123.1 71.8,122.1 75.8,121.0 79.9,119.9 84.0,118.9 88.0,118.1 92.1,117.3 96.2,116.6 100.2,116.0 104.3,115.5 108.3,115.2 112.4,115.4 116.5,117.4 120.5,122.2 124.6,126.3 128.6,124.8 132.7,121.0 136.8,119.6 140.8,120.3 144.9,121.5 148.9,122.7 153.0,124.1 157.1,125.4 161.1,126.4 165.2,126.7 169.3,126.7 173.3,126.9 177.4,126.8 181.4,126.8 185.5,126.7 189.6,126.8 193.6,126.8 197.7,126.8 201.7,126.7 205.8,126.6 209.9,126.6 213.9,126.7 218.0,126.7 222.0,126.7 226.1,126.6 230.2,126.6 234.2,126.6 238.3,126.7 242.4,126.9 246.4,126.8 250.5,126.9 254.5,126.7 258.6,126.7 262.7,126.5 266.7,126.7 270.8,126.7 274.8,126.8 278.9,127.0 283.0,127.0 287.0,127.0 291.1,126.7 295.1,126.8 299.2,126.7 303.3,126.8 307.3,126.6 311.4,126.7 315.5,126.8 319.5,126.9 323.6,126.9 327.6,126.8 331.7,126.8" stroke="rgb(37,37,37)"/>
</g>
<path d="M59.60,110.90 V127.00 H331.70" fill="none" stroke="#3a3a3a" stroke-width="0.7"/>
<line x1="59.60" y1="127.00" x2="59.60" y2="124.80" stroke="#3a3a3a" stroke-width="0.6"/>
<text x="60.20" y="140.90" font-size="10.15">-40</text>
<line x1="114.02" y1="127.00" x2="114.02" y2="124.80" stroke="#3a3a3a" stroke-width="0.6"/>
<text x="114.62" y="140.90" font-size="10.15">-20</text>
<line x1="168.44" y1="127.00" x2="168.44" y2="124.80" stroke="#3a3a3a" stroke-width="0.6"/>
<text x="168.44" y="140.90" font-size="10.15">0</text>
<line x1="222.86" y1="127.00" x2="222.86" y2="124.80" stroke="#3a3a3a" stroke-width="0.6"/>
<text x="222.86" y="140.90" font-size="10.15">20</text>
<line x1="277.28" y1="127.00" x2="277.28" y2="124.80" stroke="#3a3a3a" stroke-width="0.6"/>
<text x="277.28" y="140.90" font-size="10.15">40</text>
<line x1="331.70" y1="127.00" x2="331.70" y2="124.80" stroke="#3a3a3a" stroke-width="0.6"/>
<text x="331.70" y="140.90" font-size="10.15">60</text>
<line x1="59.60" y1="113.70" x2="62.00" y2="113.70" stroke="#3a3a3a" stroke-width="0.6"/>
<text x="55.80" y="118.50" font-size="10.15" text-anchor="end">500</text>
<text x="55.80" y="132.00" font-size="10.15" text-anchor="end">0</text>
<text x="195.95" y="107.70" font-size="10.55" font-weight="bold">16 ms post-saccadic delay trials</text>
<line x1="114.02" y1="159.30" x2="114.02" y2="175.40" stroke="#d9d9d9" stroke-width="0.6"/>
<line x1="168.44" y1="159.30" x2="168.44" y2="175.40" stroke="#d9d9d9" stroke-width="0.6"/>
<line x1="222.86" y1="159.30" x2="222.86" y2="175.40" stroke="#d9d9d9" stroke-width="0.6"/>
<line x1="277.28" y1="159.30" x2="277.28" y2="175.40" stroke="#d9d9d9" stroke-width="0.6"/>
<line x1="331.70" y1="159.30" x2="331.70" y2="175.40" stroke="#d9d9d9" stroke-width="0.6"/>
<line x1="59.60" y1="162.10" x2="331.70" y2="162.10" stroke="#d9d9d9" stroke-width="0.6"/>
<rect x="168.44" y="159.30" width="136.55" height="16.10" fill="#c8c8c8"/>
<clipPath id="ca2"><rect x="59.6" y="157.30" width="272.10" height="18.50"/></clipPath>
<g clip-path="url(#ca2)" fill="none" stroke-width="0.62" stroke-linejoin="round">
<polyline points="59.6,174.7 63.7,174.7 67.7,174.6 71.8,174.6 75.8,174.6 79.9,174.5 84.0,174.5 88.0,174.5 92.1,174.4 96.2,174.3 100.2,174.4 104.3,174.5 108.3,174.8 112.4,174.9 116.5,175.0 120.5,174.9 124.6,175.0 128.6,174.9 132.7,174.9 136.8,175.0 140.8,174.9 144.9,174.9 148.9,174.8 153.0,174.8 157.1,174.9 161.1,174.9 165.2,175.0 169.3,175.0 173.3,175.0 177.4,174.9 181.4,174.9 185.5,174.9 189.6,175.0 193.6,174.9 197.7,174.9 201.7,174.8 205.8,174.9 209.9,174.8 213.9,175.0 218.0,175.0 222.0,175.0 226.1,175.0 230.2,174.9 234.2,174.9 238.3,174.9 242.4,174.9 246.4,174.9 250.5,174.9 254.5,174.9 258.6,174.8 262.7,174.9 266.7,174.9 270.8,174.9 274.8,174.8 278.9,174.9 283.0,175.0 287.0,175.1 291.1,175.0 295.1,175.1 299.2,174.9 303.3,175.0 307.3,174.8 311.4,174.9 315.5,175.0 319.5,175.0 323.6,175.1 327.6,175.1 331.7,175.1" stroke="rgb(57,57,57)"/>
<polyline points="59.6,173.1 63.7,173.5 67.7,173.9 71.8,174.2 75.8,174.4 79.9,174.6 84.0,174.6 88.0,174.6 92.1,174.5 96.2,174.7 100.2,174.8 104.3,175.0 108.3,175.0 112.4,174.9 116.5,174.9 120.5,175.0 124.6,175.0 128.6,175.0 132.7,174.9 136.8,175.0 140.8,175.1 144.9,175.2 148.9,175.2 153.0,175.2 157.1,175.2 161.1,175.1 165.2,175.0 169.3,175.0 173.3,175.1 177.4,175.1 181.4,175.0 185.5,175.0 189.6,175.0 193.6,175.0 197.7,175.0 201.7,174.9 205.8,175.0 209.9,175.0 213.9,175.1 218.0,175.0 222.0,175.1 226.1,174.9 230.2,175.0 234.2,174.9 238.3,175.1 242.4,175.1 246.4,175.2 250.5,175.1 254.5,175.0 258.6,175.0 262.7,175.0 266.7,175.1 270.8,175.2 274.8,175.2 278.9,175.2 283.0,175.2 287.0,175.0 291.1,175.0 295.1,174.9 299.2,175.1 303.3,175.0 307.3,175.1 311.4,175.0 315.5,175.1 319.5,175.1 323.6,175.2 327.6,175.1 331.7,175.1" stroke="rgb(69,69,69)"/>
<polyline points="59.6,173.9 63.7,174.2 67.7,174.5 71.8,174.6 75.8,174.6 79.9,174.6 84.0,174.6 88.0,174.7 92.1,174.7 96.2,174.8 100.2,174.8 104.3,174.7 108.3,174.8 112.4,174.9 116.5,174.9 120.5,174.8 124.6,174.7 128.6,174.8 132.7,174.8 136.8,174.8 140.8,174.9 144.9,174.9 148.9,174.9 153.0,174.9 157.1,174.9 161.1,174.8 165.2,174.9 169.3,174.9 173.3,174.9 177.4,174.8 181.4,174.9 185.5,174.9 189.6,175.0 193.6,174.8 197.7,174.8 201.7,174.7 205.8,174.8 209.9,174.9 213.9,174.8 218.0,174.8 222.0,174.8 226.1,174.8 230.2,174.9 234.2,174.9 238.3,175.1 242.4,175.0 246.4,175.0 250.5,175.0 254.5,175.0 258.6,175.1 262.7,174.9 266.7,174.8 270.8,174.8 274.8,174.8 278.9,174.9 283.0,174.9 287.0,174.9 291.1,174.7 295.1,174.8 299.2,175.0 303.3,175.0 307.3,174.8 311.4,174.8 315.5,174.8 319.5,174.8 323.6,174.7 327.6,174.7 331.7,174.9" stroke="rgb(28,28,28)"/>
<polyline points="59.6,170.4 63.7,171.8 67.7,172.6 71.8,173.3 75.8,173.7 79.9,174.1 84.0,174.3 88.0,174.3 92.1,174.4 96.2,174.6 100.2,174.9 104.3,175.2 108.3,175.1 112.4,175.1 116.5,175.1 120.5,175.2 124.6,175.2 128.6,175.3 132.7,175.3 136.8,175.2 140.8,175.2 144.9,175.3 148.9,175.4 153.0,175.4 157.1,175.2 161.1,175.3 165.2,175.3 169.3,175.3 173.3,175.2 177.4,175.3 181.4,175.4 185.5,175.4 189.6,175.4 193.6,175.4 197.7,175.1 201.7,175.2 205.8,175.2 209.9,175.4 213.9,175.4 218.0,175.4 222.0,175.4 226.1,175.4 230.2,175.4 234.2,175.4 238.3,175.4 242.4,175.3 246.4,175.3 250.5,175.3 254.5,175.3 258.6,175.2 262.7,175.3 266.7,175.3 270.8,175.4 274.8,175.3 278.9,175.3 283.0,175.4 287.0,175.4 291.1,175.4 295.1,175.3 299.2,175.4 303.3,175.3 307.3,175.3 311.4,175.4 315.5,175.3 319.5,175.3 323.6,175.4 327.6,175.4 331.7,175.4" stroke="rgb(77,77,77)"/>
<polyline points="59.6,171.2 63.7,172.1 67.7,172.8 71.8,173.3 75.8,173.6 79.9,174.0 84.0,174.3 88.0,174.5 92.1,174.6 96.2,174.6 100.2,174.6 104.3,174.7 108.3,174.8 112.4,174.8 116.5,175.0 120.5,175.1 124.6,175.2 128.6,175.2 132.7,175.1 136.8,175.1 140.8,175.1 144.9,175.0 148.9,175.0 153.0,175.0 157.1,175.0 161.1,175.0 165.2,175.1 169.3,175.0 173.3,175.1 177.4,175.0 181.4,175.2 185.5,175.1 189.6,175.2 193.6,175.2 197.7,175.1 201.7,175.1 205.8,175.1 209.9,175.2 213.9,175.0 218.0,175.0 222.0,175.0 226.1,175.1 230.2,175.1 234.2,175.0 238.3,174.9 242.4,175.0 246.4,175.1 250.5,175.2 254.5,175.2 258.6,175.2 262.7,175.1 266.7,175.0 270.8,174.9 274.8,175.1 278.9,175.2 283.0,175.2 287.0,175.1 291.1,175.1 295.1,175.0 299.2,175.0 303.3,175.1 307.3,175.2 311.4,175.1 315.5,175.1 319.5,175.1 323.6,175.2 327.6,175.2 331.7,175.2" stroke="rgb(77,77,77)"/>
<polyline points="59.6,171.4 63.7,172.1 67.7,172.8 71.8,173.3 75.8,173.7 79.9,173.9 84.0,174.1 88.0,174.3 92.1,174.5 96.2,174.6 100.2,174.8 104.3,174.8 108.3,174.8 112.4,174.9 116.5,175.1 120.5,175.1 124.6,175.2 128.6,175.2 132.7,175.3 136.8,175.4 140.8,175.3 144.9,175.4 148.9,175.3 153.0,175.2 157.1,175.1 161.1,175.2 165.2,175.3 169.3,175.4 173.3,175.3 177.4,175.3 181.4,175.3 185.5,175.3 189.6,175.3 193.6,175.3 197.7,175.2 201.7,175.2 205.8,175.0 209.9,175.1 213.9,175.1 218.0,175.4 222.0,175.3 226.1,175.3 230.2,175.3 234.2,175.4 238.3,175.4 242.4,175.4 246.4,175.2 250.5,175.2 254.5,175.2 258.6,175.3 262.7,175.3 266.7,175.2 270.8,175.2 274.8,175.2 278.9,175.2 283.0,175.2 287.0,175.2 291.1,175.2 295.1,175.2 299.2,175.2 303.3,175.2 307.3,175.3 311.4,175.3 315.5,175.4 319.5,175.4 323.6,175.4 327.6,175.4 331.7,175.4" stroke="rgb(27,27,27)"/>
<polyline points="59.6,173.3 63.7,173.7 67.7,174.1 71.8,174.5 75.8,174.7 79.9,174.9 84.0,174.9 88.0,175.1 92.1,175.0 96.2,175.1 100.2,175.1 104.3,175.3 108.3,175.3 112.4,175.3 116.5,175.3 120.5,175.3 124.6,175.3 128.6,175.4 132.7,175.4 136.8,175.4 140.8,175.4 144.9,175.3 148.9,175.3 153.0,175.3 157.1,175.3 161.1,175.3 165.2,175.3 169.3,175.2 173.3,175.2 177.4,175.2 181.4,175.2 185.5,175.3 189.6,175.3 193.6,175.3 197.7,175.2 201.7,175.2 205.8,175.2 209.9,175.1 213.9,175.2 218.0,175.2 222.0,175.2 226.1,175.2 230.2,175.3 234.2,175.3 238.3,175.3 242.4,175.3 246.4,175.4 250.5,175.4 254.5,175.4 258.6,175.3 262.7,175.4 266.7,175.3 270.8,175.3 274.8,175.3 278.9,175.4 283.0,175.3 287.0,175.4 291.1,175.3 295.1,175.4 299.2,175.4 303.3,175.3 307.3,175.2 311.4,175.1 315.5,175.1 319.5,175.1 323.6,175.2 327.6,175.3 331.7,175.4" stroke="rgb(72,72,72)"/>
<polyline points="59.6,174.4 63.7,174.6 67.7,174.7 71.8,174.7 75.8,174.8 79.9,174.7 84.0,174.7 88.0,174.7 92.1,174.6 96.2,174.7 100.2,174.7 104.3,174.8 108.3,174.9 112.4,175.0 116.5,175.1 120.5,175.0 124.6,174.9 128.6,174.9 132.7,175.0 136.8,175.1 140.8,175.1 144.9,175.1 148.9,175.1 153.0,175.1 157.1,175.1 161.1,175.1 165.2,175.0 169.3,175.0 173.3,175.0 177.4,175.0 181.4,175.0 185.5,175.1 189.6,175.1 193.6,175.0 197.7,175.0 201.7,175.1 205.8,175.1 209.9,175.1 213.9,175.0 218.0,175.1 222.0,175.0 226.1,175.0 230.2,174.9 234.2,175.0 238.3,175.0 242.4,175.0 246.4,175.0 250.5,175.0 254.5,175.0 258.6,174.9 262.7,174.9 266.7,174.9 270.8,175.0 274.8,175.1 278.9,175.2 283.0,175.2 287.0,175.2 291.1,175.1 295.1,175.2 299.2,175.0 303.3,175.1 307.3,175.1 311.4,175.2 315.5,175.1 319.5,175.1 323.6,175.0 327.6,175.1 331.7,175.1" stroke="rgb(39,39,39)"/>
<polyline points="59.6,172.7 63.7,173.3 67.7,173.7 71.8,174.0 75.8,174.2 79.9,174.2 84.0,174.3 88.0,174.2 92.1,174.4 96.2,174.4 100.2,174.6 104.3,174.7 108.3,175.0 112.4,175.2 116.5,175.3 120.5,175.3 124.6,175.2 128.6,175.3 132.7,175.3 136.8,175.4 140.8,175.4 144.9,175.4 148.9,175.4 153.0,175.4 157.1,175.4 161.1,175.3 165.2,175.1 169.3,175.1 173.3,175.2 177.4,175.2 181.4,175.3 185.5,175.4 189.6,175.4 193.6,175.4 197.7,175.4 201.7,175.4 205.8,175.4 209.9,175.4 213.9,175.4 218.0,175.3 222.0,175.3 226.1,175.3 230.2,175.4 234.2,175.4 238.3,175.4 242.4,175.4 246.4,175.3 250.5,175.3 254.5,175.3 258.6,175.3 262.7,175.4 266.7,175.4 270.8,175.3 274.8,175.3 278.9,175.2 283.0,175.2 287.0,175.1 291.1,175.2 295.1,175.4 299.2,175.4 303.3,175.3 307.3,175.3 311.4,175.4 315.5,175.4 319.5,175.3 323.6,175.2 327.6,175.2 331.7,175.3" stroke="rgb(70,70,70)"/>
<polyline points="59.6,172.7 63.7,173.1 67.7,173.3 71.8,173.6 75.8,173.8 79.9,174.1 84.0,174.1 88.0,174.3 92.1,174.3 96.2,174.4 100.2,174.5 104.3,174.6 108.3,174.8 112.4,175.0 116.5,174.9 120.5,174.8 124.6,174.8 128.6,174.9 132.7,175.0 136.8,175.1 140.8,175.1 144.9,175.2 148.9,175.2 153.0,175.2 157.1,175.1 161.1,175.1 165.2,175.1 169.3,175.1 173.3,175.1 177.4,175.0 181.4,175.1 185.5,175.2 189.6,175.3 193.6,175.3 197.7,175.2 201.7,175.1 205.8,175.1 209.9,175.2 213.9,175.3 218.0,175.2 222.0,175.1 226.1,175.1 230.2,175.1 234.2,175.1 238.3,175.1 242.4,175.2 246.4,175.1 250.5,175.1 254.5,175.1 258.6,175.3 262.7,175.2 266.7,175.1 270.8,175.1 274.8,175.0 278.9,175.1 283.0,175.1 287.0,175.2 291.1,175.0 295.1,175.0 299.2,175.0 303.3,175.1 307.3,175.1 311.4,175.0 315.5,175.2 319.5,175.3 323.6,175.4 327.6,175.4 331.7,175.3" stroke="rgb(30,30,30)"/>
<polyline points="59.6,174.1 63.7,174.4 67.7,174.6 71.8,174.7 75.8,174.7 79.9,174.8 84.0,174.8 88.0,174.7 92.1,174.8 96.2,174.9 100.2,175.0 104.3,175.0 108.3,175.0 112.4,175.1 116.5,175.3 120.5,175.2 124.6,175.1 128.6,175.0 132.7,175.1 136.8,175.1 140.8,175.2 144.9,175.2 148.9,175.2 153.0,175.2 157.1,175.4 161.1,175.4 165.2,175.4 169.3,175.3 173.3,175.2 177.4,175.2 181.4,175.2 185.5,175.1 189.6,175.1 193.6,175.1 197.7,175.2 201.7,175.2 205.8,175.0 209.9,175.0 213.9,175.1 218.0,175.3 222.0,175.3 226.1,175.2 230.2,175.1 234.2,175.0 238.3,175.1 242.4,175.1 246.4,175.3 250.5,175.3 254.5,175.2 258.6,175.2 262.7,175.2 266.7,175.2 270.8,175.3 274.8,175.2 278.9,175.3 283.0,175.2 287.0,175.2 291.1,175.3 295.1,175.4 299.2,175.3 303.3,175.2 307.3,175.3 311.4,175.2 315.5,175.2 319.5,175.1 323.6,175.2 327.6,175.3 331.7,175.2" stroke="rgb(64,64,64)"/>
<polyline points="59.6,170.9 63.7,172.0 67.7,172.9 71.8,173.5 75.8,174.0 79.9,174.4 84.0,174.6 88.0,174.7 92.1,174.7 96.2,174.8 100.2,175.1 104.3,175.1 108.3,175.2 112.4,175.2 116.5,175.1 120.5,175.2 124.6,175.2 128.6,175.3 132.7,175.3 136.8,175.4 140.8,175.3 144.9,175.3 148.9,175.2 153.0,175.2 157.1,175.3 161.1,175.2 165.2,175.1 169.3,175.1 173.3,175.0 177.4,175.1 181.4,175.0 185.5,175.1 189.6,175.0 193.6,175.1 197.7,175.2 201.7,175.2 205.8,175.2 209.9,175.2 213.9,175.2 218.0,175.2 222.0,175.2 226.1,175.2 230.2,175.3 234.2,175.3 238.3,175.3 242.4,175.3 246.4,175.2 250.5,175.3 254.5,175.2 258.6,175.2 262.7,175.1 266.7,175.1 270.8,175.2 274.8,175.2 278.9,175.3 283.0,175.1 287.0,175.1 291.1,175.0 295.1,175.1 299.2,175.1 303.3,175.2 307.3,175.3 311.4,175.3 315.5,175.2 319.5,175.2 323.6,175.3 327.6,175.2 331.7,175.2" stroke="rgb(62,62,62)"/>
<polyline points="59.6,170.8 63.7,172.0 67.7,172.9 71.8,173.4 75.8,173.9 79.9,174.0 84.0,174.3 88.0,174.4 92.1,174.5 96.2,174.5 100.2,174.6 104.3,174.9 108.3,175.0 112.4,175.0 116.5,175.2 120.5,175.2 124.6,175.3 128.6,175.2 132.7,175.2 136.8,175.3 140.8,175.3 144.9,175.4 148.9,175.2 153.0,175.3 157.1,175.3 161.1,175.3 165.2,175.3 169.3,175.3 173.3,175.2 177.4,175.2 181.4,175.2 185.5,175.2 189.6,175.4 193.6,175.4 197.7,175.3 201.7,175.2 205.8,175.1 209.9,175.2 213.9,175.2 218.0,175.2 222.0,175.2 226.1,175.4 230.2,175.4 234.2,175.3 238.3,175.3 242.4,175.3 246.4,175.3 250.5,175.1 254.5,175.0 258.6,175.1 262.7,175.2 266.7,175.3 270.8,175.2 274.8,175.2 278.9,175.2 283.0,175.2 287.0,175.3 291.1,175.3 295.1,175.4 299.2,175.4 303.3,175.3 307.3,175.2 311.4,175.2 315.5,175.4 319.5,175.3 323.6,175.2 327.6,175.2 331.7,175.2" stroke="rgb(61,61,61)"/>
<polyline points="59.6,174.7 63.7,174.7 67.7,174.9 71.8,174.8 75.8,174.7 79.9,174.5 84.0,174.4 88.0,174.3 92.1,174.3 96.2,174.4 100.2,174.4 104.3,174.5 108.3,174.7 112.4,174.9 116.5,174.9 120.5,174.9 124.6,175.0 128.6,175.0 132.7,175.1 136.8,175.1 140.8,175.1 144.9,175.0 148.9,174.9 153.0,175.0 157.1,175.0 161.1,175.0 165.2,174.9 169.3,175.0 173.3,175.1 177.4,175.1 181.4,175.1 185.5,175.0 189.6,175.1 193.6,175.1 197.7,175.2 201.7,175.1 205.8,175.0 209.9,175.0 213.9,175.1 218.0,175.0 222.0,175.0 226.1,175.0 230.2,175.1 234.2,175.0 238.3,175.1 242.4,175.2 246.4,175.1 250.5,175.0 254.5,175.1 258.6,175.1 262.7,175.1 266.7,175.0 270.8,174.9 274.8,175.0 278.9,175.0 283.0,175.1 287.0,175.1 291.1,175.1 295.1,175.0 299.2,175.0 303.3,174.9 307.3,174.9 311.4,174.9 315.5,175.0 319.5,175.1 323.6,175.1 327.6,175.2 331.7,175.2" stroke="rgb(37,37,37)"/>
<polyline points="59.6,170.7 63.7,171.5 67.7,172.1 71.8,172.6 75.8,173.0 79.9,173.3 84.0,173.5 88.0,173.6 92.1,173.8 96.2,174.0 100.2,174.2 104.3,174.3 108.3,174.6 112.4,174.7 116.5,174.7 120.5,174.7 124.6,174.8 128.6,175.0 132.7,175.0 136.8,175.1 140.8,175.1 144.9,175.2 148.9,175.1 153.0,175.1 157.1,175.0 161.1,175.1 165.2,175.3 169.3,175.3 173.3,175.3 177.4,175.2 181.4,175.2 185.5,175.2 189.6,175.2 193.6,175.1 197.7,175.1 201.7,175.1 205.8,175.2 209.9,175.2 213.9,175.2 218.0,175.1 222.0,175.2 226.1,175.2 230.2,175.2 234.2,175.3 238.3,175.3 242.4,175.3 246.4,175.3 250.5,175.2 254.5,175.1 258.6,175.1 262.7,175.2 266.7,175.3 270.8,175.2 274.8,175.1 278.9,175.1 283.0,175.2 287.0,175.1 291.1,175.2 295.1,175.3 299.2,175.3 303.3,175.4 307.3,175.4 311.4,175.4 315.5,175.3 319.5,175.2 323.6,175.2 327.6,175.2 331.7,175.2" stroke="rgb(41,41,41)"/>
<polyline points="59.6,169.1 63.7,170.3 67.7,171.3 71.8,172.1 75.8,172.8 79.9,173.2 84.0,173.5 88.0,173.8 92.1,173.9 96.2,174.1 100.2,174.3 104.3,174.5 108.3,174.7 112.4,174.9 116.5,174.9 120.5,174.8 124.6,174.8 128.6,174.9 132.7,175.0 136.8,175.1 140.8,175.1 144.9,175.2 148.9,175.3 153.0,175.2 157.1,175.1 161.1,175.1 165.2,175.2 169.3,175.2 173.3,175.3 177.4,175.3 181.4,175.3 185.5,175.3 189.6,175.3 193.6,175.2 197.7,175.1 201.7,175.1 205.8,175.1 209.9,175.1 213.9,175.0 218.0,175.0 222.0,175.0 226.1,175.1 230.2,175.1 234.2,175.0 238.3,174.9 242.4,175.0 246.4,175.1 250.5,175.2 254.5,175.2 258.6,175.2 262.7,175.1 266.7,175.0 270.8,175.0 274.8,175.2 278.9,175.2 283.0,175.2 287.0,175.2 291.1,175.2 295.1,175.2 299.2,175.1 303.3,175.2 307.3,175.2 311.4,175.2 315.5,175.1 319.5,175.0 323.6,175.1 327.6,175.1 331.7,175.3" stroke="rgb(42,42,42)"/>
<polyline points="59.6,173.8 63.7,174.2 67.7,174.6 71.8,174.7 75.8,174.7 79.9,174.7 84.0,174.6 88.0,174.5 92.1,174.5 96.2,174.6 100.2,174.8 104.3,174.9 108.3,174.9 112.4,174.9 116.5,175.0 120.5,174.9 124.6,175.1 128.6,175.1 132.7,175.2 136.8,175.1 140.8,175.0 144.9,175.0 148.9,175.0 153.0,175.1 157.1,175.1 161.1,175.2 165.2,175.1 169.3,175.1 173.3,175.1 177.4,175.2 181.4,175.2 185.5,175.1 189.6,175.0 193.6,174.9 197.7,175.0 201.7,175.1 205.8,175.1 209.9,175.1 213.9,175.2 218.0,175.2 222.0,175.2 226.1,175.2 230.2,175.2 234.2,175.2 238.3,175.1 242.4,175.0 246.4,175.1 250.5,175.3 254.5,175.1 258.6,175.1 262.7,175.1 266.7,175.1 270.8,175.1 274.8,175.1 278.9,175.1 283.0,175.0 287.0,175.1 291.1,175.1 295.1,175.1 299.2,175.2 303.3,175.3 307.3,175.2 311.4,175.2 315.5,175.2 319.5,175.1 323.6,175.2 327.6,175.1 331.7,175.1" stroke="rgb(41,41,41)"/>
<polyline points="59.6,167.7 63.7,168.8 67.7,169.7 71.8,170.5 75.8,171.2 79.9,171.6 84.0,172.1 88.0,172.5 92.1,173.0 96.2,173.3 100.2,173.6 104.3,173.8 108.3,174.0 112.4,174.2 116.5,174.4 120.5,174.6 124.6,174.7 128.6,174.7 132.7,174.6 136.8,174.8 140.8,175.0 144.9,175.0 148.9,175.0 153.0,175.0 157.1,175.1 161.1,175.1 165.2,175.2 169.3,175.2 173.3,175.1 177.4,175.1 181.4,175.0 185.5,175.0 189.6,175.1 193.6,175.1 197.7,175.1 201.7,175.1 205.8,175.2 209.9,175.3 213.9,175.3 218.0,175.3 222.0,175.4 226.1,175.4 230.2,175.4 234.2,175.4 238.3,175.3 242.4,175.3 246.4,175.1 250.5,175.2 254.5,175.2 258.6,175.2 262.7,175.2 266.7,175.3 270.8,175.4 274.8,175.3 278.9,175.3 283.0,175.2 287.0,175.2 291.1,175.3 295.1,175.2 299.2,175.1 303.3,175.0 307.3,175.0 311.4,175.2 315.5,175.2 319.5,175.2 323.6,175.2 327.6,175.2 331.7,175.1" stroke="rgb(47,47,47)"/>
<polyline points="59.6,173.2 63.7,173.5 67.7,173.8 71.8,174.1 75.8,174.3 79.9,174.5 84.0,174.6 88.0,174.8 92.1,174.9 96.2,174.9 100.2,174.9 104.3,174.9 108.3,175.0 112.4,175.1 116.5,175.1 120.5,175.1 124.6,175.2 128.6,175.2 132.7,175.3 136.8,175.2 140.8,175.2 144.9,175.2 148.9,175.2 153.0,175.2 157.1,175.2 161.1,175.3 165.2,175.4 169.3,175.4 173.3,175.4 177.4,175.2 181.4,175.3 185.5,175.3 189.6,175.4 193.6,175.3 197.7,175.3 201.7,175.4 205.8,175.4 209.9,175.4 213.9,175.3 218.0,175.1 222.0,175.2 226.1,175.2 230.2,175.2 234.2,175.1 238.3,175.3 242.4,175.3 246.4,175.3 250.5,175.2 254.5,175.2 258.6,175.1 262.7,175.2 266.7,175.2 270.8,175.3 274.8,175.2 278.9,175.2 283.0,175.1 287.0,175.3 291.1,175.3 295.1,175.3 299.2,175.2 303.3,175.4 307.3,175.4 311.4,175.4 315.5,175.3 319.5,175.2 323.6,175.3 327.6,175.3 331.7,175.2" stroke="rgb(37,37,37)"/>
<polyline points="59.6,169.4 63.7,170.7 67.7,171.9 71.8,172.7 75.8,173.2 79.9,173.5 84.0,173.7 88.0,173.9 92.1,173.9 96.2,174.1 100.2,174.2 104.3,174.5 108.3,174.8 112.4,175.1 116.5,175.2 120.5,175.3 124.6,175.2 128.6,175.3 132.7,175.3 136.8,175.3 140.8,175.3 144.9,175.3 148.9,175.4 153.0,175.3 157.1,175.3 161.1,175.3 165.2,175.2 169.3,175.2 173.3,175.2 177.4,175.3 181.4,175.2 185.5,175.3 189.6,175.2 193.6,175.2 197.7,175.2 201.7,175.3 205.8,175.4 209.9,175.4 213.9,175.3 218.0,175.3 222.0,175.3 226.1,175.2 230.2,175.2 234.2,175.2 238.3,175.2 242.4,175.2 246.4,175.2 250.5,175.2 254.5,175.2 258.6,175.2 262.7,175.1 266.7,175.1 270.8,175.1 274.8,175.2 278.9,175.2 283.0,175.1 287.0,175.1 291.1,175.2 295.1,175.3 299.2,175.2 303.3,175.2 307.3,175.2 311.4,175.2 315.5,175.1 319.5,175.2 323.6,175.3 327.6,175.2 331.7,175.2" stroke="rgb(74,74,74)"/>
<polyline points="59.6,171.7 63.7,172.5 67.7,173.0 71.8,173.5 75.8,173.8 79.9,174.1 84.0,174.1 88.0,174.1 92.1,174.1 96.2,174.3 100.2,174.4 104.3,174.7 108.3,174.9 112.4,175.1 116.5,175.2 120.5,175.3 124.6,175.3 128.6,175.4 132.7,175.3 136.8,175.3 140.8,175.2 144.9,175.3 148.9,175.3 153.0,175.4 157.1,175.3 161.1,175.3 165.2,175.2 169.3,175.2 173.3,175.1 177.4,175.1 181.4,175.2 185.5,175.2 189.6,175.2 193.6,175.2 197.7,175.1 201.7,175.2 205.8,175.2 209.9,175.3 213.9,175.4 218.0,175.4 222.0,175.3 226.1,175.2 230.2,175.2 234.2,175.3 238.3,175.3 242.4,175.3 246.4,175.3 250.5,175.3 254.5,175.2 258.6,175.2 262.7,175.2 266.7,175.3 270.8,175.3 274.8,175.2 278.9,175.1 283.0,175.3 287.0,175.4 291.1,175.4 295.1,175.3 299.2,175.2 303.3,175.3 307.3,175.2 311.4,175.3 315.5,175.2 319.5,175.4 323.6,175.3 327.6,175.4 331.7,175.4" stroke="rgb(69,69,69)"/>
<polyline points="59.6,170.6 63.7,171.4 67.7,171.8 71.8,172.3 75.8,172.7 79.9,173.0 84.0,173.2 88.0,173.2 92.1,173.3 96.2,173.5 100.2,173.7 104.3,174.0 108.3,174.3 112.4,174.6 116.5,174.8 120.5,174.8 124.6,174.9 128.6,174.9 132.7,174.8 136.8,174.8 140.8,174.8 144.9,175.0 148.9,175.0 153.0,175.0 157.1,174.9 161.1,175.0 165.2,175.0 169.3,175.0 173.3,174.8 177.4,174.9 181.4,174.9 185.5,175.0 189.6,175.0 193.6,175.1 197.7,175.1 201.7,175.2 205.8,175.1 209.9,175.2 213.9,175.0 218.0,174.9 222.0,174.9 226.1,175.1 230.2,175.1 234.2,175.2 238.3,175.1 242.4,175.2 246.4,175.0 250.5,175.0 254.5,175.0 258.6,175.0 262.7,175.0 266.7,174.9 270.8,174.9 274.8,174.8 278.9,175.0 283.0,175.0 287.0,175.1 291.1,175.0 295.1,174.9 299.2,175.0 303.3,175.0 307.3,175.1 311.4,175.1 315.5,175.1 319.5,175.1 323.6,175.0 327.6,175.0 331.7,175.0" stroke="rgb(57,57,57)"/>
<polyline points="59.6,175.1 63.7,175.2 67.7,175.0 71.8,175.0 75.8,175.0 79.9,175.1 84.0,175.0 88.0,175.1 92.1,175.1 96.2,175.2 100.2,175.1 104.3,175.1 108.3,175.0 112.4,175.2 116.5,175.2 120.5,175.3 124.6,175.1 128.6,175.2 132.7,175.2 136.8,175.2 140.8,175.1 144.9,175.1 148.9,175.2 153.0,175.1 157.1,175.2 161.1,175.2 165.2,175.4 169.3,175.4 173.3,175.4 177.4,175.2 181.4,175.3 185.5,175.2 189.6,175.3 193.6,175.1 197.7,175.1 201.7,175.1 205.8,175.2 209.9,175.2 213.9,175.0 218.0,175.1 222.0,175.1 226.1,175.2 230.2,175.2 234.2,175.3 238.3,175.2 242.4,175.2 246.4,175.2 250.5,175.2 254.5,175.3 258.6,175.2 262.7,175.2 266.7,175.2 270.8,175.2 274.8,175.2 278.9,175.2 283.0,175.2 287.0,175.2 291.1,175.2 295.1,175.1 299.2,175.0 303.3,175.0 307.3,175.1 311.4,175.1 315.5,175.2 319.5,175.2 323.6,175.1 327.6,175.1 331.7,175.1" stroke="rgb(36,36,36)"/>
<polyline points="59.6,173.8 63.7,173.9 67.7,174.2 71.8,174.3 75.8,174.5 79.9,174.4 84.0,174.6 88.0,174.5 92.1,174.4 96.2,174.4 100.2,174.5 104.3,174.7 108.3,174.8 112.4,174.9 116.5,175.0 120.5,175.1 124.6,175.0 128.6,175.0 132.7,175.0 136.8,175.1 140.8,175.0 144.9,174.9 148.9,174.9 153.0,175.0 157.1,175.2 161.1,175.1 165.2,175.1 169.3,175.1 173.3,175.2 177.4,175.1 181.4,174.9 185.5,175.0 189.6,175.1 193.6,175.1 197.7,175.1 201.7,175.1 205.8,175.2 209.9,175.1 213.9,175.2 218.0,175.2 222.0,175.2 226.1,175.2 230.2,175.1 234.2,175.1 238.3,175.0 242.4,175.2 246.4,175.2 250.5,175.3 254.5,175.3 258.6,175.2 262.7,175.1 266.7,175.0 270.8,175.1 274.8,175.1 278.9,175.2 283.0,175.1 287.0,175.1 291.1,175.1 295.1,175.0 299.2,175.0 303.3,174.9 307.3,175.0 311.4,175.2 315.5,175.2 319.5,175.2 323.6,175.2 327.6,175.1 331.7,175.0" stroke="rgb(69,69,69)"/>
<polyline points="59.6,174.2 63.7,174.4 67.7,174.6 71.8,174.5 75.8,174.5 79.9,174.3 84.0,174.3 88.0,174.3 92.1,174.2 96.2,174.2 100.2,174.3 104.3,174.6 108.3,174.8 112.4,174.9 116.5,174.9 120.5,174.9 124.6,175.0 128.6,175.1 132.7,175.0 136.8,174.9 140.8,174.8 144.9,174.9 148.9,174.8 153.0,174.9 157.1,174.9 161.1,175.0 165.2,175.0 169.3,175.0 173.3,175.0 177.4,175.0 181.4,175.1 185.5,175.0 189.6,175.1 193.6,175.1 197.7,175.1 201.7,175.0 205.8,175.0 209.9,175.1 213.9,175.0 218.0,175.0 222.0,175.0 226.1,174.9 230.2,175.0 234.2,174.9 238.3,174.9 242.4,174.9 246.4,174.9 250.5,175.0 254.5,175.0 258.6,175.0 262.7,175.0 266.7,175.0 270.8,174.9 274.8,174.9 278.9,174.8 283.0,174.9 287.0,175.0 291.1,174.9 295.1,174.9 299.2,174.9 303.3,175.1 307.3,175.0 311.4,175.0 315.5,174.9 319.5,175.0 323.6,175.0 327.6,175.0 331.7,174.9" stroke="rgb(72,72,72)"/>
<polyline points="59.6,169.9 63.7,170.7 67.7,171.3 71.8,171.8 75.8,172.3 79.9,172.8 84.0,173.3 88.0,173.6 92.1,173.7 96.2,173.8 100.2,174.0 104.3,174.2 108.3,174.4 112.4,174.5 116.5,174.6 120.5,174.8 124.6,174.9 128.6,175.0 132.7,174.9 136.8,174.8 140.8,174.8 144.9,174.8 148.9,175.0 153.0,175.0 157.1,175.1 161.1,175.2 165.2,175.3 169.3,175.3 173.3,175.4 177.4,175.3 181.4,175.3 185.5,175.2 189.6,175.2 193.6,175.1 197.7,175.1 201.7,175.0 205.8,175.0 209.9,175.0 213.9,175.1 218.0,175.3 222.0,175.2 226.1,175.1 230.2,175.0 234.2,175.1 238.3,175.3 242.4,175.3 246.4,175.3 250.5,175.2 254.5,175.3 258.6,175.1 262.7,175.1 266.7,175.1 270.8,175.2 274.8,175.1 278.9,175.1 283.0,175.1 287.0,175.2 291.1,175.2 295.1,175.3 299.2,175.3 303.3,175.3 307.3,175.2 311.4,175.2 315.5,175.3 319.5,175.3 323.6,175.2 327.6,175.2 331.7,175.1" stroke="rgb(41,41,41)"/>
</g>
<path d="M59.60,159.30 V175.40 H331.70" fill="none" stroke="#3a3a3a" stroke-width="0.7"/>
<line x1="59.60" y1="175.40" x2="59.60" y2="173.20" stroke="#3a3a3a" stroke-width="0.6"/>
<text x="60.20" y="189.30" font-size="10.15">-40</text>
<line x1="114.02" y1="175.40" x2="114.02" y2="173.20" stroke="#3a3a3a" stroke-width="0.6"/>
<text x="114.62" y="189.30" font-size="10.15">-20</text>
<line x1="168.44" y1="175.40" x2="168.44" y2="173.20" stroke="#3a3a3a" stroke-width="0.6"/>
<text x="168.44" y="189.30" font-size="10.15">0</text>
<line x1="222.86" y1="175.40" x2="222.86" y2="173.20" stroke="#3a3a3a" stroke-width="0.6"/>
<text x="222.86" y="189.30" font-size="10.15">20</text>
<line x1="277.28" y1="175.40" x2="277.28" y2="173.20" stroke="#3a3a3a" stroke-width="0.6"/>
<text x="277.28" y="189.30" font-size="10.15">40</text>
<line x1="331.70" y1="175.40" x2="331.70" y2="173.20" stroke="#3a3a3a" stroke-width="0.6"/>
<text x="331.70" y="189.30" font-size="10.15">60</text>
<line x1="59.60" y1="162.10" x2="62.00" y2="162.10" stroke="#3a3a3a" stroke-width="0.6"/>
<text x="55.80" y="166.90" font-size="10.15" text-anchor="end">500</text>
<text x="55.80" y="180.40" font-size="10.15" text-anchor="end">0</text>
<text x="195.95" y="156.10" font-size="10.55" font-weight="bold">50 ms post-saccadic delay trials</text>
<line x1="114.02" y1="207.70" x2="114.02" y2="223.80" stroke="#d9d9d9" stroke-width="0.6"/>
<line x1="168.44" y1="207.70" x2="168.44" y2="223.80" stroke="#d9d9d9" stroke-width="0.6"/>
<line x1="222.86" y1="207.70" x2="222.86" y2="223.80" stroke="#d9d9d9" stroke-width="0.6"/>
<line x1="277.28" y1="207.70" x2="277.28" y2="223.80" stroke="#d9d9d9" stroke-width="0.6"/>
<line x1="331.70" y1="207.70" x2="331.70" y2="223.80" stroke="#d9d9d9" stroke-width="0.6"/>
<line x1="59.60" y1="210.50" x2="331.70" y2="210.50" stroke="#d9d9d9" stroke-width="0.6"/>
<rect x="168.44" y="207.70" width="136.55" height="16.10" fill="#c8c8c8"/>
<clipPath id="ca3"><rect x="59.6" y="205.70" width="272.10" height="18.50"/></clipPath>
<g clip-path="url(#ca3)" fill="none" stroke-width="0.62" stroke-linejoin="round">
<polyline points="59.6,223.6 63.7,223.6 67.7,223.7 71.8,223.6 75.8,223.6 79.9,223.6 84.0,223.7 88.0,223.6 92.1,223.7 96.2,223.6 100.2,223.6 104.3,223.6 108.3,223.6 112.4,223.6 116.5,223.7 120.5,223.7 124.6,223.7 128.6,223.6 132.7,223.6 136.8,223.6 140.8,223.6 144.9,223.6 148.9,223.7 153.0,223.6 157.1,223.6 161.1,223.5 165.2,223.6 169.3,223.6 173.3,223.6 177.4,223.6 181.4,223.6 185.5,223.6 189.6,223.6 193.6,223.6 197.7,223.6 201.7,223.6 205.8,223.6 209.9,223.6 213.9,223.6 218.0,223.6 222.0,223.7 226.1,223.6 230.2,223.0 234.2,222.2 238.3,222.4 242.4,223.1 246.4,223.5 250.5,223.6 254.5,223.7 258.6,223.8 262.7,223.7 266.7,223.7 270.8,223.7 274.8,223.7 278.9,223.7 283.0,223.6 287.0,223.6 291.1,223.6 295.1,223.6 299.2,223.7 303.3,223.7 307.3,223.6 311.4,223.3 315.5,222.3 319.5,221.3 323.6,222.0 327.6,223.2 331.7,223.5" stroke="rgb(76,76,76)"/>
<polyline points="59.6,223.6 63.7,223.5 67.7,223.5 71.8,223.5 75.8,223.5 79.9,223.5 84.0,223.5 88.0,223.6 92.1,223.6 96.2,223.6 100.2,223.5 104.3,223.5 108.3,223.5 112.4,223.6 116.5,223.6 120.5,223.6 124.6,223.5 128.6,223.6 132.7,223.5 136.8,223.6 140.8,223.5 144.9,223.5 148.9,223.5 153.0,223.6 157.1,223.5 161.1,223.4 165.2,223.4 169.3,223.5 173.3,223.6 177.4,223.5 181.4,223.5 185.5,223.4 189.6,223.5 193.6,223.5 197.7,223.6 201.7,223.6 205.8,223.5 209.9,223.4 213.9,223.4 218.0,223.5 222.0,223.5 226.1,223.5 230.2,223.5 234.2,223.5 238.3,223.4 242.4,223.5 246.4,223.5 250.5,223.6 254.5,223.5 258.6,223.6 262.7,223.6 266.7,223.5 270.8,223.5 274.8,223.5 278.9,223.6 283.0,223.5 287.0,223.6 291.1,223.6 295.1,223.6 299.2,223.6 303.3,223.5 307.3,223.5 311.4,223.5 315.5,223.5 319.5,223.5 323.6,223.5 327.6,223.5 331.7,223.5" stroke="rgb(55,55,55)"/>
<polyline points="59.6,223.8 63.7,223.8 67.7,223.8 71.8,223.8 75.8,223.7 79.9,223.7 84.0,223.7 88.0,223.7 92.1,223.8 96.2,223.8 100.2,223.7 104.3,223.7 108.3,223.6 112.4,223.7 116.5,223.8 120.5,223.8 124.6,223.8 128.6,223.8 132.7,223.7 136.8,223.7 140.8,223.7 144.9,223.7 148.9,223.5 153.0,223.1 157.1,222.3 161.1,222.2 165.2,222.8 169.3,223.5 173.3,223.7 177.4,223.8 181.4,223.7 185.5,223.6 189.6,223.3 193.6,223.0 197.7,222.6 201.7,222.5 205.8,222.7 209.9,223.1 213.9,223.4 218.0,223.7 222.0,223.8 226.1,223.8 230.2,223.8 234.2,223.8 238.3,223.8 242.4,223.8 246.4,223.7 250.5,223.7 254.5,223.8 258.6,223.8 262.7,223.8 266.7,223.8 270.8,223.7 274.8,223.6 278.9,223.7 283.0,223.8 287.0,223.8 291.1,223.8 295.1,223.7 299.2,223.7 303.3,223.7 307.3,223.7 311.4,223.7 315.5,223.8 319.5,223.8 323.6,223.8 327.6,223.8 331.7,223.8" stroke="rgb(36,36,36)"/>
<polyline points="59.6,223.6 63.7,223.5 67.7,223.6 71.8,223.6 75.8,223.6 79.9,223.6 84.0,223.7 88.0,223.8 92.1,223.8 96.2,223.7 100.2,223.7 104.3,223.5 108.3,223.2 112.4,222.6 116.5,222.6 120.5,223.0 124.6,223.5 128.6,223.6 132.7,223.7 136.8,223.6 140.8,223.6 144.9,223.6 148.9,223.6 153.0,223.6 157.1,223.6 161.1,223.5 165.2,223.6 169.3,223.7 173.3,223.7 177.4,223.6 181.4,223.6 185.5,223.7 189.6,223.6 193.6,223.6 197.7,223.6 201.7,223.6 205.8,223.6 209.9,223.7 213.9,223.6 218.0,223.7 222.0,223.6 226.1,223.6 230.2,223.6 234.2,223.6 238.3,223.6 242.4,223.5 246.4,223.5 250.5,223.6 254.5,223.6 258.6,223.7 262.7,223.7 266.7,223.7 270.8,223.7 274.8,223.7 278.9,223.7 283.0,223.7 287.0,223.6 291.1,223.6 295.1,223.7 299.2,223.7 303.3,223.6 307.3,223.7 311.4,223.7 315.5,223.7 319.5,223.7 323.6,223.6 327.6,223.6 331.7,223.6" stroke="rgb(53,53,53)"/>
<polyline points="59.6,223.6 63.7,223.6 67.7,223.6 71.8,223.6 75.8,223.7 79.9,223.7 84.0,223.7 88.0,223.6 92.1,223.6 96.2,223.6 100.2,223.5 104.3,223.5 108.3,223.5 112.4,223.5 116.5,223.5 120.5,223.6 124.6,223.6 128.6,223.6 132.7,223.7 136.8,223.6 140.8,223.6 144.9,223.6 148.9,223.7 153.0,223.7 157.1,223.6 161.1,223.6 165.2,223.7 169.3,223.7 173.3,223.6 177.4,223.6 181.4,223.6 185.5,223.6 189.6,223.7 193.6,223.5 197.7,223.3 201.7,222.7 205.8,222.1 209.9,221.7 213.9,221.7 218.0,222.0 222.0,222.6 226.1,223.1 230.2,223.5 234.2,223.6 238.3,223.7 242.4,223.7 246.4,223.6 250.5,223.6 254.5,223.7 258.6,223.7 262.7,223.7 266.7,223.7 270.8,223.6 274.8,223.5 278.9,223.5 283.0,223.5 287.0,223.6 291.1,223.6 295.1,223.7 299.2,223.6 303.3,223.6 307.3,223.5 311.4,223.5 315.5,223.6 319.5,223.6 323.6,223.6 327.6,223.5 331.7,223.5" stroke="rgb(69,69,69)"/>
<polyline points="59.6,223.8 63.7,223.7 67.7,223.6 71.8,223.6 75.8,223.6 79.9,223.6 84.0,223.6 88.0,223.6 92.1,223.6 96.2,223.6 100.2,223.7 104.3,223.6 108.3,223.7 112.4,223.6 116.5,223.6 120.5,223.5 124.6,223.5 128.6,223.6 132.7,223.6 136.8,223.7 140.8,223.6 144.9,223.6 148.9,223.6 153.0,223.6 157.1,223.7 161.1,223.6 165.2,223.7 169.3,223.7 173.3,223.6 177.4,223.6 181.4,223.6 185.5,223.6 189.6,223.7 193.6,223.7 197.7,223.7 201.7,223.6 205.8,223.6 209.9,223.6 213.9,223.6 218.0,223.6 222.0,223.6 226.1,223.7 230.2,223.6 234.2,223.7 238.3,223.6 242.4,223.6 246.4,223.5 250.5,223.5 254.5,223.6 258.6,223.7 262.7,223.7 266.7,223.7 270.8,223.7 274.8,223.7 278.9,223.6 283.0,223.6 287.0,223.6 291.1,223.6 295.1,223.6 299.2,223.5 303.3,223.6 307.3,223.6 311.4,223.6 315.5,223.6 319.5,223.7 323.6,223.7 327.6,223.7 331.7,223.7" stroke="rgb(51,51,51)"/>
<polyline points="59.6,223.5 63.7,223.6 67.7,223.5 71.8,223.6 75.8,223.6 79.9,223.6 84.0,223.6 88.0,223.6 92.1,223.6 96.2,223.6 100.2,223.6 104.3,223.7 108.3,223.7 112.4,223.7 116.5,223.6 120.5,223.6 124.6,223.6 128.6,223.7 132.7,223.6 136.8,223.7 140.8,223.6 144.9,223.6 148.9,223.6 153.0,223.6 157.1,223.6 161.1,223.5 165.2,223.6 169.3,223.7 173.3,223.7 177.4,223.7 181.4,223.6 185.5,223.7 189.6,223.7 193.6,223.7 197.7,223.6 201.7,223.4 205.8,223.2 209.9,222.8 213.9,222.6 218.0,222.9 222.0,223.3 226.1,223.5 230.2,223.6 234.2,223.6 238.3,223.5 242.4,223.5 246.4,223.6 250.5,223.6 254.5,223.6 258.6,223.5 262.7,223.6 266.7,223.5 270.8,223.6 274.8,223.6 278.9,223.6 283.0,223.6 287.0,223.7 291.1,223.7 295.1,223.6 299.2,223.6 303.3,223.6 307.3,223.5 311.4,223.5 315.5,223.5 319.5,223.6 323.6,223.6 327.6,223.7 331.7,223.6" stroke="rgb(31,31,31)"/>
<polyline points="59.6,223.7 63.7,223.7 67.7,223.6 71.8,223.6 75.8,223.5 79.9,223.5 84.0,223.5 88.0,223.5 92.1,223.6 96.2,223.6 100.2,223.6 104.3,223.6 108.3,223.6 112.4,223.6 116.5,223.6 120.5,223.6 124.6,223.6 128.6,223.6 132.7,223.6 136.8,223.7 140.8,223.7 144.9,223.7 148.9,223.6 153.0,223.6 157.1,223.6 161.1,223.7 165.2,223.7 169.3,223.6 173.3,223.6 177.4,223.6 181.4,223.6 185.5,223.6 189.6,223.5 193.6,223.5 197.7,223.7 201.7,223.7 205.8,223.7 209.9,223.6 213.9,223.6 218.0,223.7 222.0,223.6 226.1,223.5 230.2,223.5 234.2,223.6 238.3,223.7 242.4,223.7 246.4,223.6 250.5,223.6 254.5,223.6 258.6,223.4 262.7,222.7 266.7,221.8 270.8,221.8 274.8,222.6 278.9,223.3 283.0,223.6 287.0,223.7 291.1,223.7 295.1,223.7 299.2,223.7 303.3,223.6 307.3,223.6 311.4,223.6 315.5,223.3 319.5,223.1 323.6,222.6 327.6,222.3 331.7,222.4" stroke="rgb(26,26,26)"/>
<polyline points="59.6,223.6 63.7,223.7 67.7,223.7 71.8,223.7 75.8,223.7 79.9,223.6 84.0,223.5 88.0,223.5 92.1,223.6 96.2,223.6 100.2,223.6 104.3,223.5 108.3,223.5 112.4,223.5 116.5,223.6 120.5,223.7 124.6,223.7 128.6,223.7 132.7,223.6 136.8,223.5 140.8,223.5 144.9,223.5 148.9,223.5 153.0,223.5 157.1,223.6 161.1,223.6 165.2,223.6 169.3,223.6 173.3,223.7 177.4,223.7 181.4,223.7 185.5,223.6 189.6,223.6 193.6,223.7 197.7,223.6 201.7,223.6 205.8,223.6 209.9,223.6 213.9,223.5 218.0,223.5 222.0,223.4 226.1,223.5 230.2,223.5 234.2,223.6 238.3,223.6 242.4,223.7 246.4,223.6 250.5,223.6 254.5,223.5 258.6,223.5 262.7,223.5 266.7,223.6 270.8,223.6 274.8,223.6 278.9,223.6 283.0,223.5 287.0,223.6 291.1,223.5 295.1,223.6 299.2,223.6 303.3,223.6 307.3,223.6 311.4,223.6 315.5,223.7 319.5,223.6 323.6,223.6 327.6,223.6 331.7,223.5" stroke="rgb(39,39,39)"/>
<polyline points="59.6,223.7 63.7,223.7 67.7,223.6 71.8,223.7 75.8,223.6 79.9,223.6 84.0,223.6 88.0,223.6 92.1,223.7 96.2,223.6 100.2,223.7 104.3,223.6 108.3,223.4 112.4,223.1 116.5,222.8 120.5,222.6 124.6,222.7 128.6,223.1 132.7,223.4 136.8,223.6 140.8,223.6 144.9,223.7 148.9,223.7 153.0,223.7 157.1,223.7 161.1,223.7 165.2,223.8 169.3,223.7 173.3,223.8 177.4,223.7 181.4,223.8 185.5,223.8 189.6,223.8 193.6,223.7 197.7,223.6 201.7,223.6 205.8,223.7 209.9,223.6 213.9,223.7 218.0,223.6 222.0,223.7 226.1,223.7 230.2,223.8 234.2,223.7 238.3,223.7 242.4,223.6 246.4,223.7 250.5,223.7 254.5,223.7 258.6,223.7 262.7,223.6 266.7,223.6 270.8,223.6 274.8,223.7 278.9,223.7 283.0,223.8 287.0,223.7 291.1,223.8 295.1,223.7 299.2,223.7 303.3,223.8 307.3,223.7 311.4,223.7 315.5,223.6 319.5,223.7 323.6,223.7 327.6,223.7 331.7,223.7" stroke="rgb(27,27,27)"/>
<polyline points="59.6,223.6 63.7,223.6 67.7,223.6 71.8,223.6 75.8,223.6 79.9,223.6 84.0,223.5 88.0,223.6 92.1,223.6 96.2,223.6 100.2,223.6 104.3,223.6 108.3,223.6 112.4,223.6 116.5,223.6 120.5,223.5 124.6,223.5 128.6,223.5 132.7,223.5 136.8,223.6 140.8,223.6 144.9,223.6 148.9,223.6 153.0,223.6 157.1,223.6 161.1,223.5 165.2,223.6 169.3,223.6 173.3,223.7 177.4,223.7 181.4,223.6 185.5,223.5 189.6,223.6 193.6,223.6 197.7,223.6 201.7,223.6 205.8,223.6 209.9,223.6 213.9,223.6 218.0,223.5 222.0,223.6 226.1,223.5 230.2,223.6 234.2,223.6 238.3,223.7 242.4,223.5 246.4,223.6 250.5,223.6 254.5,223.6 258.6,223.6 262.7,223.6 266.7,223.6 270.8,223.5 274.8,223.5 278.9,223.6 283.0,223.5 287.0,223.5 291.1,223.5 295.1,223.5 299.2,223.5 303.3,223.6 307.3,223.6 311.4,223.6 315.5,223.6 319.5,223.6 323.6,223.6 327.6,223.6 331.7,223.6" stroke="rgb(61,61,61)"/>
<polyline points="59.6,223.7 63.7,223.7 67.7,223.6 71.8,223.6 75.8,223.6 79.9,223.7 84.0,223.6 88.0,223.6 92.1,223.6 96.2,223.6 100.2,223.6 104.3,223.7 108.3,223.7 112.4,223.8 116.5,223.8 120.5,223.7 124.6,223.7 128.6,223.7 132.7,223.7 136.8,223.7 140.8,223.7 144.9,223.7 148.9,223.8 153.0,223.7 157.1,223.7 161.1,223.6 165.2,223.7 169.3,223.7 173.3,223.6 177.4,223.6 181.4,223.6 185.5,223.7 189.6,223.7 193.6,223.7 197.7,223.6 201.7,223.6 205.8,223.6 209.9,223.7 213.9,223.7 218.0,223.7 222.0,223.7 226.1,223.7 230.2,223.7 234.2,223.7 238.3,223.7 242.4,223.7 246.4,223.6 250.5,223.7 254.5,223.6 258.6,223.4 262.7,222.8 266.7,222.0 270.8,221.3 274.8,221.5 278.9,222.0 283.0,222.1 287.0,221.9 291.1,222.4 295.1,223.1 299.2,223.6 303.3,223.7 307.3,223.7 311.4,223.7 315.5,223.6 319.5,223.7 323.6,223.6 327.6,223.7 331.7,223.6" stroke="rgb(54,54,54)"/>
<polyline points="59.6,223.7 63.7,223.7 67.7,223.7 71.8,223.7 75.8,223.7 79.9,223.7 84.0,223.6 88.0,223.7 92.1,223.7 96.2,223.8 100.2,223.7 104.3,223.6 108.3,223.2 112.4,222.9 116.5,222.7 120.5,222.9 124.6,223.3 128.6,223.4 132.7,223.6 136.8,223.6 140.8,223.7 144.9,223.6 148.9,223.7 153.0,223.8 157.1,223.8 161.1,223.7 165.2,223.6 169.3,223.6 173.3,223.6 177.4,223.5 181.4,223.1 185.5,222.6 189.6,222.2 193.6,222.3 197.7,222.8 201.7,223.3 205.8,223.5 209.9,223.6 213.9,223.6 218.0,223.7 222.0,223.7 226.1,223.7 230.2,223.7 234.2,223.7 238.3,223.7 242.4,223.8 246.4,223.7 250.5,223.7 254.5,223.7 258.6,223.7 262.7,223.7 266.7,223.8 270.8,223.7 274.8,223.8 278.9,223.6 283.0,223.7 287.0,223.7 291.1,223.8 295.1,223.8 299.2,223.8 303.3,223.7 307.3,223.7 311.4,223.6 315.5,223.7 319.5,223.7 323.6,223.7 327.6,223.7 331.7,223.6" stroke="rgb(56,56,56)"/>
<polyline points="59.6,223.8 63.7,223.7 67.7,223.6 71.8,223.7 75.8,223.8 79.9,223.7 84.0,223.7 88.0,223.7 92.1,223.7 96.2,223.8 100.2,223.8 104.3,223.8 108.3,223.8 112.4,223.8 116.5,223.7 120.5,223.7 124.6,223.7 128.6,223.8 132.7,223.8 136.8,223.8 140.8,223.8 144.9,223.8 148.9,223.8 153.0,223.8 157.1,223.8 161.1,223.8 165.2,223.8 169.3,223.8 173.3,223.8 177.4,223.8 181.4,223.8 185.5,223.8 189.6,223.8 193.6,223.8 197.7,223.8 201.7,223.7 205.8,223.7 209.9,223.7 213.9,223.8 218.0,223.8 222.0,223.8 226.1,223.8 230.2,223.8 234.2,223.8 238.3,223.8 242.4,223.8 246.4,223.7 250.5,223.7 254.5,223.7 258.6,223.8 262.7,223.8 266.7,223.7 270.8,223.0 274.8,221.7 278.9,221.0 283.0,221.5 287.0,221.9 291.1,221.6 295.1,221.6 299.2,222.0 303.3,222.7 307.3,223.3 311.4,223.5 315.5,223.7 319.5,223.7 323.6,223.8 327.6,223.7 331.7,223.8" stroke="rgb(76,76,76)"/>
<polyline points="59.6,223.6 63.7,223.7 67.7,223.6 71.8,223.6 75.8,223.6 79.9,223.7 84.0,223.6 88.0,223.6 92.1,223.5 96.2,223.6 100.2,223.6 104.3,223.6 108.3,223.6 112.4,223.6 116.5,223.6 120.5,223.6 124.6,223.6 128.6,223.6 132.7,223.6 136.8,223.6 140.8,223.6 144.9,223.6 148.9,223.6 153.0,223.5 157.1,223.2 161.1,222.8 165.2,222.5 169.3,222.5 173.3,223.0 177.4,223.3 181.4,223.5 185.5,223.6 189.6,223.6 193.6,223.6 197.7,223.6 201.7,223.6 205.8,223.6 209.9,223.6 213.9,223.6 218.0,223.6 222.0,223.6 226.1,223.6 230.2,223.7 234.2,223.6 238.3,223.6 242.4,223.6 246.4,223.6 250.5,223.6 254.5,223.6 258.6,223.5 262.7,223.5 266.7,223.5 270.8,223.5 274.8,223.5 278.9,223.5 283.0,223.5 287.0,223.5 291.1,223.6 295.1,223.6 299.2,223.6 303.3,223.6 307.3,223.7 311.4,223.7 315.5,223.6 319.5,223.5 323.6,223.4 327.6,223.4 331.7,223.5" stroke="rgb(32,32,32)"/>
<polyline points="59.6,223.8 63.7,223.8 67.7,223.8 71.8,223.8 75.8,223.8 79.9,223.8 84.0,223.8 88.0,223.7 92.1,223.7 96.2,223.7 100.2,223.7 104.3,223.7 108.3,223.7 112.4,223.8 116.5,223.8 120.5,223.8 124.6,223.8 128.6,223.8 132.7,223.8 136.8,223.8 140.8,223.8 144.9,223.8 148.9,223.8 153.0,223.8 157.1,223.8 161.1,223.8 165.2,223.8 169.3,223.8 173.3,223.8 177.4,223.8 181.4,223.7 185.5,223.8 189.6,223.7 193.6,223.7 197.7,223.7 201.7,223.7 205.8,223.8 209.9,223.8 213.9,223.8 218.0,223.8 222.0,223.8 226.1,223.8 230.2,223.8 234.2,223.8 238.3,223.8 242.4,223.8 246.4,223.8 250.5,223.8 254.5,223.8 258.6,223.8 262.7,223.7 266.7,223.7 270.8,223.8 274.8,223.7 278.9,223.8 283.0,223.7 287.0,223.8 291.1,223.8 295.1,223.8 299.2,223.8 303.3,223.7 307.3,223.7 311.4,223.8 315.5,223.8 319.5,223.8 323.6,223.8 327.6,223.7 331.7,223.7" stroke="rgb(26,26,26)"/>
<polyline points="59.6,223.6 63.7,223.6 67.7,223.5 71.8,223.5 75.8,223.6 79.9,223.6 84.0,223.6 88.0,223.7 92.1,223.6 96.2,223.6 100.2,223.6 104.3,223.5 108.3,223.5 112.4,223.5 116.5,223.5 120.5,223.5 124.6,223.5 128.6,223.5 132.7,223.5 136.8,223.6 140.8,223.6 144.9,223.6 148.9,223.5 153.0,223.4 157.1,223.5 161.1,223.5 165.2,223.6 169.3,223.6 173.3,223.6 177.4,223.6 181.4,223.6 185.5,223.6 189.6,223.5 193.6,223.6 197.7,223.5 201.7,223.5 205.8,223.5 209.9,223.5 213.9,223.6 218.0,223.6 222.0,223.6 226.1,223.6 230.2,223.6 234.2,223.5 238.3,223.4 242.4,223.4 246.4,223.5 250.5,223.6 254.5,223.5 258.6,223.6 262.7,223.6 266.7,223.6 270.8,223.5 274.8,223.5 278.9,223.6 283.0,223.6 287.0,223.6 291.1,223.7 295.1,223.6 299.2,223.6 303.3,223.5 307.3,223.4 311.4,223.4 315.5,223.4 319.5,223.3 323.6,223.0 327.6,221.9 331.7,221.6" stroke="rgb(61,61,61)"/>
<polyline points="59.6,223.6 63.7,223.7 67.7,223.6 71.8,223.6 75.8,223.6 79.9,223.6 84.0,223.6 88.0,223.6 92.1,223.6 96.2,223.6 100.2,223.6 104.3,223.6 108.3,223.5 112.4,223.4 116.5,223.5 120.5,223.5 124.6,223.6 128.6,223.6 132.7,223.6 136.8,223.6 140.8,223.5 144.9,223.5 148.9,223.5 153.0,223.6 157.1,223.6 161.1,223.6 165.2,223.5 169.3,223.5 173.3,223.5 177.4,223.5 181.4,223.6 185.5,223.5 189.6,223.5 193.6,223.5 197.7,223.4 201.7,223.0 205.8,222.5 209.9,222.0 213.9,221.9 218.0,222.1 222.0,222.6 226.1,223.1 230.2,223.4 234.2,223.6 238.3,223.6 242.4,223.6 246.4,223.6 250.5,223.6 254.5,223.6 258.6,223.6 262.7,223.6 266.7,223.5 270.8,223.5 274.8,223.2 278.9,222.8 283.0,222.1 287.0,221.4 291.1,221.3 295.1,221.7 299.2,222.4 303.3,223.0 307.3,223.4 311.4,223.6 315.5,223.6 319.5,223.6 323.6,223.6 327.6,223.6 331.7,223.5" stroke="rgb(29,29,29)"/>
<polyline points="59.6,223.8 63.7,223.8 67.7,223.8 71.8,223.8 75.8,223.8 79.9,223.8 84.0,223.7 88.0,223.8 92.1,223.8 96.2,223.8 100.2,223.8 104.3,223.8 108.3,223.7 112.4,223.7 116.5,223.6 120.5,223.0 124.6,221.8 128.6,221.3 132.7,222.2 136.8,223.3 140.8,223.8 144.9,223.8 148.9,223.7 153.0,223.8 157.1,223.8 161.1,223.8 165.2,223.8 169.3,223.8 173.3,223.8 177.4,223.8 181.4,223.8 185.5,223.8 189.6,223.8 193.6,223.8 197.7,223.8 201.7,223.8 205.8,223.8 209.9,223.8 213.9,223.8 218.0,223.8 222.0,223.8 226.1,223.8 230.2,223.8 234.2,223.8 238.3,223.8 242.4,223.8 246.4,223.8 250.5,223.8 254.5,223.8 258.6,223.7 262.7,223.7 266.7,223.8 270.8,223.7 274.8,223.5 278.9,222.8 283.0,221.8 287.0,221.4 291.1,222.0 295.1,222.9 299.2,223.4 303.3,223.6 307.3,223.7 311.4,223.7 315.5,223.7 319.5,223.8 323.6,223.8 327.6,223.8 331.7,223.8" stroke="rgb(52,52,52)"/>
<polyline points="59.6,223.4 63.7,223.4 67.7,223.5 71.8,223.5 75.8,223.5 79.9,223.5 84.0,223.5 88.0,223.5 92.1,223.6 96.2,223.6 100.2,223.6 104.3,223.6 108.3,223.5 112.4,223.6 116.5,223.6 120.5,223.6 124.6,223.6 128.6,223.5 132.7,223.6 136.8,223.6 140.8,223.6 144.9,223.6 148.9,223.6 153.0,223.6 157.1,223.6 161.1,223.6 165.2,223.5 169.3,223.5 173.3,223.5 177.4,223.6 181.4,223.6 185.5,223.6 189.6,223.6 193.6,223.6 197.7,223.6 201.7,223.6 205.8,223.6 209.9,223.6 213.9,223.7 218.0,223.6 222.0,223.6 226.1,223.6 230.2,223.5 234.2,223.5 238.3,223.7 242.4,223.6 246.4,223.6 250.5,223.5 254.5,223.5 258.6,223.5 262.7,223.5 266.7,223.5 270.8,223.6 274.8,223.5 278.9,223.5 283.0,223.6 287.0,223.6 291.1,223.6 295.1,223.6 299.2,223.7 303.3,223.6 307.3,223.5 311.4,223.2 315.5,222.5 319.5,221.6 323.6,221.2 327.6,221.7 331.7,222.6" stroke="rgb(51,51,51)"/>
<polyline points="59.6,223.5 63.7,223.5 67.7,223.6 71.8,223.7 75.8,223.8 79.9,223.7 84.0,223.7 88.0,223.7 92.1,223.7 96.2,223.7 100.2,223.7 104.3,223.6 108.3,223.5 112.4,223.5 116.5,223.6 120.5,223.7 124.6,223.6 128.6,223.6 132.7,223.6 136.8,223.7 140.8,223.7 144.9,223.6 148.9,223.6 153.0,223.7 157.1,223.7 161.1,223.8 165.2,223.7 169.3,223.7 173.3,223.7 177.4,223.7 181.4,223.7 185.5,223.7 189.6,223.7 193.6,223.7 197.7,223.6 201.7,223.6 205.8,223.7 209.9,223.7 213.9,223.6 218.0,223.6 222.0,223.6 226.1,223.6 230.2,223.6 234.2,223.6 238.3,223.6 242.4,223.7 246.4,223.6 250.5,223.6 254.5,223.6 258.6,223.6 262.7,223.6 266.7,223.6 270.8,223.6 274.8,223.6 278.9,223.6 283.0,223.3 287.0,222.5 291.1,222.1 295.1,222.7 299.2,223.4 303.3,223.5 307.3,223.6 311.4,223.7 315.5,223.7 319.5,223.6 323.6,223.6 327.6,223.6 331.7,223.6" stroke="rgb(29,29,29)"/>
<polyline points="59.6,223.7 63.7,223.7 67.7,223.8 71.8,223.7 75.8,223.8 79.9,223.8 84.0,223.8 88.0,223.7 92.1,223.7 96.2,223.7 100.2,223.7 104.3,223.7 108.3,223.7 112.4,223.7 116.5,223.7 120.5,223.7 124.6,223.7 128.6,223.7 132.7,223.8 136.8,223.8 140.8,223.8 144.9,223.8 148.9,223.7 153.0,223.7 157.1,223.6 161.1,223.7 165.2,223.7 169.3,223.7 173.3,223.7 177.4,223.8 181.4,223.8 185.5,223.8 189.6,223.8 193.6,223.8 197.7,223.8 201.7,223.6 205.8,223.7 209.9,223.7 213.9,223.8 218.0,223.7 222.0,223.7 226.1,223.6 230.2,223.2 234.2,222.3 238.3,221.7 242.4,222.0 246.4,222.9 250.5,223.5 254.5,223.7 258.6,223.7 262.7,223.7 266.7,223.6 270.8,223.6 274.8,223.7 278.9,223.7 283.0,223.7 287.0,223.8 291.1,223.8 295.1,223.8 299.2,223.8 303.3,223.7 307.3,223.7 311.4,223.7 315.5,223.7 319.5,223.7 323.6,223.8 327.6,223.8 331.7,223.8" stroke="rgb(39,39,39)"/>
<polyline points="59.6,223.7 63.7,223.7 67.7,223.7 71.8,223.6 75.8,223.6 79.9,223.6 84.0,223.5 88.0,223.5 92.1,223.5 96.2,223.6 100.2,223.5 104.3,223.5 108.3,223.5 112.4,223.5 116.5,223.5 120.5,223.5 124.6,223.4 128.6,223.5 132.7,223.5 136.8,223.5 140.8,223.5 144.9,223.5 148.9,223.6 153.0,223.6 157.1,223.6 161.1,223.7 165.2,223.6 169.3,223.5 173.3,223.5 177.4,223.5 181.4,223.5 185.5,223.5 189.6,223.5 193.6,223.6 197.7,223.5 201.7,223.5 205.8,223.5 209.9,223.5 213.9,223.5 218.0,223.5 222.0,223.5 226.1,223.5 230.2,223.5 234.2,223.5 238.3,223.4 242.4,223.5 246.4,223.5 250.5,223.5 254.5,223.5 258.6,223.5 262.7,223.5 266.7,223.6 270.8,223.6 274.8,223.6 278.9,223.5 283.0,223.5 287.0,223.3 291.1,222.9 295.1,222.2 299.2,221.1 303.3,219.7 307.3,218.3 311.4,217.4 315.5,217.1 319.5,217.6 323.6,218.4 327.6,219.2 331.7,219.6" stroke="rgb(66,66,66)"/>
<polyline points="59.6,223.4 63.7,223.5 67.7,223.5 71.8,223.6 75.8,223.6 79.9,223.5 84.0,223.5 88.0,223.5 92.1,223.5 96.2,223.5 100.2,223.5 104.3,223.5 108.3,223.5 112.4,223.4 116.5,223.5 120.5,223.7 124.6,223.7 128.6,223.5 132.7,223.4 136.8,223.5 140.8,223.6 144.9,223.6 148.9,223.7 153.0,223.6 157.1,223.7 161.1,223.6 165.2,223.6 169.3,223.5 173.3,223.4 177.4,223.4 181.4,223.5 185.5,223.5 189.6,223.6 193.6,223.6 197.7,223.6 201.7,223.6 205.8,223.6 209.9,223.6 213.9,223.6 218.0,223.5 222.0,223.4 226.1,223.4 230.2,223.5 234.2,223.5 238.3,223.5 242.4,223.5 246.4,223.4 250.5,223.5 254.5,223.5 258.6,223.5 262.7,223.5 266.7,223.6 270.8,223.6 274.8,223.6 278.9,223.6 283.0,223.4 287.0,223.4 291.1,223.3 295.1,223.0 299.2,222.5 303.3,221.8 307.3,221.0 311.4,220.1 315.5,219.2 319.5,218.8 323.6,218.9 327.6,219.4 331.7,219.9" stroke="rgb(61,61,61)"/>
<polyline points="59.6,223.5 63.7,223.5 67.7,223.4 71.8,223.5 75.8,223.5 79.9,223.6 84.0,223.5 88.0,223.5 92.1,223.6 96.2,223.6 100.2,223.6 104.3,223.6 108.3,223.6 112.4,223.4 116.5,223.4 120.5,223.4 124.6,223.5 128.6,223.5 132.7,223.5 136.8,223.5 140.8,223.6 144.9,223.6 148.9,223.5 153.0,223.6 157.1,223.5 161.1,223.6 165.2,223.5 169.3,223.5 173.3,223.5 177.4,223.6 181.4,223.5 185.5,223.6 189.6,223.5 193.6,223.6 197.7,223.6 201.7,223.6 205.8,223.5 209.9,223.5 213.9,223.6 218.0,223.6 222.0,223.6 226.1,223.6 230.2,223.5 234.2,223.5 238.3,223.5 242.4,223.5 246.4,223.4 250.5,223.6 254.5,223.6 258.6,223.6 262.7,223.5 266.7,223.6 270.8,223.4 274.8,223.3 278.9,223.0 283.0,222.8 287.0,222.5 291.1,222.1 295.1,221.7 299.2,221.1 303.3,220.7 307.3,220.2 311.4,220.1 315.5,220.2 319.5,220.5 323.6,220.9 327.6,221.2 331.7,221.5" stroke="rgb(70,70,70)"/>
<polyline points="59.6,223.5 63.7,223.6 67.7,223.7 71.8,223.7 75.8,223.6 79.9,223.6 84.0,223.5 88.0,223.4 92.1,223.4 96.2,223.5 100.2,223.6 104.3,223.6 108.3,223.6 112.4,223.6 116.5,223.6 120.5,223.5 124.6,223.5 128.6,223.5 132.7,223.5 136.8,223.5 140.8,223.6 144.9,223.6 148.9,223.6 153.0,223.6 157.1,223.5 161.1,223.4 165.2,223.4 169.3,223.4 173.3,223.6 177.4,223.6 181.4,223.6 185.5,223.6 189.6,223.7 193.6,223.6 197.7,222.9 201.7,221.4 205.8,220.9 209.9,222.1 213.9,223.2 218.0,223.5 222.0,223.5 226.1,223.6 230.2,223.6 234.2,223.5 238.3,223.6 242.4,223.7 246.4,223.7 250.5,223.6 254.5,223.4 258.6,223.4 262.7,223.6 266.7,223.6 270.8,223.6 274.8,223.7 278.9,223.7 283.0,223.7 287.0,223.7 291.1,223.7 295.1,223.6 299.2,223.6 303.3,223.6 307.3,223.5 311.4,223.4 315.5,223.4 319.5,223.5 323.6,223.5 327.6,223.5 331.7,223.5" stroke="rgb(61,61,61)"/>
<polyline points="59.6,223.5 63.7,223.5 67.7,223.6 71.8,223.5 75.8,223.5 79.9,223.5 84.0,223.5 88.0,223.5 92.1,223.5 96.2,223.5 100.2,223.5 104.3,223.4 108.3,223.5 112.4,223.6 116.5,223.6 120.5,223.6 124.6,223.5 128.6,223.6 132.7,223.6 136.8,223.6 140.8,223.6 144.9,223.5 148.9,223.5 153.0,223.5 157.1,223.6 161.1,223.6 165.2,223.6 169.3,223.5 173.3,223.6 177.4,223.6 181.4,223.6 185.5,223.6 189.6,223.6 193.6,223.7 197.7,223.6 201.7,223.6 205.8,223.5 209.9,223.5 213.9,223.5 218.0,223.5 222.0,223.5 226.1,223.5 230.2,223.4 234.2,222.8 238.3,221.9 242.4,221.5 246.4,222.1 250.5,223.0 254.5,223.4 258.6,223.6 262.7,223.6 266.7,223.7 270.8,223.6 274.8,223.5 278.9,223.5 283.0,223.6 287.0,223.6 291.1,223.6 295.1,223.6 299.2,223.6 303.3,223.6 307.3,223.5 311.4,223.5 315.5,223.5 319.5,223.6 323.6,223.6 327.6,223.6 331.7,223.5" stroke="rgb(58,58,58)"/>
<polyline points="59.6,223.6 63.7,223.7 67.7,223.7 71.8,223.7 75.8,223.7 79.9,223.6 84.0,223.5 88.0,223.4 92.1,223.4 96.2,223.4 100.2,223.4 104.3,223.5 108.3,223.5 112.4,223.6 116.5,223.5 120.5,223.5 124.6,223.5 128.6,223.5 132.7,223.5 136.8,223.5 140.8,223.6 144.9,223.5 148.9,223.6 153.0,223.5 157.1,223.5 161.1,223.5 165.2,223.5 169.3,223.5 173.3,223.6 177.4,223.6 181.4,223.7 185.5,223.7 189.6,223.6 193.6,223.6 197.7,223.6 201.7,223.6 205.8,223.4 209.9,223.4 213.9,223.4 218.0,223.6 222.0,223.5 226.1,223.6 230.2,223.6 234.2,223.8 238.3,223.7 242.4,223.7 246.4,223.6 250.5,223.6 254.5,223.5 258.6,223.5 262.7,223.5 266.7,223.5 270.8,223.6 274.8,223.5 278.9,223.1 283.0,222.3 287.0,221.2 291.1,220.7 295.1,221.0 299.2,221.6 303.3,222.3 307.3,222.6 311.4,222.8 315.5,222.8 319.5,222.8 323.6,222.9 327.6,222.9 331.7,222.9" stroke="rgb(32,32,32)"/>
</g>
<path d="M59.60,207.70 V223.80 H331.70" fill="none" stroke="#3a3a3a" stroke-width="0.7"/>
<line x1="59.60" y1="223.80" x2="59.60" y2="221.60" stroke="#3a3a3a" stroke-width="0.6"/>
<text x="60.20" y="237.70" font-size="10.15">-40</text>
<line x1="114.02" y1="223.80" x2="114.02" y2="221.60" stroke="#3a3a3a" stroke-width="0.6"/>
<text x="114.62" y="237.70" font-size="10.15">-20</text>
<line x1="168.44" y1="223.80" x2="168.44" y2="221.60" stroke="#3a3a3a" stroke-width="0.6"/>
<text x="168.44" y="237.70" font-size="10.15">0</text>
<line x1="222.86" y1="223.80" x2="222.86" y2="221.60" stroke="#3a3a3a" stroke-width="0.6"/>
<text x="222.86" y="237.70" font-size="10.15">20</text>
<line x1="277.28" y1="223.80" x2="277.28" y2="221.60" stroke="#3a3a3a" stroke-width="0.6"/>
<text x="277.28" y="237.70" font-size="10.15">40</text>
<line x1="331.70" y1="223.80" x2="331.70" y2="221.60" stroke="#3a3a3a" stroke-width="0.6"/>
<text x="331.70" y="237.70" font-size="10.15">60</text>
<line x1="59.60" y1="210.50" x2="62.00" y2="210.50" stroke="#3a3a3a" stroke-width="0.6"/>
<text x="55.80" y="215.30" font-size="10.15" text-anchor="end">500</text>
<text x="55.80" y="228.80" font-size="10.15" text-anchor="end">0</text>
<text x="195.95" y="204.50" font-size="10.55" font-weight="bold">158 ms post-saccadic delay trials</text>
<line x1="114.02" y1="256.10" x2="114.02" y2="272.20" stroke="#d9d9d9" stroke-width="0.6"/>
<line x1="168.44" y1="256.10" x2="168.44" y2="272.20" stroke="#d9d9d9" stroke-width="0.6"/>
<line x1="222.86" y1="256.10" x2="222.86" y2="272.20" stroke="#d9d9d9" stroke-width="0.6"/>
<line x1="277.28" y1="256.10" x2="277.28" y2="272.20" stroke="#d9d9d9" stroke-width="0.6"/>
<line x1="331.70" y1="256.10" x2="331.70" y2="272.20" stroke="#d9d9d9" stroke-width="0.6"/>
<line x1="59.60" y1="258.90" x2="331.70" y2="258.90" stroke="#d9d9d9" stroke-width="0.6"/>
<rect x="168.44" y="256.10" width="136.55" height="16.10" fill="#c8c8c8"/>
<clipPath id="ca4"><rect x="59.6" y="254.10" width="272.10" height="18.50"/></clipPath>
<g clip-path="url(#ca4)" fill="none" stroke-width="0.62" stroke-linejoin="round">
<polyline points="59.6,272.1 63.7,272.0 67.7,272.0 71.8,272.0 75.8,272.1 79.9,272.1 84.0,272.1 88.0,272.1 92.1,272.1 96.2,272.1 100.2,272.1 104.3,272.1 108.3,272.1 112.4,272.1 116.5,272.1 120.5,272.1 124.6,272.2 128.6,272.1 132.7,272.2 136.8,272.1 140.8,272.1 144.9,272.1 148.9,272.1 153.0,272.1 157.1,272.1 161.1,272.1 165.2,272.1 169.3,272.1 173.3,272.2 177.4,272.1 181.4,272.2 185.5,272.1 189.6,272.1 193.6,272.1 197.7,272.0 201.7,271.8 205.8,271.6 209.9,271.5 213.9,271.4 218.0,271.5 222.0,271.7 226.1,271.9 230.2,272.0 234.2,272.1 238.3,272.1 242.4,272.1 246.4,272.1 250.5,272.1 254.5,272.1 258.6,272.1 262.7,272.1 266.7,272.0 270.8,272.1 274.8,272.1 278.9,272.1 283.0,272.1 287.0,272.0 291.1,272.0 295.1,272.0 299.2,272.0 303.3,272.0 307.3,271.9 311.4,272.0 315.5,272.1 319.5,272.2 323.6,272.1 327.6,272.1 331.7,272.1" stroke="rgb(41,41,41)"/>
<polyline points="59.6,272.1 63.7,272.1 67.7,272.1 71.8,272.1 75.8,272.1 79.9,272.0 84.0,272.1 88.0,272.1 92.1,272.1 96.2,272.0 100.2,272.0 104.3,272.1 108.3,272.2 112.4,272.2 116.5,272.1 120.5,272.0 124.6,272.0 128.6,272.0 132.7,272.1 136.8,272.2 140.8,272.2 144.9,272.0 148.9,272.0 153.0,272.1 157.1,272.1 161.1,272.2 165.2,272.2 169.3,272.1 173.3,272.0 177.4,272.0 181.4,272.1 185.5,272.1 189.6,272.1 193.6,272.1 197.7,272.1 201.7,272.0 205.8,272.0 209.9,272.0 213.9,272.0 218.0,272.0 222.0,272.0 226.1,272.1 230.2,272.1 234.2,272.1 238.3,272.1 242.4,272.1 246.4,272.1 250.5,272.0 254.5,272.0 258.6,272.0 262.7,272.0 266.7,272.1 270.8,272.0 274.8,272.0 278.9,272.0 283.0,272.1 287.0,272.1 291.1,272.0 295.1,271.9 299.2,271.7 303.3,271.3 307.3,271.1 311.4,271.3 315.5,271.6 319.5,271.9 323.6,272.0 327.6,272.0 331.7,272.0" stroke="rgb(70,70,70)"/>
<polyline points="59.6,272.1 63.7,272.1 67.7,272.1 71.8,272.1 75.8,272.1 79.9,272.0 84.0,272.0 88.0,272.0 92.1,272.0 96.2,272.0 100.2,272.0 104.3,272.0 108.3,272.1 112.4,272.1 116.5,272.1 120.5,272.1 124.6,272.1 128.6,272.0 132.7,272.0 136.8,272.0 140.8,272.0 144.9,272.0 148.9,272.0 153.0,272.0 157.1,272.0 161.1,272.0 165.2,272.0 169.3,272.0 173.3,272.0 177.4,272.0 181.4,272.0 185.5,272.0 189.6,272.1 193.6,272.1 197.7,272.1 201.7,272.1 205.8,272.1 209.9,272.1 213.9,272.0 218.0,272.0 222.0,272.0 226.1,272.0 230.2,272.0 234.2,272.0 238.3,272.0 242.4,272.0 246.4,272.0 250.5,272.0 254.5,272.1 258.6,272.1 262.7,272.1 266.7,272.1 270.8,272.0 274.8,272.1 278.9,272.1 283.0,272.1 287.0,272.0 291.1,271.9 295.1,272.0 299.2,272.0 303.3,271.9 307.3,271.9 311.4,271.9 315.5,272.0 319.5,272.1 323.6,272.1 327.6,272.0 331.7,272.0" stroke="rgb(53,53,53)"/>
<polyline points="59.6,272.1 63.7,272.1 67.7,272.2 71.8,272.2 75.8,272.2 79.9,272.2 84.0,272.2 88.0,272.1 92.1,272.1 96.2,272.1 100.2,272.1 104.3,272.0 108.3,272.0 112.4,272.0 116.5,272.1 120.5,272.1 124.6,272.1 128.6,272.0 132.7,272.0 136.8,272.0 140.8,272.0 144.9,272.1 148.9,272.1 153.0,272.0 157.1,272.1 161.1,272.1 165.2,272.1 169.3,272.1 173.3,272.0 177.4,272.0 181.4,272.0 185.5,272.0 189.6,272.0 193.6,272.1 197.7,272.0 201.7,272.0 205.8,272.1 209.9,272.2 213.9,272.2 218.0,272.1 222.0,272.0 226.1,272.0 230.2,272.1 234.2,272.1 238.3,272.1 242.4,272.1 246.4,272.1 250.5,272.0 254.5,272.1 258.6,272.0 262.7,272.1 266.7,272.1 270.8,272.1 274.8,272.1 278.9,272.1 283.0,272.1 287.0,272.0 291.1,272.0 295.1,272.1 299.2,272.1 303.3,272.0 307.3,272.0 311.4,271.9 315.5,271.9 319.5,272.1 323.6,272.1 327.6,272.1 331.7,272.0" stroke="rgb(28,28,28)"/>
<polyline points="59.6,272.0 63.7,272.0 67.7,271.9 71.8,271.9 75.8,271.9 79.9,272.0 84.0,272.0 88.0,271.9 92.1,271.9 96.2,272.0 100.2,272.1 104.3,272.0 108.3,271.9 112.4,271.9 116.5,271.9 120.5,271.9 124.6,272.0 128.6,272.0 132.7,272.0 136.8,271.9 140.8,271.9 144.9,271.9 148.9,271.9 153.0,272.0 157.1,272.0 161.1,272.0 165.2,271.9 169.3,271.9 173.3,271.9 177.4,272.0 181.4,272.0 185.5,272.0 189.6,272.0 193.6,272.0 197.7,271.9 201.7,271.9 205.8,271.9 209.9,272.0 213.9,272.0 218.0,272.0 222.0,272.0 226.1,272.0 230.2,272.0 234.2,272.0 238.3,272.0 242.4,271.9 246.4,272.0 250.5,271.9 254.5,271.9 258.6,271.9 262.7,271.9 266.7,272.0 270.8,271.9 274.8,271.9 278.9,271.9 283.0,271.9 287.0,272.0 291.1,272.0 295.1,272.0 299.2,272.0 303.3,272.0 307.3,272.0 311.4,272.0 315.5,272.1 319.5,272.0 323.6,272.0 327.6,272.1 331.7,272.0" stroke="rgb(51,51,51)"/>
<polyline points="59.6,272.1 63.7,272.1 67.7,272.1 71.8,272.2 75.8,272.2 79.9,272.2 84.0,272.2 88.0,272.2 92.1,272.2 96.2,272.2 100.2,272.2 104.3,272.2 108.3,272.1 112.4,272.2 116.5,272.1 120.5,272.2 124.6,272.2 128.6,272.2 132.7,272.2 136.8,272.2 140.8,272.2 144.9,272.2 148.9,272.2 153.0,272.1 157.1,272.2 161.1,272.2 165.2,272.2 169.3,272.2 173.3,272.2 177.4,272.2 181.4,272.2 185.5,272.2 189.6,272.2 193.6,272.2 197.7,272.2 201.7,272.1 205.8,272.2 209.9,272.2 213.9,272.2 218.0,272.2 222.0,272.2 226.1,272.2 230.2,272.2 234.2,272.2 238.3,272.2 242.4,272.2 246.4,272.2 250.5,272.1 254.5,272.1 258.6,272.1 262.7,272.1 266.7,272.1 270.8,272.2 274.8,272.1 278.9,272.2 283.0,272.2 287.0,272.2 291.1,272.2 295.1,272.2 299.2,272.2 303.3,272.2 307.3,272.2 311.4,272.1 315.5,272.2 319.5,272.2 323.6,272.2 327.6,272.2 331.7,272.2" stroke="rgb(47,47,47)"/>
<polyline points="59.6,272.1 63.7,272.1 67.7,272.1 71.8,272.1 75.8,272.1 79.9,272.0 84.0,271.9 88.0,272.0 92.1,272.0 96.2,272.1 100.2,272.1 104.3,272.0 108.3,271.9 112.4,272.0 116.5,272.0 120.5,272.1 124.6,272.0 128.6,272.0 132.7,272.0 136.8,271.9 140.8,272.0 144.9,272.1 148.9,272.1 153.0,272.1 157.1,272.0 161.1,272.1 165.2,272.0 169.3,272.0 173.3,272.1 177.4,272.1 181.4,272.1 185.5,272.1 189.6,272.1 193.6,272.1 197.7,272.0 201.7,272.0 205.8,272.0 209.9,272.0 213.9,272.0 218.0,271.9 222.0,271.9 226.1,271.7 230.2,271.6 234.2,271.4 238.3,271.5 242.4,271.7 246.4,272.0 250.5,272.0 254.5,272.0 258.6,272.0 262.7,272.0 266.7,272.1 270.8,272.1 274.8,272.0 278.9,272.0 283.0,272.0 287.0,272.1 291.1,272.1 295.1,272.1 299.2,272.1 303.3,272.1 307.3,272.0 311.4,272.1 315.5,272.1 319.5,272.1 323.6,272.1 327.6,272.0 331.7,272.0" stroke="rgb(69,69,69)"/>
<polyline points="59.6,272.0 63.7,272.0 67.7,272.0 71.8,272.1 75.8,272.1 79.9,272.1 84.0,272.0 88.0,272.0 92.1,272.0 96.2,271.9 100.2,271.7 104.3,271.3 108.3,271.2 112.4,271.6 116.5,271.9 120.5,272.1 124.6,272.1 128.6,272.1 132.7,272.1 136.8,272.1 140.8,272.1 144.9,272.0 148.9,272.0 153.0,272.0 157.1,272.0 161.1,272.0 165.2,272.0 169.3,272.0 173.3,272.0 177.4,272.0 181.4,272.0 185.5,272.0 189.6,272.0 193.6,272.0 197.7,272.1 201.7,272.0 205.8,272.0 209.9,271.9 213.9,272.0 218.0,272.0 222.0,272.0 226.1,272.1 230.2,272.1 234.2,272.1 238.3,272.0 242.4,272.0 246.4,272.0 250.5,272.0 254.5,272.0 258.6,272.1 262.7,272.1 266.7,272.1 270.8,272.1 274.8,272.1 278.9,272.0 283.0,272.0 287.0,272.0 291.1,272.1 295.1,272.1 299.2,272.0 303.3,272.0 307.3,272.0 311.4,272.0 315.5,272.0 319.5,272.0 323.6,272.1 327.6,272.0 331.7,272.0" stroke="rgb(44,44,44)"/>
<polyline points="59.6,272.1 63.7,272.1 67.7,272.1 71.8,272.1 75.8,272.1 79.9,272.1 84.0,272.1 88.0,272.1 92.1,272.1 96.2,272.0 100.2,272.0 104.3,272.1 108.3,272.1 112.4,272.1 116.5,272.1 120.5,272.2 124.6,272.2 128.6,272.2 132.7,272.1 136.8,272.1 140.8,272.2 144.9,272.2 148.9,272.2 153.0,272.1 157.1,272.1 161.1,272.2 165.2,272.2 169.3,272.2 173.3,272.1 177.4,272.1 181.4,272.1 185.5,272.1 189.6,272.1 193.6,272.1 197.7,272.2 201.7,272.2 205.8,272.2 209.9,272.1 213.9,272.2 218.0,272.1 222.0,272.1 226.1,272.2 230.2,272.1 234.2,272.1 238.3,272.1 242.4,272.2 246.4,272.2 250.5,272.2 254.5,272.2 258.6,272.2 262.7,272.2 266.7,272.2 270.8,272.2 274.8,272.2 278.9,272.2 283.0,272.2 287.0,272.1 291.1,272.2 295.1,272.2 299.2,272.2 303.3,272.2 307.3,272.0 311.4,271.7 315.5,271.4 319.5,271.3 323.6,271.4 327.6,271.7 331.7,272.0" stroke="rgb(55,55,55)"/>
<polyline points="59.6,272.1 63.7,272.1 67.7,272.0 71.8,272.1 75.8,272.1 79.9,272.1 84.0,272.1 88.0,272.1 92.1,272.1 96.2,272.2 100.2,272.2 104.3,272.2 108.3,272.1 112.4,272.0 116.5,271.9 120.5,272.0 124.6,272.0 128.6,272.1 132.7,272.2 136.8,272.2 140.8,272.1 144.9,272.1 148.9,272.1 153.0,272.2 157.1,272.2 161.1,272.2 165.2,272.2 169.3,272.2 173.3,272.1 177.4,272.2 181.4,272.2 185.5,272.2 189.6,272.1 193.6,272.1 197.7,272.1 201.7,272.1 205.8,272.1 209.9,272.1 213.9,272.1 218.0,272.1 222.0,272.1 226.1,272.2 230.2,272.2 234.2,272.2 238.3,272.2 242.4,272.2 246.4,272.1 250.5,272.1 254.5,272.2 258.6,272.1 262.7,272.1 266.7,272.1 270.8,272.2 274.8,272.2 278.9,272.2 283.0,272.1 287.0,272.1 291.1,272.1 295.1,272.1 299.2,272.2 303.3,272.2 307.3,272.2 311.4,272.2 315.5,272.1 319.5,272.1 323.6,272.0 327.6,272.1 331.7,272.1" stroke="rgb(54,54,54)"/>
<polyline points="59.6,272.2 63.7,272.1 67.7,272.1 71.8,272.1 75.8,272.2 79.9,272.2 84.0,272.2 88.0,272.2 92.1,272.2 96.2,272.2 100.2,272.2 104.3,272.2 108.3,272.2 112.4,272.2 116.5,272.2 120.5,272.2 124.6,272.2 128.6,272.1 132.7,272.1 136.8,272.2 140.8,272.2 144.9,272.2 148.9,272.2 153.0,272.1 157.1,272.2 161.1,272.2 165.2,272.2 169.3,272.2 173.3,272.2 177.4,272.2 181.4,272.2 185.5,272.2 189.6,272.2 193.6,272.2 197.7,272.2 201.7,272.2 205.8,272.2 209.9,272.2 213.9,272.1 218.0,272.1 222.0,272.1 226.1,272.2 230.2,272.1 234.2,272.1 238.3,272.1 242.4,272.2 246.4,272.2 250.5,272.2 254.5,272.2 258.6,272.2 262.7,272.1 266.7,272.1 270.8,272.1 274.8,272.2 278.9,272.2 283.0,272.2 287.0,272.2 291.1,272.2 295.1,272.2 299.2,272.1 303.3,271.9 307.3,271.6 311.4,271.7 315.5,272.0 319.5,272.2 323.6,272.2 327.6,272.2 331.7,272.2" stroke="rgb(44,44,44)"/>
<polyline points="59.6,272.1 63.7,272.0 67.7,272.1 71.8,272.1 75.8,272.2 79.9,272.1 84.0,272.2 88.0,272.2 92.1,272.2 96.2,272.2 100.2,272.1 104.3,272.1 108.3,272.1 112.4,272.1 116.5,272.1 120.5,272.1 124.6,272.1 128.6,272.1 132.7,272.1 136.8,272.1 140.8,272.1 144.9,272.0 148.9,272.1 153.0,272.1 157.1,272.2 161.1,272.2 165.2,272.1 169.3,272.1 173.3,272.1 177.4,272.1 181.4,272.1 185.5,272.1 189.6,272.1 193.6,272.2 197.7,272.1 201.7,272.1 205.8,272.0 209.9,272.1 213.9,272.0 218.0,272.1 222.0,272.1 226.1,272.1 230.2,272.0 234.2,272.1 238.3,272.1 242.4,272.1 246.4,272.0 250.5,272.0 254.5,272.1 258.6,272.2 262.7,272.2 266.7,272.2 270.8,272.1 274.8,272.1 278.9,272.1 283.0,272.1 287.0,271.9 291.1,271.5 295.1,271.2 299.2,271.3 303.3,271.6 307.3,272.0 311.4,272.0 315.5,272.1 319.5,272.1 323.6,272.2 327.6,272.0 331.7,272.0" stroke="rgb(55,55,55)"/>
<polyline points="59.6,272.0 63.7,272.0 67.7,271.9 71.8,272.0 75.8,271.9 79.9,272.0 84.0,272.0 88.0,272.1 92.1,272.1 96.2,272.0 100.2,272.0 104.3,271.9 108.3,271.9 112.4,271.9 116.5,271.9 120.5,272.0 124.6,272.0 128.6,272.0 132.7,272.0 136.8,272.0 140.8,272.0 144.9,272.0 148.9,272.0 153.0,272.1 157.1,271.9 161.1,271.7 165.2,271.4 169.3,271.5 173.3,271.7 177.4,271.9 181.4,272.0 185.5,272.0 189.6,271.9 193.6,272.0 197.7,272.0 201.7,272.1 205.8,272.0 209.9,272.1 213.9,272.0 218.0,272.1 222.0,272.0 226.1,272.0 230.2,272.0 234.2,272.1 238.3,272.0 242.4,272.0 246.4,272.0 250.5,272.0 254.5,272.0 258.6,272.1 262.7,272.1 266.7,272.1 270.8,272.0 274.8,272.0 278.9,272.0 283.0,272.1 287.0,272.1 291.1,272.1 295.1,272.0 299.2,272.0 303.3,272.0 307.3,272.0 311.4,272.0 315.5,272.0 319.5,272.0 323.6,272.1 327.6,272.1 331.7,272.1" stroke="rgb(61,61,61)"/>
<polyline points="59.6,272.2 63.7,272.2 67.7,272.1 71.8,272.1 75.8,272.1 79.9,272.0 84.0,272.1 88.0,272.1 92.1,272.1 96.2,272.1 100.2,272.2 104.3,272.2 108.3,272.2 112.4,272.2 116.5,272.2 120.5,272.2 124.6,272.2 128.6,272.1 132.7,272.1 136.8,272.1 140.8,272.2 144.9,272.1 148.9,272.1 153.0,272.1 157.1,272.1 161.1,272.2 165.2,272.2 169.3,272.1 173.3,272.1 177.4,272.1 181.4,272.2 185.5,272.2 189.6,272.2 193.6,272.2 197.7,272.2 201.7,272.2 205.8,272.1 209.9,272.1 213.9,272.1 218.0,272.2 222.0,272.1 226.1,272.0 230.2,271.9 234.2,271.7 238.3,271.6 242.4,271.6 246.4,271.9 250.5,272.1 254.5,272.2 258.6,272.2 262.7,272.1 266.7,272.1 270.8,272.1 274.8,272.1 278.9,272.0 283.0,272.0 287.0,272.0 291.1,272.0 295.1,272.0 299.2,272.0 303.3,272.1 307.3,272.1 311.4,272.1 315.5,272.1 319.5,272.1 323.6,272.1 327.6,272.1 331.7,272.2" stroke="rgb(43,43,43)"/>
</g>
<path d="M59.60,256.10 V272.20 H331.70" fill="none" stroke="#3a3a3a" stroke-width="0.7"/>
<line x1="59.60" y1="272.20" x2="59.60" y2="270.00" stroke="#3a3a3a" stroke-width="0.6"/>
<text x="60.20" y="286.10" font-size="10.15">-40</text>
<line x1="114.02" y1="272.20" x2="114.02" y2="270.00" stroke="#3a3a3a" stroke-width="0.6"/>
<text x="114.62" y="286.10" font-size="10.15">-20</text>
<line x1="168.44" y1="272.20" x2="168.44" y2="270.00" stroke="#3a3a3a" stroke-width="0.6"/>
<text x="168.44" y="286.10" font-size="10.15">0</text>
<line x1="222.86" y1="272.20" x2="222.86" y2="270.00" stroke="#3a3a3a" stroke-width="0.6"/>
<text x="222.86" y="286.10" font-size="10.15">20</text>
<line x1="277.28" y1="272.20" x2="277.28" y2="270.00" stroke="#3a3a3a" stroke-width="0.6"/>
<text x="277.28" y="286.10" font-size="10.15">40</text>
<line x1="331.70" y1="272.20" x2="331.70" y2="270.00" stroke="#3a3a3a" stroke-width="0.6"/>
<text x="331.70" y="286.10" font-size="10.15">60</text>
<line x1="59.60" y1="258.90" x2="62.00" y2="258.90" stroke="#3a3a3a" stroke-width="0.6"/>
<text x="55.80" y="263.70" font-size="10.15" text-anchor="end">500</text>
<text x="55.80" y="277.20" font-size="10.15" text-anchor="end">0</text>
<text x="195.95" y="252.90" font-size="10.55" font-weight="bold">500 ms post-saccadic delay trials</text>
<text x="195.50" y="303.20" font-size="14">Time relative to scene onset (ms)</text>
<text transform="translate(34.00,168.00) rotate(-90)" font-size="14">Eye velocity (vda/s)</text>
<rect x="60.00" y="381.70" width="271.50" height="16.45" fill="#fff" stroke="#3a3a3a" stroke-width="0.75"/>
<line x1="98.79" y1="381.70" x2="98.79" y2="398.15" stroke="#707070" stroke-width="0.6" stroke-dasharray="0.8,1.0"/>
<line x1="137.57" y1="381.70" x2="137.57" y2="398.15" stroke="#707070" stroke-width="0.6" stroke-dasharray="0.8,1.0"/>
<line x1="176.36" y1="381.70" x2="176.36" y2="398.15" stroke="#707070" stroke-width="0.6" stroke-dasharray="0.8,1.0"/>
<line x1="215.14" y1="381.70" x2="215.14" y2="398.15" stroke="#707070" stroke-width="0.6" stroke-dasharray="0.8,1.0"/>
<line x1="253.93" y1="381.70" x2="253.93" y2="398.15" stroke="#707070" stroke-width="0.6" stroke-dasharray="0.8,1.0"/>
<line x1="292.71" y1="381.70" x2="292.71" y2="398.15" stroke="#707070" stroke-width="0.6" stroke-dasharray="0.8,1.0"/>
<rect x="99.92" y="381.70" width="1.8" height="16.45" fill="#161616"/>
<rect x="97.72" y="381.70" width="2.2" height="16.45" fill="#bdbdbd"/>
<rect x="98.97" y="381.70" width="0.4" height="16.45" fill="#555"/>
<rect x="96.42" y="381.70" width="1.30" height="16.45" fill="#999"/>
<rect x="96.67" y="381.70" width="0.80" height="16.45" fill="#1c1c1c"/>
<rect x="95.12" y="381.70" width="1.30" height="16.45" fill="#999"/>
<rect x="95.38" y="381.70" width="0.80" height="16.45" fill="#1c1c1c"/>
<rect x="93.67" y="384.17" width="1.45" height="13.98" fill="#999"/>
<rect x="93.92" y="384.17" width="0.95" height="13.98" fill="#1c1c1c"/>
<rect x="92.22" y="387.29" width="1.45" height="10.86" fill="#999"/>
<rect x="92.47" y="387.29" width="0.95" height="10.86" fill="#1c1c1c"/>
<rect x="90.77" y="390.25" width="1.45" height="7.90" fill="#999"/>
<rect x="91.02" y="390.25" width="0.95" height="7.90" fill="#1c1c1c"/>
<rect x="89.32" y="392.89" width="1.45" height="5.26" fill="#999"/>
<rect x="89.57" y="392.89" width="0.95" height="5.26" fill="#1c1c1c"/>
<rect x="87.87" y="394.86" width="1.45" height="3.29" fill="#999"/>
<rect x="88.12" y="394.86" width="0.95" height="3.29" fill="#1c1c1c"/>
<rect x="86.42" y="396.34" width="1.45" height="1.81" fill="#999"/>
<rect x="86.67" y="396.34" width="0.95" height="1.81" fill="#1c1c1c"/>
<rect x="84.97" y="397.16" width="1.45" height="0.99" fill="#999"/>
<rect x="85.22" y="397.16" width="0.95" height="0.99" fill="#1c1c1c"/>
<rect x="83.52" y="397.66" width="1.45" height="0.49" fill="#999"/>
<rect x="83.77" y="397.66" width="0.95" height="0.49" fill="#1c1c1c"/>
<rect x="82.07" y="397.90" width="1.45" height="0.25" fill="#999"/>
<rect x="82.32" y="397.90" width="0.95" height="0.25" fill="#1c1c1c"/>
<line x1="68.07" y1="397.85" x2="110.72" y2="397.85" stroke="#555" stroke-width="0.6"/>
<rect x="60.00" y="381.70" width="271.50" height="16.45" fill="none" stroke="#444" stroke-width="0.65"/>
<line x1="60.00" y1="398.15" x2="60.00" y2="395.95" stroke="#3a3a3a" stroke-width="0.6"/>
<text x="60.50" y="412.25" font-size="10.15">-100</text>
<line x1="98.79" y1="398.15" x2="98.79" y2="395.95" stroke="#3a3a3a" stroke-width="0.6"/>
<text x="98.79" y="412.25" font-size="10.15">0</text>
<line x1="137.57" y1="398.15" x2="137.57" y2="395.95" stroke="#3a3a3a" stroke-width="0.6"/>
<text x="137.57" y="412.25" font-size="10.15">100</text>
<line x1="176.36" y1="398.15" x2="176.36" y2="395.95" stroke="#3a3a3a" stroke-width="0.6"/>
<text x="176.36" y="412.25" font-size="10.15">200</text>
<line x1="215.14" y1="398.15" x2="215.14" y2="395.95" stroke="#3a3a3a" stroke-width="0.6"/>
<text x="215.14" y="412.25" font-size="10.15">300</text>
<line x1="253.93" y1="398.15" x2="253.93" y2="395.95" stroke="#3a3a3a" stroke-width="0.6"/>
<text x="253.93" y="412.25" font-size="10.15">400</text>
<line x1="292.71" y1="398.15" x2="292.71" y2="395.95" stroke="#3a3a3a" stroke-width="0.6"/>
<text x="292.71" y="412.25" font-size="10.15">500</text>
<line x1="331.50" y1="398.15" x2="331.50" y2="395.95" stroke="#3a3a3a" stroke-width="0.6"/>
<text x="331.50" y="412.25" font-size="10.15">600</text>
<text x="56.10" y="386.20" font-size="10.15" text-anchor="end">500</text>
<text x="56.10" y="403.15" font-size="10.15" text-anchor="end">0</text>
<text x="196.05" y="378.30" font-size="10.55" font-weight="bold">5 ms post-saccadic delay trials</text>
<rect x="60.00" y="430.03" width="271.50" height="16.45" fill="#fff" stroke="#3a3a3a" stroke-width="0.75"/>
<line x1="98.79" y1="430.03" x2="98.79" y2="446.48" stroke="#707070" stroke-width="0.6" stroke-dasharray="0.8,1.0"/>
<line x1="137.57" y1="430.03" x2="137.57" y2="446.48" stroke="#707070" stroke-width="0.6" stroke-dasharray="0.8,1.0"/>
<line x1="176.36" y1="430.03" x2="176.36" y2="446.48" stroke="#707070" stroke-width="0.6" stroke-dasharray="0.8,1.0"/>
<line x1="215.14" y1="430.03" x2="215.14" y2="446.48" stroke="#707070" stroke-width="0.6" stroke-dasharray="0.8,1.0"/>
<line x1="253.93" y1="430.03" x2="253.93" y2="446.48" stroke="#707070" stroke-width="0.6" stroke-dasharray="0.8,1.0"/>
<line x1="292.71" y1="430.03" x2="292.71" y2="446.48" stroke="#707070" stroke-width="0.6" stroke-dasharray="0.8,1.0"/>
<rect x="104.19" y="430.03" width="1.8" height="16.45" fill="#161616"/>
<rect x="101.99" y="430.03" width="2.2" height="16.45" fill="#bdbdbd"/>
<rect x="103.24" y="430.03" width="0.4" height="16.45" fill="#555"/>
<rect x="100.69" y="430.03" width="1.30" height="16.45" fill="#999"/>
<rect x="100.94" y="430.03" width="0.80" height="16.45" fill="#1c1c1c"/>
<rect x="99.39" y="430.03" width="1.30" height="16.45" fill="#999"/>
<rect x="99.64" y="430.03" width="0.80" height="16.45" fill="#1c1c1c"/>
<rect x="97.94" y="432.50" width="1.45" height="13.98" fill="#999"/>
<rect x="98.19" y="432.50" width="0.95" height="13.98" fill="#1c1c1c"/>
<rect x="96.49" y="435.62" width="1.45" height="10.86" fill="#999"/>
<rect x="96.74" y="435.62" width="0.95" height="10.86" fill="#1c1c1c"/>
<rect x="95.04" y="438.58" width="1.45" height="7.90" fill="#999"/>
<rect x="95.29" y="438.58" width="0.95" height="7.90" fill="#1c1c1c"/>
<rect x="93.59" y="441.22" width="1.45" height="5.26" fill="#999"/>
<rect x="93.84" y="441.22" width="0.95" height="5.26" fill="#1c1c1c"/>
<rect x="92.14" y="443.19" width="1.45" height="3.29" fill="#999"/>
<rect x="92.39" y="443.19" width="0.95" height="3.29" fill="#1c1c1c"/>
<rect x="90.69" y="444.67" width="1.45" height="1.81" fill="#999"/>
<rect x="90.94" y="444.67" width="0.95" height="1.81" fill="#1c1c1c"/>
<rect x="89.24" y="445.49" width="1.45" height="0.99" fill="#999"/>
<rect x="89.49" y="445.49" width="0.95" height="0.99" fill="#1c1c1c"/>
<rect x="87.79" y="445.99" width="1.45" height="0.49" fill="#999"/>
<rect x="88.04" y="445.99" width="0.95" height="0.49" fill="#1c1c1c"/>
<rect x="86.34" y="446.23" width="1.45" height="0.25" fill="#999"/>
<rect x="86.59" y="446.23" width="0.95" height="0.25" fill="#1c1c1c"/>
<line x1="72.34" y1="446.18" x2="114.99" y2="446.18" stroke="#555" stroke-width="0.6"/>
<rect x="60.00" y="430.03" width="271.50" height="16.45" fill="none" stroke="#444" stroke-width="0.65"/>
<line x1="60.00" y1="446.48" x2="60.00" y2="444.28" stroke="#3a3a3a" stroke-width="0.6"/>
<text x="60.50" y="460.58" font-size="10.15">-100</text>
<line x1="98.79" y1="446.48" x2="98.79" y2="444.28" stroke="#3a3a3a" stroke-width="0.6"/>
<text x="98.79" y="460.58" font-size="10.15">0</text>
<line x1="137.57" y1="446.48" x2="137.57" y2="444.28" stroke="#3a3a3a" stroke-width="0.6"/>
<text x="137.57" y="460.58" font-size="10.15">100</text>
<line x1="176.36" y1="446.48" x2="176.36" y2="444.28" stroke="#3a3a3a" stroke-width="0.6"/>
<text x="176.36" y="460.58" font-size="10.15">200</text>
<line x1="215.14" y1="446.48" x2="215.14" y2="444.28" stroke="#3a3a3a" stroke-width="0.6"/>
<text x="215.14" y="460.58" font-size="10.15">300</text>
<line x1="253.93" y1="446.48" x2="253.93" y2="444.28" stroke="#3a3a3a" stroke-width="0.6"/>
<text x="253.93" y="460.58" font-size="10.15">400</text>
<line x1="292.71" y1="446.48" x2="292.71" y2="444.28" stroke="#3a3a3a" stroke-width="0.6"/>
<text x="292.71" y="460.58" font-size="10.15">500</text>
<line x1="331.50" y1="446.48" x2="331.50" y2="444.28" stroke="#3a3a3a" stroke-width="0.6"/>
<text x="331.50" y="460.58" font-size="10.15">600</text>
<text x="56.10" y="434.53" font-size="10.15" text-anchor="end">500</text>
<text x="56.10" y="451.48" font-size="10.15" text-anchor="end">0</text>
<text x="196.05" y="426.63" font-size="10.55" font-weight="bold">16 ms post-saccadic delay trials</text>
<rect x="60.00" y="478.36" width="271.50" height="16.45" fill="#fff" stroke="#3a3a3a" stroke-width="0.75"/>
<line x1="98.79" y1="478.36" x2="98.79" y2="494.81" stroke="#707070" stroke-width="0.6" stroke-dasharray="0.8,1.0"/>
<line x1="137.57" y1="478.36" x2="137.57" y2="494.81" stroke="#707070" stroke-width="0.6" stroke-dasharray="0.8,1.0"/>
<line x1="176.36" y1="478.36" x2="176.36" y2="494.81" stroke="#707070" stroke-width="0.6" stroke-dasharray="0.8,1.0"/>
<line x1="215.14" y1="478.36" x2="215.14" y2="494.81" stroke="#707070" stroke-width="0.6" stroke-dasharray="0.8,1.0"/>
<line x1="253.93" y1="478.36" x2="253.93" y2="494.81" stroke="#707070" stroke-width="0.6" stroke-dasharray="0.8,1.0"/>
<line x1="292.71" y1="478.36" x2="292.71" y2="494.81" stroke="#707070" stroke-width="0.6" stroke-dasharray="0.8,1.0"/>
<rect x="117.38" y="478.36" width="1.8" height="16.45" fill="#161616"/>
<rect x="115.18" y="478.36" width="2.2" height="16.45" fill="#bdbdbd"/>
<rect x="116.43" y="478.36" width="0.4" height="16.45" fill="#555"/>
<rect x="113.88" y="478.36" width="1.30" height="16.45" fill="#999"/>
<rect x="114.13" y="478.36" width="0.80" height="16.45" fill="#1c1c1c"/>
<rect x="112.58" y="478.36" width="1.30" height="16.45" fill="#999"/>
<rect x="112.83" y="478.36" width="0.80" height="16.45" fill="#1c1c1c"/>
<rect x="111.13" y="480.83" width="1.45" height="13.98" fill="#999"/>
<rect x="111.38" y="480.83" width="0.95" height="13.98" fill="#1c1c1c"/>
<rect x="109.68" y="483.95" width="1.45" height="10.86" fill="#999"/>
<rect x="109.93" y="483.95" width="0.95" height="10.86" fill="#1c1c1c"/>
<rect x="108.23" y="486.91" width="1.45" height="7.90" fill="#999"/>
<rect x="108.48" y="486.91" width="0.95" height="7.90" fill="#1c1c1c"/>
<rect x="106.78" y="489.55" width="1.45" height="5.26" fill="#999"/>
<rect x="107.03" y="489.55" width="0.95" height="5.26" fill="#1c1c1c"/>
<rect x="105.33" y="491.52" width="1.45" height="3.29" fill="#999"/>
<rect x="105.58" y="491.52" width="0.95" height="3.29" fill="#1c1c1c"/>
<rect x="103.88" y="493.00" width="1.45" height="1.81" fill="#999"/>
<rect x="104.13" y="493.00" width="0.95" height="1.81" fill="#1c1c1c"/>
<rect x="102.43" y="493.82" width="1.45" height="0.99" fill="#999"/>
<rect x="102.68" y="493.82" width="0.95" height="0.99" fill="#1c1c1c"/>
<rect x="100.98" y="494.32" width="1.45" height="0.49" fill="#999"/>
<rect x="101.23" y="494.32" width="0.95" height="0.49" fill="#1c1c1c"/>
<rect x="99.53" y="494.56" width="1.45" height="0.25" fill="#999"/>
<rect x="99.78" y="494.56" width="0.95" height="0.25" fill="#1c1c1c"/>
<line x1="85.53" y1="494.51" x2="128.18" y2="494.51" stroke="#555" stroke-width="0.6"/>
<rect x="60.00" y="478.36" width="271.50" height="16.45" fill="none" stroke="#444" stroke-width="0.65"/>
<line x1="60.00" y1="494.81" x2="60.00" y2="492.61" stroke="#3a3a3a" stroke-width="0.6"/>
<text x="60.50" y="508.91" font-size="10.15">-100</text>
<line x1="98.79" y1="494.81" x2="98.79" y2="492.61" stroke="#3a3a3a" stroke-width="0.6"/>
<text x="98.79" y="508.91" font-size="10.15">0</text>
<line x1="137.57" y1="494.81" x2="137.57" y2="492.61" stroke="#3a3a3a" stroke-width="0.6"/>
<text x="137.57" y="508.91" font-size="10.15">100</text>
<line x1="176.36" y1="494.81" x2="176.36" y2="492.61" stroke="#3a3a3a" stroke-width="0.6"/>
<text x="176.36" y="508.91" font-size="10.15">200</text>
<line x1="215.14" y1="494.81" x2="215.14" y2="492.61" stroke="#3a3a3a" stroke-width="0.6"/>
<text x="215.14" y="508.91" font-size="10.15">300</text>
<line x1="253.93" y1="494.81" x2="253.93" y2="492.61" stroke="#3a3a3a" stroke-width="0.6"/>
<text x="253.93" y="508.91" font-size="10.15">400</text>
<line x1="292.71" y1="494.81" x2="292.71" y2="492.61" stroke="#3a3a3a" stroke-width="0.6"/>
<text x="292.71" y="508.91" font-size="10.15">500</text>
<line x1="331.50" y1="494.81" x2="331.50" y2="492.61" stroke="#3a3a3a" stroke-width="0.6"/>
<text x="331.50" y="508.91" font-size="10.15">600</text>
<text x="56.10" y="482.86" font-size="10.15" text-anchor="end">500</text>
<text x="56.10" y="499.81" font-size="10.15" text-anchor="end">0</text>
<text x="196.05" y="474.96" font-size="10.55" font-weight="bold">50 ms post-saccadic delay trials</text>
<rect x="60.00" y="526.69" width="271.50" height="16.45" fill="#fff" stroke="#3a3a3a" stroke-width="0.75"/>
<line x1="98.79" y1="526.69" x2="98.79" y2="543.14" stroke="#707070" stroke-width="0.6" stroke-dasharray="0.8,1.0"/>
<line x1="137.57" y1="526.69" x2="137.57" y2="543.14" stroke="#707070" stroke-width="0.6" stroke-dasharray="0.8,1.0"/>
<line x1="176.36" y1="526.69" x2="176.36" y2="543.14" stroke="#707070" stroke-width="0.6" stroke-dasharray="0.8,1.0"/>
<line x1="215.14" y1="526.69" x2="215.14" y2="543.14" stroke="#707070" stroke-width="0.6" stroke-dasharray="0.8,1.0"/>
<line x1="253.93" y1="526.69" x2="253.93" y2="543.14" stroke="#707070" stroke-width="0.6" stroke-dasharray="0.8,1.0"/>
<line x1="292.71" y1="526.69" x2="292.71" y2="543.14" stroke="#707070" stroke-width="0.6" stroke-dasharray="0.8,1.0"/>
<rect x="159.27" y="526.69" width="1.8" height="16.45" fill="#161616"/>
<rect x="157.07" y="526.69" width="2.2" height="16.45" fill="#bdbdbd"/>
<rect x="158.32" y="526.69" width="0.4" height="16.45" fill="#555"/>
<rect x="155.77" y="526.69" width="1.30" height="16.45" fill="#999"/>
<rect x="156.02" y="526.69" width="0.80" height="16.45" fill="#1c1c1c"/>
<rect x="154.47" y="526.69" width="1.30" height="16.45" fill="#999"/>
<rect x="154.72" y="526.69" width="0.80" height="16.45" fill="#1c1c1c"/>
<rect x="153.02" y="529.16" width="1.45" height="13.98" fill="#999"/>
<rect x="153.27" y="529.16" width="0.95" height="13.98" fill="#1c1c1c"/>
<rect x="151.57" y="532.28" width="1.45" height="10.86" fill="#999"/>
<rect x="151.82" y="532.28" width="0.95" height="10.86" fill="#1c1c1c"/>
<rect x="150.12" y="535.24" width="1.45" height="7.90" fill="#999"/>
<rect x="150.37" y="535.24" width="0.95" height="7.90" fill="#1c1c1c"/>
<rect x="148.67" y="537.88" width="1.45" height="5.26" fill="#999"/>
<rect x="148.92" y="537.88" width="0.95" height="5.26" fill="#1c1c1c"/>
<rect x="147.22" y="539.85" width="1.45" height="3.29" fill="#999"/>
<rect x="147.47" y="539.85" width="0.95" height="3.29" fill="#1c1c1c"/>
<rect x="145.77" y="541.33" width="1.45" height="1.81" fill="#999"/>
<rect x="146.02" y="541.33" width="0.95" height="1.81" fill="#1c1c1c"/>
<rect x="144.32" y="542.15" width="1.45" height="0.99" fill="#999"/>
<rect x="144.57" y="542.15" width="0.95" height="0.99" fill="#1c1c1c"/>
<rect x="142.87" y="542.65" width="1.45" height="0.49" fill="#999"/>
<rect x="143.12" y="542.65" width="0.95" height="0.49" fill="#1c1c1c"/>
<rect x="141.42" y="542.89" width="1.45" height="0.25" fill="#999"/>
<rect x="141.67" y="542.89" width="0.95" height="0.25" fill="#1c1c1c"/>
<line x1="127.42" y1="542.84" x2="170.07" y2="542.84" stroke="#555" stroke-width="0.6"/>
<rect x="60.00" y="526.69" width="271.50" height="16.45" fill="none" stroke="#444" stroke-width="0.65"/>
<line x1="60.00" y1="543.14" x2="60.00" y2="540.94" stroke="#3a3a3a" stroke-width="0.6"/>
<text x="60.50" y="557.24" font-size="10.15">-100</text>
<line x1="98.79" y1="543.14" x2="98.79" y2="540.94" stroke="#3a3a3a" stroke-width="0.6"/>
<text x="98.79" y="557.24" font-size="10.15">0</text>
<line x1="137.57" y1="543.14" x2="137.57" y2="540.94" stroke="#3a3a3a" stroke-width="0.6"/>
<text x="137.57" y="557.24" font-size="10.15">100</text>
<line x1="176.36" y1="543.14" x2="176.36" y2="540.94" stroke="#3a3a3a" stroke-width="0.6"/>
<text x="176.36" y="557.24" font-size="10.15">200</text>
<line x1="215.14" y1="543.14" x2="215.14" y2="540.94" stroke="#3a3a3a" stroke-width="0.6"/>
<text x="215.14" y="557.24" font-size="10.15">300</text>
<line x1="253.93" y1="543.14" x2="253.93" y2="540.94" stroke="#3a3a3a" stroke-width="0.6"/>
<text x="253.93" y="557.24" font-size="10.15">400</text>
<line x1="292.71" y1="543.14" x2="292.71" y2="540.94" stroke="#3a3a3a" stroke-width="0.6"/>
<text x="292.71" y="557.24" font-size="10.15">500</text>
<line x1="331.50" y1="543.14" x2="331.50" y2="540.94" stroke="#3a3a3a" stroke-width="0.6"/>
<text x="331.50" y="557.24" font-size="10.15">600</text>
<text x="56.10" y="531.19" font-size="10.15" text-anchor="end">500</text>
<text x="56.10" y="548.14" font-size="10.15" text-anchor="end">0</text>
<text x="196.05" y="523.29" font-size="10.55" font-weight="bold">158 ms post-saccadic delay trials</text>
<rect x="60.00" y="575.02" width="271.50" height="16.45" fill="#fff" stroke="#3a3a3a" stroke-width="0.75"/>
<line x1="98.79" y1="575.02" x2="98.79" y2="591.47" stroke="#707070" stroke-width="0.6" stroke-dasharray="0.8,1.0"/>
<line x1="137.57" y1="575.02" x2="137.57" y2="591.47" stroke="#707070" stroke-width="0.6" stroke-dasharray="0.8,1.0"/>
<line x1="176.36" y1="575.02" x2="176.36" y2="591.47" stroke="#707070" stroke-width="0.6" stroke-dasharray="0.8,1.0"/>
<line x1="215.14" y1="575.02" x2="215.14" y2="591.47" stroke="#707070" stroke-width="0.6" stroke-dasharray="0.8,1.0"/>
<line x1="253.93" y1="575.02" x2="253.93" y2="591.47" stroke="#707070" stroke-width="0.6" stroke-dasharray="0.8,1.0"/>
<line x1="292.71" y1="575.02" x2="292.71" y2="591.47" stroke="#707070" stroke-width="0.6" stroke-dasharray="0.8,1.0"/>
<rect x="291.91" y="575.02" width="1.8" height="16.45" fill="#161616"/>
<rect x="289.71" y="575.02" width="2.2" height="16.45" fill="#bdbdbd"/>
<rect x="290.96" y="575.02" width="0.4" height="16.45" fill="#555"/>
<rect x="288.41" y="575.02" width="1.30" height="16.45" fill="#999"/>
<rect x="288.66" y="575.02" width="0.80" height="16.45" fill="#1c1c1c"/>
<rect x="287.11" y="575.02" width="1.30" height="16.45" fill="#999"/>
<rect x="287.36" y="575.02" width="0.80" height="16.45" fill="#1c1c1c"/>
<rect x="285.66" y="577.49" width="1.45" height="13.98" fill="#999"/>
<rect x="285.91" y="577.49" width="0.95" height="13.98" fill="#1c1c1c"/>
<rect x="284.21" y="580.61" width="1.45" height="10.86" fill="#999"/>
<rect x="284.46" y="580.61" width="0.95" height="10.86" fill="#1c1c1c"/>
<rect x="282.76" y="583.57" width="1.45" height="7.90" fill="#999"/>
<rect x="283.01" y="583.57" width="0.95" height="7.90" fill="#1c1c1c"/>
<rect x="281.31" y="586.21" width="1.45" height="5.26" fill="#999"/>
<rect x="281.56" y="586.21" width="0.95" height="5.26" fill="#1c1c1c"/>
<rect x="279.86" y="588.18" width="1.45" height="3.29" fill="#999"/>
<rect x="280.11" y="588.18" width="0.95" height="3.29" fill="#1c1c1c"/>
<rect x="278.41" y="589.66" width="1.45" height="1.81" fill="#999"/>
<rect x="278.66" y="589.66" width="0.95" height="1.81" fill="#1c1c1c"/>
<rect x="276.96" y="590.48" width="1.45" height="0.99" fill="#999"/>
<rect x="277.21" y="590.48" width="0.95" height="0.99" fill="#1c1c1c"/>
<rect x="275.51" y="590.98" width="1.45" height="0.49" fill="#999"/>
<rect x="275.76" y="590.98" width="0.95" height="0.49" fill="#1c1c1c"/>
<rect x="274.06" y="591.22" width="1.45" height="0.25" fill="#999"/>
<rect x="274.31" y="591.22" width="0.95" height="0.25" fill="#1c1c1c"/>
<line x1="260.06" y1="591.17" x2="302.71" y2="591.17" stroke="#555" stroke-width="0.6"/>
<rect x="60.00" y="575.02" width="271.50" height="16.45" fill="none" stroke="#444" stroke-width="0.65"/>
<line x1="60.00" y1="591.47" x2="60.00" y2="589.27" stroke="#3a3a3a" stroke-width="0.6"/>
<text x="60.50" y="605.57" font-size="10.15">-100</text>
<line x1="98.79" y1="591.47" x2="98.79" y2="589.27" stroke="#3a3a3a" stroke-width="0.6"/>
<text x="98.79" y="605.57" font-size="10.15">0</text>
<line x1="137.57" y1="591.47" x2="137.57" y2="589.27" stroke="#3a3a3a" stroke-width="0.6"/>
<text x="137.57" y="605.57" font-size="10.15">100</text>
<line x1="176.36" y1="591.47" x2="176.36" y2="589.27" stroke="#3a3a3a" stroke-width="0.6"/>
<text x="176.36" y="605.57" font-size="10.15">200</text>
<line x1="215.14" y1="591.47" x2="215.14" y2="589.27" stroke="#3a3a3a" stroke-width="0.6"/>
<text x="215.14" y="605.57" font-size="10.15">300</text>
<line x1="253.93" y1="591.47" x2="253.93" y2="589.27" stroke="#3a3a3a" stroke-width="0.6"/>
<text x="253.93" y="605.57" font-size="10.15">400</text>
<line x1="292.71" y1="591.47" x2="292.71" y2="589.27" stroke="#3a3a3a" stroke-width="0.6"/>
<text x="292.71" y="605.57" font-size="10.15">500</text>
<line x1="331.50" y1="591.47" x2="331.50" y2="589.27" stroke="#3a3a3a" stroke-width="0.6"/>
<text x="331.50" y="605.57" font-size="10.15">600</text>
<text x="56.10" y="579.52" font-size="10.15" text-anchor="end">500</text>
<text x="56.10" y="596.47" font-size="10.15" text-anchor="end">0</text>
<text x="196.05" y="571.62" font-size="10.55" font-weight="bold">500 ms post-saccadic delay trials</text>
<text x="195.50" y="622.60" font-size="14">Post-saccadic delay (ms)</text>
<text transform="translate(33.10,486.80) rotate(-90)" font-size="14">Frequency</text>
<rect x="431.50" y="107.00" width="263.40" height="23.20" fill="#999"/>
<path d="M431.50,79.20 V255.00 H694.90" fill="none" stroke="#333" stroke-width="0.7"/>
<line x1="431.50" y1="79.20" x2="434.50" y2="79.20" stroke="#333" stroke-width="0.7"/>
<text x="427.20" y="83.70" font-size="12.2" text-anchor="end">0.65</text>
<line x1="431.50" y1="137.80" x2="434.50" y2="137.80" stroke="#333" stroke-width="0.7"/>
<text x="427.20" y="142.30" font-size="12.2" text-anchor="end">0.6</text>
<line x1="431.50" y1="196.40" x2="434.50" y2="196.40" stroke="#333" stroke-width="0.7"/>
<text x="427.20" y="200.90" font-size="12.2" text-anchor="end">0.55</text>
<line x1="431.50" y1="255.00" x2="434.50" y2="255.00" stroke="#333" stroke-width="0.7"/>
<text x="427.20" y="259.50" font-size="12.2" text-anchor="end">0.5</text>
<line x1="475.40" y1="255.00" x2="475.40" y2="252.00" stroke="#333" stroke-width="0.7"/>
<text x="475.40" y="270.50" font-size="12.2">5,16</text>
<line x1="563.20" y1="255.00" x2="563.20" y2="252.00" stroke="#333" stroke-width="0.7"/>
<text x="563.20" y="270.50" font-size="12.2">50,158</text>
<line x1="651.00" y1="255.00" x2="651.00" y2="252.00" stroke="#333" stroke-width="0.7"/>
<text x="651.00" y="270.50" font-size="12.2">500</text>
<polyline points="475.40,179.80 563.20,98.30 651.00,118.30" fill="none" stroke="#0a0a0a" stroke-width="1.5"/>
<path d="M475.40,170.30 V189.30 M472.40,170.30 h6 M472.40,189.30 h6" stroke="#0a0a0a" stroke-width="1.4" fill="none"/>
<circle cx="475.40" cy="179.80" r="2.5" fill="#fff" stroke="#0a0a0a" stroke-width="1.25"/>
<path d="M563.20,91.30 V105.80 M560.20,91.30 h6 M560.20,105.80 h6" stroke="#0a0a0a" stroke-width="1.4" fill="none"/>
<circle cx="563.20" cy="98.30" r="2.5" fill="#fff" stroke="#0a0a0a" stroke-width="1.25"/>
<path d="M651.00,106.80 V130.30 M648.00,106.80 h6 M648.00,130.30 h6" stroke="#0a0a0a" stroke-width="1.4" fill="none"/>
<circle cx="651.00" cy="118.30" r="2.5" fill="#fff" stroke="#0a0a0a" stroke-width="1.25"/>
<text x="563.20" y="286.30" font-size="12.6">Post-saccadic delay (ms)</text>
<text transform="translate(398.90,167.70) rotate(-90)" font-size="12.6">Categorization accuracy</text>
<rect x="431.50" y="427.20" width="263.40" height="19.00" fill="#999"/>
<path d="M431.50,398.30 V574.30 H694.90" fill="none" stroke="#333" stroke-width="0.7"/>
<line x1="431.50" y1="398.30" x2="434.50" y2="398.30" stroke="#333" stroke-width="0.7"/>
<text x="427.20" y="402.80" font-size="12.2" text-anchor="end">0.65</text>
<line x1="431.50" y1="456.97" x2="434.50" y2="456.97" stroke="#333" stroke-width="0.7"/>
<text x="427.20" y="461.47" font-size="12.2" text-anchor="end">0.6</text>
<line x1="431.50" y1="515.63" x2="434.50" y2="515.63" stroke="#333" stroke-width="0.7"/>
<text x="427.20" y="520.13" font-size="12.2" text-anchor="end">0.55</text>
<line x1="431.50" y1="574.30" x2="434.50" y2="574.30" stroke="#333" stroke-width="0.7"/>
<text x="427.20" y="578.80" font-size="12.2" text-anchor="end">0.5</text>
<line x1="464.43" y1="574.30" x2="464.43" y2="571.30" stroke="#333" stroke-width="0.7"/>
<text x="464.43" y="589.80" font-size="12.2">0-16</text>
<line x1="530.27" y1="574.30" x2="530.27" y2="571.30" stroke="#333" stroke-width="0.7"/>
<text x="530.27" y="589.80" font-size="12.2">16-50</text>
<line x1="596.12" y1="574.30" x2="596.12" y2="571.30" stroke="#333" stroke-width="0.7"/>
<text x="596.12" y="589.80" font-size="12.2">50-158</text>
<line x1="661.97" y1="574.30" x2="661.97" y2="571.30" stroke="#333" stroke-width="0.7"/>
<text x="661.97" y="589.80" font-size="12.2">158-1000</text>
<polyline points="464.43,479.00 530.27,425.50 596.12,425.50 661.97,436.50" fill="none" stroke="#0a0a0a" stroke-width="1.5"/>
<path d="M464.43,467.50 V491.00 M461.43,467.50 h6 M461.43,491.00 h6" stroke="#0a0a0a" stroke-width="1.4" fill="none"/>
<circle cx="464.43" cy="479.00" r="2.5" fill="#fff" stroke="#0a0a0a" stroke-width="1.25"/>
<path d="M530.27,413.00 V438.00 M527.27,413.00 h6 M527.27,438.00 h6" stroke="#0a0a0a" stroke-width="1.4" fill="none"/>
<circle cx="530.27" cy="425.50" r="2.5" fill="#fff" stroke="#0a0a0a" stroke-width="1.25"/>
<path d="M596.12,418.50 V433.00 M593.12,418.50 h6 M593.12,433.00 h6" stroke="#0a0a0a" stroke-width="1.4" fill="none"/>
<circle cx="596.12" cy="425.50" r="2.5" fill="#fff" stroke="#0a0a0a" stroke-width="1.25"/>
<path d="M661.97,427.00 V446.00 M658.97,427.00 h6 M658.97,446.00 h6" stroke="#0a0a0a" stroke-width="1.4" fill="none"/>
<circle cx="661.97" cy="436.50" r="2.5" fill="#fff" stroke="#0a0a0a" stroke-width="1.25"/>
<text x="563.20" y="605.20" font-size="12.6">Post-saccadic delay (ms)</text>
<text transform="translate(398.90,486.20) rotate(-90)" font-size="12.6">Categorization accuracy</text>
</svg>
</body></html>
